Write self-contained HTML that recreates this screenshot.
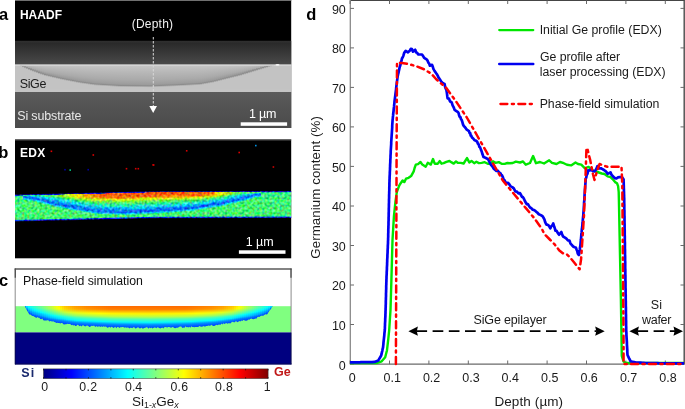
<!DOCTYPE html>
<html><head><meta charset="utf-8"><style>
html,body{margin:0;padding:0;background:#fff;width:685px;height:409px;overflow:hidden}
svg{display:block;will-change:transform;font-family:"Liberation Sans",sans-serif}
</style></head><body>
<svg width="685" height="409" viewBox="0 0 685 409" font-family="Liberation Sans, sans-serif">
<defs>
<linearGradient id="topdark" x1="0" y1="0" x2="0" y2="1"><stop offset="0" stop-color="#303030"/><stop offset="0.12" stop-color="#2a2a2a"/><stop offset="1" stop-color="#4a4a4a"/></linearGradient>
<linearGradient id="subst" x1="0" y1="0" x2="0" y2="1"><stop offset="0" stop-color="#5b5b5b"/><stop offset="0.5" stop-color="#525252"/><stop offset="1" stop-color="#4b4b4b"/></linearGradient>
<linearGradient id="g0" gradientUnits="userSpaceOnUse" x1="0" y1="64.50" x2="0" y2="91.50"><stop offset="0.000" stop-color="#c8c8c8"/><stop offset="0.010" stop-color="#b8b8b8"/><stop offset="0.020" stop-color="#aaaaaa"/><stop offset="0.020" stop-color="#9c9c9c"/><stop offset="0.020" stop-color="#8c8c8c"/><stop offset="0.051" stop-color="#b0b0b0"/><stop offset="0.080" stop-color="#c3c3c3"/><stop offset="1.000" stop-color="#c3c3c3"/></linearGradient>
<linearGradient id="g1" gradientUnits="userSpaceOnUse" x1="0" y1="64.50" x2="0" y2="91.50"><stop offset="0.000" stop-color="#c8c8c8"/><stop offset="0.023" stop-color="#b8b8b8"/><stop offset="0.046" stop-color="#aaaaaa"/><stop offset="0.046" stop-color="#9c9c9c"/><stop offset="0.055" stop-color="#8c8c8c"/><stop offset="0.088" stop-color="#b0b0b0"/><stop offset="0.118" stop-color="#c3c3c3"/><stop offset="1.000" stop-color="#c3c3c3"/></linearGradient>
<linearGradient id="g2" gradientUnits="userSpaceOnUse" x1="0" y1="64.50" x2="0" y2="91.50"><stop offset="0.000" stop-color="#c8c8c8"/><stop offset="0.035" stop-color="#b8b8b8"/><stop offset="0.071" stop-color="#aaaaaa"/><stop offset="0.071" stop-color="#9c9c9c"/><stop offset="0.090" stop-color="#8c8c8c"/><stop offset="0.123" stop-color="#b0b0b0"/><stop offset="0.153" stop-color="#c3c3c3"/><stop offset="1.000" stop-color="#c3c3c3"/></linearGradient>
<linearGradient id="g3" gradientUnits="userSpaceOnUse" x1="0" y1="64.50" x2="0" y2="91.50"><stop offset="0.000" stop-color="#c8c8c8"/><stop offset="0.046" stop-color="#b8b8b8"/><stop offset="0.093" stop-color="#aaaaaa"/><stop offset="0.093" stop-color="#9c9c9c"/><stop offset="0.122" stop-color="#8c8c8c"/><stop offset="0.155" stop-color="#b0b0b0"/><stop offset="0.185" stop-color="#c3c3c3"/><stop offset="1.000" stop-color="#c3c3c3"/></linearGradient>
<linearGradient id="g4" gradientUnits="userSpaceOnUse" x1="0" y1="64.50" x2="0" y2="91.50"><stop offset="0.000" stop-color="#c8c8c8"/><stop offset="0.058" stop-color="#b8b8b8"/><stop offset="0.115" stop-color="#aaaaaa"/><stop offset="0.115" stop-color="#9c9c9c"/><stop offset="0.153" stop-color="#8c8c8c"/><stop offset="0.187" stop-color="#b0b0b0"/><stop offset="0.216" stop-color="#c3c3c3"/><stop offset="1.000" stop-color="#c3c3c3"/></linearGradient>
<linearGradient id="g5" gradientUnits="userSpaceOnUse" x1="0" y1="64.50" x2="0" y2="91.50"><stop offset="0.000" stop-color="#c8c8c8"/><stop offset="0.068" stop-color="#b8b8b8"/><stop offset="0.137" stop-color="#aaaaaa"/><stop offset="0.137" stop-color="#9c9c9c"/><stop offset="0.184" stop-color="#8c8c8c"/><stop offset="0.217" stop-color="#b0b0b0"/><stop offset="0.247" stop-color="#c3c3c3"/><stop offset="1.000" stop-color="#c3c3c3"/></linearGradient>
<linearGradient id="g6" gradientUnits="userSpaceOnUse" x1="0" y1="64.50" x2="0" y2="91.50"><stop offset="0.000" stop-color="#c8c8c8"/><stop offset="0.078" stop-color="#b8b8b8"/><stop offset="0.156" stop-color="#aaaaaa"/><stop offset="0.164" stop-color="#9c9c9c"/><stop offset="0.212" stop-color="#8c8c8c"/><stop offset="0.246" stop-color="#b0b0b0"/><stop offset="0.275" stop-color="#c3c3c3"/><stop offset="1.000" stop-color="#c3c3c3"/></linearGradient>
<linearGradient id="g7" gradientUnits="userSpaceOnUse" x1="0" y1="64.50" x2="0" y2="91.50"><stop offset="0.000" stop-color="#c8c8c8"/><stop offset="0.088" stop-color="#b8b8b8"/><stop offset="0.176" stop-color="#aaaaaa"/><stop offset="0.193" stop-color="#9c9c9c"/><stop offset="0.241" stop-color="#8c8c8c"/><stop offset="0.274" stop-color="#b0b0b0"/><stop offset="0.304" stop-color="#c3c3c3"/><stop offset="1.000" stop-color="#c3c3c3"/></linearGradient>
<linearGradient id="g8" gradientUnits="userSpaceOnUse" x1="0" y1="64.50" x2="0" y2="91.50"><stop offset="0.000" stop-color="#c8c8c8"/><stop offset="0.098" stop-color="#b8b8b8"/><stop offset="0.196" stop-color="#aaaaaa"/><stop offset="0.221" stop-color="#9c9c9c"/><stop offset="0.269" stop-color="#8c8c8c"/><stop offset="0.302" stop-color="#b0b0b0"/><stop offset="0.332" stop-color="#c3c3c3"/><stop offset="1.000" stop-color="#c3c3c3"/></linearGradient>
<linearGradient id="g9" gradientUnits="userSpaceOnUse" x1="0" y1="64.50" x2="0" y2="91.50"><stop offset="0.000" stop-color="#c8c8c8"/><stop offset="0.108" stop-color="#b8b8b8"/><stop offset="0.215" stop-color="#aaaaaa"/><stop offset="0.248" stop-color="#9c9c9c"/><stop offset="0.296" stop-color="#8c8c8c"/><stop offset="0.330" stop-color="#b0b0b0"/><stop offset="0.359" stop-color="#c3c3c3"/><stop offset="1.000" stop-color="#c3c3c3"/></linearGradient>
<linearGradient id="g10" gradientUnits="userSpaceOnUse" x1="0" y1="64.50" x2="0" y2="91.50"><stop offset="0.000" stop-color="#c8c8c8"/><stop offset="0.116" stop-color="#b8b8b8"/><stop offset="0.232" stop-color="#aaaaaa"/><stop offset="0.273" stop-color="#9c9c9c"/><stop offset="0.321" stop-color="#8c8c8c"/><stop offset="0.354" stop-color="#b0b0b0"/><stop offset="0.384" stop-color="#c3c3c3"/><stop offset="1.000" stop-color="#c3c3c3"/></linearGradient>
<linearGradient id="g11" gradientUnits="userSpaceOnUse" x1="0" y1="64.50" x2="0" y2="91.50"><stop offset="0.000" stop-color="#c8c8c8"/><stop offset="0.125" stop-color="#b8b8b8"/><stop offset="0.250" stop-color="#aaaaaa"/><stop offset="0.298" stop-color="#9c9c9c"/><stop offset="0.346" stop-color="#8c8c8c"/><stop offset="0.379" stop-color="#b0b0b0"/><stop offset="0.409" stop-color="#c3c3c3"/><stop offset="1.000" stop-color="#c3c3c3"/></linearGradient>
<linearGradient id="g12" gradientUnits="userSpaceOnUse" x1="0" y1="64.50" x2="0" y2="91.50"><stop offset="0.000" stop-color="#c8c8c8"/><stop offset="0.134" stop-color="#b8b8b8"/><stop offset="0.267" stop-color="#aaaaaa"/><stop offset="0.322" stop-color="#9c9c9c"/><stop offset="0.370" stop-color="#8c8c8c"/><stop offset="0.404" stop-color="#b0b0b0"/><stop offset="0.433" stop-color="#c3c3c3"/><stop offset="1.000" stop-color="#c3c3c3"/></linearGradient>
<linearGradient id="g13" gradientUnits="userSpaceOnUse" x1="0" y1="64.50" x2="0" y2="91.50"><stop offset="0.000" stop-color="#c8c8c8"/><stop offset="0.140" stop-color="#b8b8b8"/><stop offset="0.279" stop-color="#aaaaaa"/><stop offset="0.340" stop-color="#9c9c9c"/><stop offset="0.388" stop-color="#8c8c8c"/><stop offset="0.421" stop-color="#b0b0b0"/><stop offset="0.451" stop-color="#c3c3c3"/><stop offset="1.000" stop-color="#c3c3c3"/></linearGradient>
<linearGradient id="g14" gradientUnits="userSpaceOnUse" x1="0" y1="64.50" x2="0" y2="91.50"><stop offset="0.000" stop-color="#c8c8c8"/><stop offset="0.146" stop-color="#b8b8b8"/><stop offset="0.291" stop-color="#aaaaaa"/><stop offset="0.357" stop-color="#9c9c9c"/><stop offset="0.405" stop-color="#8c8c8c"/><stop offset="0.438" stop-color="#b0b0b0"/><stop offset="0.468" stop-color="#c3c3c3"/><stop offset="1.000" stop-color="#c3c3c3"/></linearGradient>
<linearGradient id="g15" gradientUnits="userSpaceOnUse" x1="0" y1="64.50" x2="0" y2="91.50"><stop offset="0.000" stop-color="#c8c8c8"/><stop offset="0.152" stop-color="#b8b8b8"/><stop offset="0.303" stop-color="#aaaaaa"/><stop offset="0.374" stop-color="#9c9c9c"/><stop offset="0.422" stop-color="#8c8c8c"/><stop offset="0.456" stop-color="#b0b0b0"/><stop offset="0.485" stop-color="#c3c3c3"/><stop offset="1.000" stop-color="#c3c3c3"/></linearGradient>
<linearGradient id="g16" gradientUnits="userSpaceOnUse" x1="0" y1="64.50" x2="0" y2="91.50"><stop offset="0.000" stop-color="#c8c8c8"/><stop offset="0.158" stop-color="#b8b8b8"/><stop offset="0.315" stop-color="#aaaaaa"/><stop offset="0.391" stop-color="#9c9c9c"/><stop offset="0.440" stop-color="#8c8c8c"/><stop offset="0.473" stop-color="#b0b0b0"/><stop offset="0.503" stop-color="#c3c3c3"/><stop offset="1.000" stop-color="#c3c3c3"/></linearGradient>
<linearGradient id="g17" gradientUnits="userSpaceOnUse" x1="0" y1="64.50" x2="0" y2="91.50"><stop offset="0.000" stop-color="#c8c8c8"/><stop offset="0.164" stop-color="#b8b8b8"/><stop offset="0.328" stop-color="#aaaaaa"/><stop offset="0.409" stop-color="#9c9c9c"/><stop offset="0.457" stop-color="#8c8c8c"/><stop offset="0.490" stop-color="#b0b0b0"/><stop offset="0.520" stop-color="#c3c3c3"/><stop offset="1.000" stop-color="#c3c3c3"/></linearGradient>
<linearGradient id="g18" gradientUnits="userSpaceOnUse" x1="0" y1="64.50" x2="0" y2="91.50"><stop offset="0.000" stop-color="#c8c8c8"/><stop offset="0.170" stop-color="#b8b8b8"/><stop offset="0.340" stop-color="#aaaaaa"/><stop offset="0.426" stop-color="#9c9c9c"/><stop offset="0.474" stop-color="#8c8c8c"/><stop offset="0.507" stop-color="#b0b0b0"/><stop offset="0.537" stop-color="#c3c3c3"/><stop offset="1.000" stop-color="#c3c3c3"/></linearGradient>
<linearGradient id="g19" gradientUnits="userSpaceOnUse" x1="0" y1="64.50" x2="0" y2="91.50"><stop offset="0.000" stop-color="#c8c8c8"/><stop offset="0.176" stop-color="#b8b8b8"/><stop offset="0.352" stop-color="#aaaaaa"/><stop offset="0.443" stop-color="#9c9c9c"/><stop offset="0.491" stop-color="#8c8c8c"/><stop offset="0.525" stop-color="#b0b0b0"/><stop offset="0.554" stop-color="#c3c3c3"/><stop offset="1.000" stop-color="#c3c3c3"/></linearGradient>
<linearGradient id="g20" gradientUnits="userSpaceOnUse" x1="0" y1="64.50" x2="0" y2="91.50"><stop offset="0.000" stop-color="#c8c8c8"/><stop offset="0.182" stop-color="#b8b8b8"/><stop offset="0.364" stop-color="#aaaaaa"/><stop offset="0.461" stop-color="#9c9c9c"/><stop offset="0.509" stop-color="#8c8c8c"/><stop offset="0.542" stop-color="#b0b0b0"/><stop offset="0.572" stop-color="#c3c3c3"/><stop offset="1.000" stop-color="#c3c3c3"/></linearGradient>
<linearGradient id="g21" gradientUnits="userSpaceOnUse" x1="0" y1="64.50" x2="0" y2="91.50"><stop offset="0.000" stop-color="#c8c8c8"/><stop offset="0.187" stop-color="#b8b8b8"/><stop offset="0.375" stop-color="#aaaaaa"/><stop offset="0.476" stop-color="#9c9c9c"/><stop offset="0.524" stop-color="#8c8c8c"/><stop offset="0.557" stop-color="#b0b0b0"/><stop offset="0.587" stop-color="#c3c3c3"/><stop offset="1.000" stop-color="#c3c3c3"/></linearGradient>
<linearGradient id="g22" gradientUnits="userSpaceOnUse" x1="0" y1="64.50" x2="0" y2="91.50"><stop offset="0.000" stop-color="#c8c8c8"/><stop offset="0.192" stop-color="#b8b8b8"/><stop offset="0.385" stop-color="#aaaaaa"/><stop offset="0.490" stop-color="#9c9c9c"/><stop offset="0.538" stop-color="#8c8c8c"/><stop offset="0.572" stop-color="#b0b0b0"/><stop offset="0.601" stop-color="#c3c3c3"/><stop offset="1.000" stop-color="#c3c3c3"/></linearGradient>
<linearGradient id="g23" gradientUnits="userSpaceOnUse" x1="0" y1="64.50" x2="0" y2="91.50"><stop offset="0.000" stop-color="#c8c8c8"/><stop offset="0.197" stop-color="#b8b8b8"/><stop offset="0.394" stop-color="#aaaaaa"/><stop offset="0.504" stop-color="#9c9c9c"/><stop offset="0.552" stop-color="#8c8c8c"/><stop offset="0.586" stop-color="#b0b0b0"/><stop offset="0.615" stop-color="#c3c3c3"/><stop offset="1.000" stop-color="#c3c3c3"/></linearGradient>
<linearGradient id="g24" gradientUnits="userSpaceOnUse" x1="0" y1="64.50" x2="0" y2="91.50"><stop offset="0.000" stop-color="#c8c8c8"/><stop offset="0.202" stop-color="#b8b8b8"/><stop offset="0.404" stop-color="#aaaaaa"/><stop offset="0.518" stop-color="#9c9c9c"/><stop offset="0.567" stop-color="#8c8c8c"/><stop offset="0.600" stop-color="#b0b0b0"/><stop offset="0.629" stop-color="#c3c3c3"/><stop offset="1.000" stop-color="#c3c3c3"/></linearGradient>
<linearGradient id="g25" gradientUnits="userSpaceOnUse" x1="0" y1="64.50" x2="0" y2="91.50"><stop offset="0.000" stop-color="#c8c8c8"/><stop offset="0.207" stop-color="#b8b8b8"/><stop offset="0.414" stop-color="#aaaaaa"/><stop offset="0.533" stop-color="#9c9c9c"/><stop offset="0.581" stop-color="#8c8c8c"/><stop offset="0.614" stop-color="#b0b0b0"/><stop offset="0.644" stop-color="#c3c3c3"/><stop offset="1.000" stop-color="#c3c3c3"/></linearGradient>
<linearGradient id="g26" gradientUnits="userSpaceOnUse" x1="0" y1="64.50" x2="0" y2="91.50"><stop offset="0.000" stop-color="#c8c8c8"/><stop offset="0.212" stop-color="#b8b8b8"/><stop offset="0.424" stop-color="#aaaaaa"/><stop offset="0.547" stop-color="#9c9c9c"/><stop offset="0.595" stop-color="#8c8c8c"/><stop offset="0.628" stop-color="#b0b0b0"/><stop offset="0.658" stop-color="#c3c3c3"/><stop offset="1.000" stop-color="#c3c3c3"/></linearGradient>
<linearGradient id="g27" gradientUnits="userSpaceOnUse" x1="0" y1="64.50" x2="0" y2="91.50"><stop offset="0.000" stop-color="#c8c8c8"/><stop offset="0.217" stop-color="#b8b8b8"/><stop offset="0.434" stop-color="#aaaaaa"/><stop offset="0.561" stop-color="#9c9c9c"/><stop offset="0.609" stop-color="#8c8c8c"/><stop offset="0.642" stop-color="#b0b0b0"/><stop offset="0.672" stop-color="#c3c3c3"/><stop offset="1.000" stop-color="#c3c3c3"/></linearGradient>
<linearGradient id="g28" gradientUnits="userSpaceOnUse" x1="0" y1="64.50" x2="0" y2="91.50"><stop offset="0.000" stop-color="#c8c8c8"/><stop offset="0.222" stop-color="#b8b8b8"/><stop offset="0.444" stop-color="#aaaaaa"/><stop offset="0.575" stop-color="#9c9c9c"/><stop offset="0.623" stop-color="#8c8c8c"/><stop offset="0.657" stop-color="#b0b0b0"/><stop offset="0.686" stop-color="#c3c3c3"/><stop offset="1.000" stop-color="#c3c3c3"/></linearGradient>
<linearGradient id="g29" gradientUnits="userSpaceOnUse" x1="0" y1="64.50" x2="0" y2="91.50"><stop offset="0.000" stop-color="#c8c8c8"/><stop offset="0.227" stop-color="#b8b8b8"/><stop offset="0.454" stop-color="#aaaaaa"/><stop offset="0.589" stop-color="#9c9c9c"/><stop offset="0.637" stop-color="#8c8c8c"/><stop offset="0.671" stop-color="#b0b0b0"/><stop offset="0.700" stop-color="#c3c3c3"/><stop offset="1.000" stop-color="#c3c3c3"/></linearGradient>
<linearGradient id="g30" gradientUnits="userSpaceOnUse" x1="0" y1="64.50" x2="0" y2="91.50"><stop offset="0.000" stop-color="#c8c8c8"/><stop offset="0.231" stop-color="#b8b8b8"/><stop offset="0.463" stop-color="#aaaaaa"/><stop offset="0.601" stop-color="#9c9c9c"/><stop offset="0.650" stop-color="#8c8c8c"/><stop offset="0.683" stop-color="#b0b0b0"/><stop offset="0.713" stop-color="#c3c3c3"/><stop offset="1.000" stop-color="#c3c3c3"/></linearGradient>
<linearGradient id="g31" gradientUnits="userSpaceOnUse" x1="0" y1="64.50" x2="0" y2="91.50"><stop offset="0.000" stop-color="#c8c8c8"/><stop offset="0.235" stop-color="#b8b8b8"/><stop offset="0.470" stop-color="#aaaaaa"/><stop offset="0.612" stop-color="#9c9c9c"/><stop offset="0.660" stop-color="#8c8c8c"/><stop offset="0.693" stop-color="#b0b0b0"/><stop offset="0.723" stop-color="#c3c3c3"/><stop offset="1.000" stop-color="#c3c3c3"/></linearGradient>
<linearGradient id="g32" gradientUnits="userSpaceOnUse" x1="0" y1="64.50" x2="0" y2="91.50"><stop offset="0.000" stop-color="#c8c8c8"/><stop offset="0.239" stop-color="#b8b8b8"/><stop offset="0.477" stop-color="#aaaaaa"/><stop offset="0.622" stop-color="#9c9c9c"/><stop offset="0.670" stop-color="#8c8c8c"/><stop offset="0.704" stop-color="#b0b0b0"/><stop offset="0.733" stop-color="#c3c3c3"/><stop offset="1.000" stop-color="#c3c3c3"/></linearGradient>
<linearGradient id="g33" gradientUnits="userSpaceOnUse" x1="0" y1="64.50" x2="0" y2="91.50"><stop offset="0.000" stop-color="#c8c8c8"/><stop offset="0.242" stop-color="#b8b8b8"/><stop offset="0.484" stop-color="#aaaaaa"/><stop offset="0.633" stop-color="#9c9c9c"/><stop offset="0.681" stop-color="#8c8c8c"/><stop offset="0.714" stop-color="#b0b0b0"/><stop offset="0.744" stop-color="#c3c3c3"/><stop offset="1.000" stop-color="#c3c3c3"/></linearGradient>
<linearGradient id="g34" gradientUnits="userSpaceOnUse" x1="0" y1="64.50" x2="0" y2="91.50"><stop offset="0.000" stop-color="#c8c8c8"/><stop offset="0.246" stop-color="#b8b8b8"/><stop offset="0.492" stop-color="#aaaaaa"/><stop offset="0.643" stop-color="#9c9c9c"/><stop offset="0.691" stop-color="#8c8c8c"/><stop offset="0.724" stop-color="#b0b0b0"/><stop offset="0.754" stop-color="#c3c3c3"/><stop offset="1.000" stop-color="#c3c3c3"/></linearGradient>
<linearGradient id="g35" gradientUnits="userSpaceOnUse" x1="0" y1="64.50" x2="0" y2="91.50"><stop offset="0.000" stop-color="#c8c8c8"/><stop offset="0.249" stop-color="#b8b8b8"/><stop offset="0.499" stop-color="#aaaaaa"/><stop offset="0.653" stop-color="#9c9c9c"/><stop offset="0.701" stop-color="#8c8c8c"/><stop offset="0.735" stop-color="#b0b0b0"/><stop offset="0.764" stop-color="#c3c3c3"/><stop offset="1.000" stop-color="#c3c3c3"/></linearGradient>
<linearGradient id="g36" gradientUnits="userSpaceOnUse" x1="0" y1="64.50" x2="0" y2="91.50"><stop offset="0.000" stop-color="#c8c8c8"/><stop offset="0.253" stop-color="#b8b8b8"/><stop offset="0.506" stop-color="#aaaaaa"/><stop offset="0.664" stop-color="#9c9c9c"/><stop offset="0.712" stop-color="#8c8c8c"/><stop offset="0.745" stop-color="#b0b0b0"/><stop offset="0.775" stop-color="#c3c3c3"/><stop offset="1.000" stop-color="#c3c3c3"/></linearGradient>
<linearGradient id="g37" gradientUnits="userSpaceOnUse" x1="0" y1="64.50" x2="0" y2="91.50"><stop offset="0.000" stop-color="#c8c8c8"/><stop offset="0.257" stop-color="#b8b8b8"/><stop offset="0.513" stop-color="#aaaaaa"/><stop offset="0.674" stop-color="#9c9c9c"/><stop offset="0.722" stop-color="#8c8c8c"/><stop offset="0.756" stop-color="#b0b0b0"/><stop offset="0.785" stop-color="#c3c3c3"/><stop offset="1.000" stop-color="#c3c3c3"/></linearGradient>
<linearGradient id="g38" gradientUnits="userSpaceOnUse" x1="0" y1="64.50" x2="0" y2="91.50"><stop offset="0.000" stop-color="#c8c8c8"/><stop offset="0.258" stop-color="#b8b8b8"/><stop offset="0.516" stop-color="#aaaaaa"/><stop offset="0.679" stop-color="#9c9c9c"/><stop offset="0.727" stop-color="#8c8c8c"/><stop offset="0.760" stop-color="#b0b0b0"/><stop offset="0.790" stop-color="#c3c3c3"/><stop offset="1.000" stop-color="#c3c3c3"/></linearGradient>
<linearGradient id="g39" gradientUnits="userSpaceOnUse" x1="0" y1="64.50" x2="0" y2="91.50"><stop offset="0.000" stop-color="#c8c8c8"/><stop offset="0.260" stop-color="#b8b8b8"/><stop offset="0.520" stop-color="#aaaaaa"/><stop offset="0.683" stop-color="#9c9c9c"/><stop offset="0.731" stop-color="#8c8c8c"/><stop offset="0.764" stop-color="#b0b0b0"/><stop offset="0.794" stop-color="#c3c3c3"/><stop offset="1.000" stop-color="#c3c3c3"/></linearGradient>
<linearGradient id="g40" gradientUnits="userSpaceOnUse" x1="0" y1="64.50" x2="0" y2="91.50"><stop offset="0.000" stop-color="#c8c8c8"/><stop offset="0.261" stop-color="#b8b8b8"/><stop offset="0.523" stop-color="#aaaaaa"/><stop offset="0.687" stop-color="#9c9c9c"/><stop offset="0.736" stop-color="#8c8c8c"/><stop offset="0.769" stop-color="#b0b0b0"/><stop offset="0.799" stop-color="#c3c3c3"/><stop offset="1.000" stop-color="#c3c3c3"/></linearGradient>
<linearGradient id="g41" gradientUnits="userSpaceOnUse" x1="0" y1="64.50" x2="0" y2="91.50"><stop offset="0.000" stop-color="#c8c8c8"/><stop offset="0.263" stop-color="#b8b8b8"/><stop offset="0.526" stop-color="#aaaaaa"/><stop offset="0.692" stop-color="#9c9c9c"/><stop offset="0.740" stop-color="#8c8c8c"/><stop offset="0.773" stop-color="#b0b0b0"/><stop offset="0.803" stop-color="#c3c3c3"/><stop offset="1.000" stop-color="#c3c3c3"/></linearGradient>
<linearGradient id="g42" gradientUnits="userSpaceOnUse" x1="0" y1="64.50" x2="0" y2="91.50"><stop offset="0.000" stop-color="#c8c8c8"/><stop offset="0.264" stop-color="#b8b8b8"/><stop offset="0.529" stop-color="#aaaaaa"/><stop offset="0.696" stop-color="#9c9c9c"/><stop offset="0.744" stop-color="#8c8c8c"/><stop offset="0.778" stop-color="#b0b0b0"/><stop offset="0.807" stop-color="#c3c3c3"/><stop offset="1.000" stop-color="#c3c3c3"/></linearGradient>
<linearGradient id="g43" gradientUnits="userSpaceOnUse" x1="0" y1="64.50" x2="0" y2="91.50"><stop offset="0.000" stop-color="#c8c8c8"/><stop offset="0.266" stop-color="#b8b8b8"/><stop offset="0.532" stop-color="#aaaaaa"/><stop offset="0.701" stop-color="#9c9c9c"/><stop offset="0.749" stop-color="#8c8c8c"/><stop offset="0.782" stop-color="#b0b0b0"/><stop offset="0.812" stop-color="#c3c3c3"/><stop offset="1.000" stop-color="#c3c3c3"/></linearGradient>
<linearGradient id="g44" gradientUnits="userSpaceOnUse" x1="0" y1="64.50" x2="0" y2="91.50"><stop offset="0.000" stop-color="#c8c8c8"/><stop offset="0.268" stop-color="#b8b8b8"/><stop offset="0.535" stop-color="#aaaaaa"/><stop offset="0.705" stop-color="#9c9c9c"/><stop offset="0.753" stop-color="#8c8c8c"/><stop offset="0.787" stop-color="#b0b0b0"/><stop offset="0.816" stop-color="#c3c3c3"/><stop offset="1.000" stop-color="#c3c3c3"/></linearGradient>
<linearGradient id="g45" gradientUnits="userSpaceOnUse" x1="0" y1="64.50" x2="0" y2="91.50"><stop offset="0.000" stop-color="#c8c8c8"/><stop offset="0.269" stop-color="#b8b8b8"/><stop offset="0.538" stop-color="#aaaaaa"/><stop offset="0.710" stop-color="#9c9c9c"/><stop offset="0.758" stop-color="#8c8c8c"/><stop offset="0.791" stop-color="#b0b0b0"/><stop offset="0.821" stop-color="#c3c3c3"/><stop offset="1.000" stop-color="#c3c3c3"/></linearGradient>
<linearGradient id="g46" gradientUnits="userSpaceOnUse" x1="0" y1="64.50" x2="0" y2="91.50"><stop offset="0.000" stop-color="#c8c8c8"/><stop offset="0.271" stop-color="#b8b8b8"/><stop offset="0.541" stop-color="#aaaaaa"/><stop offset="0.714" stop-color="#9c9c9c"/><stop offset="0.762" stop-color="#8c8c8c"/><stop offset="0.796" stop-color="#b0b0b0"/><stop offset="0.825" stop-color="#c3c3c3"/><stop offset="1.000" stop-color="#c3c3c3"/></linearGradient>
<linearGradient id="g47" gradientUnits="userSpaceOnUse" x1="0" y1="64.50" x2="0" y2="91.50"><stop offset="0.000" stop-color="#c8c8c8"/><stop offset="0.272" stop-color="#b8b8b8"/><stop offset="0.544" stop-color="#aaaaaa"/><stop offset="0.719" stop-color="#9c9c9c"/><stop offset="0.767" stop-color="#8c8c8c"/><stop offset="0.800" stop-color="#b0b0b0"/><stop offset="0.830" stop-color="#c3c3c3"/><stop offset="1.000" stop-color="#c3c3c3"/></linearGradient>
<linearGradient id="g48" gradientUnits="userSpaceOnUse" x1="0" y1="64.50" x2="0" y2="91.50"><stop offset="0.000" stop-color="#c8c8c8"/><stop offset="0.274" stop-color="#b8b8b8"/><stop offset="0.548" stop-color="#aaaaaa"/><stop offset="0.723" stop-color="#9c9c9c"/><stop offset="0.771" stop-color="#8c8c8c"/><stop offset="0.804" stop-color="#b0b0b0"/><stop offset="0.834" stop-color="#c3c3c3"/><stop offset="1.000" stop-color="#c3c3c3"/></linearGradient>
<linearGradient id="g49" gradientUnits="userSpaceOnUse" x1="0" y1="64.50" x2="0" y2="91.50"><stop offset="0.000" stop-color="#c8c8c8"/><stop offset="0.275" stop-color="#b8b8b8"/><stop offset="0.551" stop-color="#aaaaaa"/><stop offset="0.727" stop-color="#9c9c9c"/><stop offset="0.776" stop-color="#8c8c8c"/><stop offset="0.809" stop-color="#b0b0b0"/><stop offset="0.839" stop-color="#c3c3c3"/><stop offset="1.000" stop-color="#c3c3c3"/></linearGradient>
<linearGradient id="g50" gradientUnits="userSpaceOnUse" x1="0" y1="64.50" x2="0" y2="91.50"><stop offset="0.000" stop-color="#c8c8c8"/><stop offset="0.276" stop-color="#b8b8b8"/><stop offset="0.553" stop-color="#aaaaaa"/><stop offset="0.730" stop-color="#9c9c9c"/><stop offset="0.778" stop-color="#8c8c8c"/><stop offset="0.812" stop-color="#b0b0b0"/><stop offset="0.841" stop-color="#c3c3c3"/><stop offset="1.000" stop-color="#c3c3c3"/></linearGradient>
<linearGradient id="g51" gradientUnits="userSpaceOnUse" x1="0" y1="64.50" x2="0" y2="91.50"><stop offset="0.000" stop-color="#c8c8c8"/><stop offset="0.277" stop-color="#b8b8b8"/><stop offset="0.553" stop-color="#aaaaaa"/><stop offset="0.731" stop-color="#9c9c9c"/><stop offset="0.779" stop-color="#8c8c8c"/><stop offset="0.813" stop-color="#b0b0b0"/><stop offset="0.842" stop-color="#c3c3c3"/><stop offset="1.000" stop-color="#c3c3c3"/></linearGradient>
<linearGradient id="g52" gradientUnits="userSpaceOnUse" x1="0" y1="64.50" x2="0" y2="91.50"><stop offset="0.000" stop-color="#c8c8c8"/><stop offset="0.277" stop-color="#b8b8b8"/><stop offset="0.554" stop-color="#aaaaaa"/><stop offset="0.732" stop-color="#9c9c9c"/><stop offset="0.780" stop-color="#8c8c8c"/><stop offset="0.814" stop-color="#b0b0b0"/><stop offset="0.843" stop-color="#c3c3c3"/><stop offset="1.000" stop-color="#c3c3c3"/></linearGradient>
<linearGradient id="g53" gradientUnits="userSpaceOnUse" x1="0" y1="64.50" x2="0" y2="91.50"><stop offset="0.000" stop-color="#c8c8c8"/><stop offset="0.277" stop-color="#b8b8b8"/><stop offset="0.555" stop-color="#aaaaaa"/><stop offset="0.733" stop-color="#9c9c9c"/><stop offset="0.781" stop-color="#8c8c8c"/><stop offset="0.815" stop-color="#b0b0b0"/><stop offset="0.844" stop-color="#c3c3c3"/><stop offset="1.000" stop-color="#c3c3c3"/></linearGradient>
<linearGradient id="g54" gradientUnits="userSpaceOnUse" x1="0" y1="64.50" x2="0" y2="91.50"><stop offset="0.000" stop-color="#c8c8c8"/><stop offset="0.278" stop-color="#b8b8b8"/><stop offset="0.555" stop-color="#aaaaaa"/><stop offset="0.734" stop-color="#9c9c9c"/><stop offset="0.782" stop-color="#8c8c8c"/><stop offset="0.816" stop-color="#b0b0b0"/><stop offset="0.845" stop-color="#c3c3c3"/><stop offset="1.000" stop-color="#c3c3c3"/></linearGradient>
<linearGradient id="g55" gradientUnits="userSpaceOnUse" x1="0" y1="64.50" x2="0" y2="91.50"><stop offset="0.000" stop-color="#c8c8c8"/><stop offset="0.278" stop-color="#b8b8b8"/><stop offset="0.556" stop-color="#aaaaaa"/><stop offset="0.735" stop-color="#9c9c9c"/><stop offset="0.783" stop-color="#8c8c8c"/><stop offset="0.817" stop-color="#b0b0b0"/><stop offset="0.846" stop-color="#c3c3c3"/><stop offset="1.000" stop-color="#c3c3c3"/></linearGradient>
<linearGradient id="g56" gradientUnits="userSpaceOnUse" x1="0" y1="64.50" x2="0" y2="91.50"><stop offset="0.000" stop-color="#c8c8c8"/><stop offset="0.278" stop-color="#b8b8b8"/><stop offset="0.557" stop-color="#aaaaaa"/><stop offset="0.736" stop-color="#9c9c9c"/><stop offset="0.784" stop-color="#8c8c8c"/><stop offset="0.818" stop-color="#b0b0b0"/><stop offset="0.847" stop-color="#c3c3c3"/><stop offset="1.000" stop-color="#c3c3c3"/></linearGradient>
<linearGradient id="g57" gradientUnits="userSpaceOnUse" x1="0" y1="64.50" x2="0" y2="91.50"><stop offset="0.000" stop-color="#c8c8c8"/><stop offset="0.279" stop-color="#b8b8b8"/><stop offset="0.557" stop-color="#aaaaaa"/><stop offset="0.737" stop-color="#9c9c9c"/><stop offset="0.785" stop-color="#8c8c8c"/><stop offset="0.819" stop-color="#b0b0b0"/><stop offset="0.848" stop-color="#c3c3c3"/><stop offset="1.000" stop-color="#c3c3c3"/></linearGradient>
<linearGradient id="g58" gradientUnits="userSpaceOnUse" x1="0" y1="64.50" x2="0" y2="91.50"><stop offset="0.000" stop-color="#c8c8c8"/><stop offset="0.279" stop-color="#b8b8b8"/><stop offset="0.558" stop-color="#aaaaaa"/><stop offset="0.738" stop-color="#9c9c9c"/><stop offset="0.786" stop-color="#8c8c8c"/><stop offset="0.820" stop-color="#b0b0b0"/><stop offset="0.849" stop-color="#c3c3c3"/><stop offset="1.000" stop-color="#c3c3c3"/></linearGradient>
<linearGradient id="g59" gradientUnits="userSpaceOnUse" x1="0" y1="64.50" x2="0" y2="91.50"><stop offset="0.000" stop-color="#c8c8c8"/><stop offset="0.279" stop-color="#b8b8b8"/><stop offset="0.559" stop-color="#aaaaaa"/><stop offset="0.739" stop-color="#9c9c9c"/><stop offset="0.787" stop-color="#8c8c8c"/><stop offset="0.820" stop-color="#b0b0b0"/><stop offset="0.850" stop-color="#c3c3c3"/><stop offset="1.000" stop-color="#c3c3c3"/></linearGradient>
<linearGradient id="g60" gradientUnits="userSpaceOnUse" x1="0" y1="64.50" x2="0" y2="91.50"><stop offset="0.000" stop-color="#c8c8c8"/><stop offset="0.280" stop-color="#b8b8b8"/><stop offset="0.559" stop-color="#aaaaaa"/><stop offset="0.740" stop-color="#9c9c9c"/><stop offset="0.788" stop-color="#8c8c8c"/><stop offset="0.821" stop-color="#b0b0b0"/><stop offset="0.851" stop-color="#c3c3c3"/><stop offset="1.000" stop-color="#c3c3c3"/></linearGradient>
<linearGradient id="g61" gradientUnits="userSpaceOnUse" x1="0" y1="64.50" x2="0" y2="91.50"><stop offset="0.000" stop-color="#c8c8c8"/><stop offset="0.280" stop-color="#b8b8b8"/><stop offset="0.560" stop-color="#aaaaaa"/><stop offset="0.741" stop-color="#9c9c9c"/><stop offset="0.789" stop-color="#8c8c8c"/><stop offset="0.822" stop-color="#b0b0b0"/><stop offset="0.852" stop-color="#c3c3c3"/><stop offset="1.000" stop-color="#c3c3c3"/></linearGradient>
<linearGradient id="g62" gradientUnits="userSpaceOnUse" x1="0" y1="64.50" x2="0" y2="91.50"><stop offset="0.000" stop-color="#c8c8c8"/><stop offset="0.280" stop-color="#b8b8b8"/><stop offset="0.561" stop-color="#aaaaaa"/><stop offset="0.742" stop-color="#9c9c9c"/><stop offset="0.790" stop-color="#8c8c8c"/><stop offset="0.823" stop-color="#b0b0b0"/><stop offset="0.853" stop-color="#c3c3c3"/><stop offset="1.000" stop-color="#c3c3c3"/></linearGradient>
<linearGradient id="g63" gradientUnits="userSpaceOnUse" x1="0" y1="64.50" x2="0" y2="91.50"><stop offset="0.000" stop-color="#c8c8c8"/><stop offset="0.281" stop-color="#b8b8b8"/><stop offset="0.562" stop-color="#aaaaaa"/><stop offset="0.743" stop-color="#9c9c9c"/><stop offset="0.791" stop-color="#8c8c8c"/><stop offset="0.824" stop-color="#b0b0b0"/><stop offset="0.854" stop-color="#c3c3c3"/><stop offset="1.000" stop-color="#c3c3c3"/></linearGradient>
<linearGradient id="g64" gradientUnits="userSpaceOnUse" x1="0" y1="64.50" x2="0" y2="91.50"><stop offset="0.000" stop-color="#c8c8c8"/><stop offset="0.281" stop-color="#b8b8b8"/><stop offset="0.562" stop-color="#aaaaaa"/><stop offset="0.744" stop-color="#9c9c9c"/><stop offset="0.792" stop-color="#8c8c8c"/><stop offset="0.825" stop-color="#b0b0b0"/><stop offset="0.855" stop-color="#c3c3c3"/><stop offset="1.000" stop-color="#c3c3c3"/></linearGradient>
<linearGradient id="g65" gradientUnits="userSpaceOnUse" x1="0" y1="64.50" x2="0" y2="91.50"><stop offset="0.000" stop-color="#c8c8c8"/><stop offset="0.281" stop-color="#b8b8b8"/><stop offset="0.562" stop-color="#aaaaaa"/><stop offset="0.743" stop-color="#9c9c9c"/><stop offset="0.791" stop-color="#8c8c8c"/><stop offset="0.824" stop-color="#b0b0b0"/><stop offset="0.854" stop-color="#c3c3c3"/><stop offset="1.000" stop-color="#c3c3c3"/></linearGradient>
<linearGradient id="g66" gradientUnits="userSpaceOnUse" x1="0" y1="64.50" x2="0" y2="91.50"><stop offset="0.000" stop-color="#c8c8c8"/><stop offset="0.280" stop-color="#b8b8b8"/><stop offset="0.559" stop-color="#aaaaaa"/><stop offset="0.740" stop-color="#9c9c9c"/><stop offset="0.788" stop-color="#8c8c8c"/><stop offset="0.821" stop-color="#b0b0b0"/><stop offset="0.851" stop-color="#c3c3c3"/><stop offset="1.000" stop-color="#c3c3c3"/></linearGradient>
<linearGradient id="g67" gradientUnits="userSpaceOnUse" x1="0" y1="64.50" x2="0" y2="91.50"><stop offset="0.000" stop-color="#c8c8c8"/><stop offset="0.279" stop-color="#b8b8b8"/><stop offset="0.557" stop-color="#aaaaaa"/><stop offset="0.737" stop-color="#9c9c9c"/><stop offset="0.785" stop-color="#8c8c8c"/><stop offset="0.819" stop-color="#b0b0b0"/><stop offset="0.848" stop-color="#c3c3c3"/><stop offset="1.000" stop-color="#c3c3c3"/></linearGradient>
<linearGradient id="g68" gradientUnits="userSpaceOnUse" x1="0" y1="64.50" x2="0" y2="91.50"><stop offset="0.000" stop-color="#c8c8c8"/><stop offset="0.278" stop-color="#b8b8b8"/><stop offset="0.555" stop-color="#aaaaaa"/><stop offset="0.734" stop-color="#9c9c9c"/><stop offset="0.782" stop-color="#8c8c8c"/><stop offset="0.816" stop-color="#b0b0b0"/><stop offset="0.845" stop-color="#c3c3c3"/><stop offset="1.000" stop-color="#c3c3c3"/></linearGradient>
<linearGradient id="g69" gradientUnits="userSpaceOnUse" x1="0" y1="64.50" x2="0" y2="91.50"><stop offset="0.000" stop-color="#c8c8c8"/><stop offset="0.277" stop-color="#b8b8b8"/><stop offset="0.553" stop-color="#aaaaaa"/><stop offset="0.731" stop-color="#9c9c9c"/><stop offset="0.779" stop-color="#8c8c8c"/><stop offset="0.813" stop-color="#b0b0b0"/><stop offset="0.842" stop-color="#c3c3c3"/><stop offset="1.000" stop-color="#c3c3c3"/></linearGradient>
<linearGradient id="g70" gradientUnits="userSpaceOnUse" x1="0" y1="64.50" x2="0" y2="91.50"><stop offset="0.000" stop-color="#c8c8c8"/><stop offset="0.276" stop-color="#b8b8b8"/><stop offset="0.551" stop-color="#aaaaaa"/><stop offset="0.728" stop-color="#9c9c9c"/><stop offset="0.776" stop-color="#8c8c8c"/><stop offset="0.810" stop-color="#b0b0b0"/><stop offset="0.839" stop-color="#c3c3c3"/><stop offset="1.000" stop-color="#c3c3c3"/></linearGradient>
<linearGradient id="g71" gradientUnits="userSpaceOnUse" x1="0" y1="64.50" x2="0" y2="91.50"><stop offset="0.000" stop-color="#c8c8c8"/><stop offset="0.275" stop-color="#b8b8b8"/><stop offset="0.549" stop-color="#aaaaaa"/><stop offset="0.725" stop-color="#9c9c9c"/><stop offset="0.773" stop-color="#8c8c8c"/><stop offset="0.807" stop-color="#b0b0b0"/><stop offset="0.836" stop-color="#c3c3c3"/><stop offset="1.000" stop-color="#c3c3c3"/></linearGradient>
<linearGradient id="g72" gradientUnits="userSpaceOnUse" x1="0" y1="64.50" x2="0" y2="91.50"><stop offset="0.000" stop-color="#c8c8c8"/><stop offset="0.274" stop-color="#b8b8b8"/><stop offset="0.547" stop-color="#aaaaaa"/><stop offset="0.722" stop-color="#9c9c9c"/><stop offset="0.770" stop-color="#8c8c8c"/><stop offset="0.804" stop-color="#b0b0b0"/><stop offset="0.833" stop-color="#c3c3c3"/><stop offset="1.000" stop-color="#c3c3c3"/></linearGradient>
<linearGradient id="g73" gradientUnits="userSpaceOnUse" x1="0" y1="64.50" x2="0" y2="91.50"><stop offset="0.000" stop-color="#c8c8c8"/><stop offset="0.272" stop-color="#b8b8b8"/><stop offset="0.545" stop-color="#aaaaaa"/><stop offset="0.719" stop-color="#9c9c9c"/><stop offset="0.767" stop-color="#8c8c8c"/><stop offset="0.801" stop-color="#b0b0b0"/><stop offset="0.830" stop-color="#c3c3c3"/><stop offset="1.000" stop-color="#c3c3c3"/></linearGradient>
<linearGradient id="g74" gradientUnits="userSpaceOnUse" x1="0" y1="64.50" x2="0" y2="91.50"><stop offset="0.000" stop-color="#c8c8c8"/><stop offset="0.271" stop-color="#b8b8b8"/><stop offset="0.543" stop-color="#aaaaaa"/><stop offset="0.716" stop-color="#9c9c9c"/><stop offset="0.764" stop-color="#8c8c8c"/><stop offset="0.798" stop-color="#b0b0b0"/><stop offset="0.827" stop-color="#c3c3c3"/><stop offset="1.000" stop-color="#c3c3c3"/></linearGradient>
<linearGradient id="g75" gradientUnits="userSpaceOnUse" x1="0" y1="64.50" x2="0" y2="91.50"><stop offset="0.000" stop-color="#c8c8c8"/><stop offset="0.270" stop-color="#b8b8b8"/><stop offset="0.541" stop-color="#aaaaaa"/><stop offset="0.713" stop-color="#9c9c9c"/><stop offset="0.761" stop-color="#8c8c8c"/><stop offset="0.795" stop-color="#b0b0b0"/><stop offset="0.824" stop-color="#c3c3c3"/><stop offset="1.000" stop-color="#c3c3c3"/></linearGradient>
<linearGradient id="g76" gradientUnits="userSpaceOnUse" x1="0" y1="64.50" x2="0" y2="91.50"><stop offset="0.000" stop-color="#c8c8c8"/><stop offset="0.269" stop-color="#b8b8b8"/><stop offset="0.539" stop-color="#aaaaaa"/><stop offset="0.710" stop-color="#9c9c9c"/><stop offset="0.759" stop-color="#8c8c8c"/><stop offset="0.792" stop-color="#b0b0b0"/><stop offset="0.821" stop-color="#c3c3c3"/><stop offset="1.000" stop-color="#c3c3c3"/></linearGradient>
<linearGradient id="g77" gradientUnits="userSpaceOnUse" x1="0" y1="64.50" x2="0" y2="91.50"><stop offset="0.000" stop-color="#c8c8c8"/><stop offset="0.268" stop-color="#b8b8b8"/><stop offset="0.537" stop-color="#aaaaaa"/><stop offset="0.707" stop-color="#9c9c9c"/><stop offset="0.756" stop-color="#8c8c8c"/><stop offset="0.789" stop-color="#b0b0b0"/><stop offset="0.819" stop-color="#c3c3c3"/><stop offset="1.000" stop-color="#c3c3c3"/></linearGradient>
<linearGradient id="g78" gradientUnits="userSpaceOnUse" x1="0" y1="64.50" x2="0" y2="91.50"><stop offset="0.000" stop-color="#c8c8c8"/><stop offset="0.267" stop-color="#b8b8b8"/><stop offset="0.534" stop-color="#aaaaaa"/><stop offset="0.704" stop-color="#9c9c9c"/><stop offset="0.752" stop-color="#8c8c8c"/><stop offset="0.785" stop-color="#b0b0b0"/><stop offset="0.815" stop-color="#c3c3c3"/><stop offset="1.000" stop-color="#c3c3c3"/></linearGradient>
<linearGradient id="g79" gradientUnits="userSpaceOnUse" x1="0" y1="64.50" x2="0" y2="91.50"><stop offset="0.000" stop-color="#c8c8c8"/><stop offset="0.266" stop-color="#b8b8b8"/><stop offset="0.531" stop-color="#aaaaaa"/><stop offset="0.700" stop-color="#9c9c9c"/><stop offset="0.748" stop-color="#8c8c8c"/><stop offset="0.781" stop-color="#b0b0b0"/><stop offset="0.811" stop-color="#c3c3c3"/><stop offset="1.000" stop-color="#c3c3c3"/></linearGradient>
<linearGradient id="g80" gradientUnits="userSpaceOnUse" x1="0" y1="64.50" x2="0" y2="91.50"><stop offset="0.000" stop-color="#c8c8c8"/><stop offset="0.264" stop-color="#b8b8b8"/><stop offset="0.529" stop-color="#aaaaaa"/><stop offset="0.696" stop-color="#9c9c9c"/><stop offset="0.744" stop-color="#8c8c8c"/><stop offset="0.777" stop-color="#b0b0b0"/><stop offset="0.807" stop-color="#c3c3c3"/><stop offset="1.000" stop-color="#c3c3c3"/></linearGradient>
<linearGradient id="g81" gradientUnits="userSpaceOnUse" x1="0" y1="64.50" x2="0" y2="91.50"><stop offset="0.000" stop-color="#c8c8c8"/><stop offset="0.263" stop-color="#b8b8b8"/><stop offset="0.526" stop-color="#aaaaaa"/><stop offset="0.692" stop-color="#9c9c9c"/><stop offset="0.740" stop-color="#8c8c8c"/><stop offset="0.773" stop-color="#b0b0b0"/><stop offset="0.803" stop-color="#c3c3c3"/><stop offset="1.000" stop-color="#c3c3c3"/></linearGradient>
<linearGradient id="g82" gradientUnits="userSpaceOnUse" x1="0" y1="64.50" x2="0" y2="91.50"><stop offset="0.000" stop-color="#c8c8c8"/><stop offset="0.262" stop-color="#b8b8b8"/><stop offset="0.523" stop-color="#aaaaaa"/><stop offset="0.688" stop-color="#9c9c9c"/><stop offset="0.736" stop-color="#8c8c8c"/><stop offset="0.770" stop-color="#b0b0b0"/><stop offset="0.799" stop-color="#c3c3c3"/><stop offset="1.000" stop-color="#c3c3c3"/></linearGradient>
<linearGradient id="g83" gradientUnits="userSpaceOnUse" x1="0" y1="64.50" x2="0" y2="91.50"><stop offset="0.000" stop-color="#c8c8c8"/><stop offset="0.260" stop-color="#b8b8b8"/><stop offset="0.520" stop-color="#aaaaaa"/><stop offset="0.684" stop-color="#9c9c9c"/><stop offset="0.732" stop-color="#8c8c8c"/><stop offset="0.766" stop-color="#b0b0b0"/><stop offset="0.795" stop-color="#c3c3c3"/><stop offset="1.000" stop-color="#c3c3c3"/></linearGradient>
<linearGradient id="g84" gradientUnits="userSpaceOnUse" x1="0" y1="64.50" x2="0" y2="91.50"><stop offset="0.000" stop-color="#c8c8c8"/><stop offset="0.259" stop-color="#b8b8b8"/><stop offset="0.518" stop-color="#aaaaaa"/><stop offset="0.680" stop-color="#9c9c9c"/><stop offset="0.729" stop-color="#8c8c8c"/><stop offset="0.762" stop-color="#b0b0b0"/><stop offset="0.792" stop-color="#c3c3c3"/><stop offset="1.000" stop-color="#c3c3c3"/></linearGradient>
<linearGradient id="g85" gradientUnits="userSpaceOnUse" x1="0" y1="64.50" x2="0" y2="91.50"><stop offset="0.000" stop-color="#c8c8c8"/><stop offset="0.258" stop-color="#b8b8b8"/><stop offset="0.515" stop-color="#aaaaaa"/><stop offset="0.677" stop-color="#9c9c9c"/><stop offset="0.725" stop-color="#8c8c8c"/><stop offset="0.758" stop-color="#b0b0b0"/><stop offset="0.788" stop-color="#c3c3c3"/><stop offset="1.000" stop-color="#c3c3c3"/></linearGradient>
<linearGradient id="g86" gradientUnits="userSpaceOnUse" x1="0" y1="64.50" x2="0" y2="91.50"><stop offset="0.000" stop-color="#c8c8c8"/><stop offset="0.256" stop-color="#b8b8b8"/><stop offset="0.512" stop-color="#aaaaaa"/><stop offset="0.673" stop-color="#9c9c9c"/><stop offset="0.721" stop-color="#8c8c8c"/><stop offset="0.754" stop-color="#b0b0b0"/><stop offset="0.784" stop-color="#c3c3c3"/><stop offset="1.000" stop-color="#c3c3c3"/></linearGradient>
<linearGradient id="g87" gradientUnits="userSpaceOnUse" x1="0" y1="64.50" x2="0" y2="91.50"><stop offset="0.000" stop-color="#c8c8c8"/><stop offset="0.255" stop-color="#b8b8b8"/><stop offset="0.510" stop-color="#aaaaaa"/><stop offset="0.669" stop-color="#9c9c9c"/><stop offset="0.717" stop-color="#8c8c8c"/><stop offset="0.750" stop-color="#b0b0b0"/><stop offset="0.780" stop-color="#c3c3c3"/><stop offset="1.000" stop-color="#c3c3c3"/></linearGradient>
<linearGradient id="g88" gradientUnits="userSpaceOnUse" x1="0" y1="64.50" x2="0" y2="91.50"><stop offset="0.000" stop-color="#c8c8c8"/><stop offset="0.254" stop-color="#b8b8b8"/><stop offset="0.507" stop-color="#aaaaaa"/><stop offset="0.665" stop-color="#9c9c9c"/><stop offset="0.713" stop-color="#8c8c8c"/><stop offset="0.747" stop-color="#b0b0b0"/><stop offset="0.776" stop-color="#c3c3c3"/><stop offset="1.000" stop-color="#c3c3c3"/></linearGradient>
<linearGradient id="g89" gradientUnits="userSpaceOnUse" x1="0" y1="64.50" x2="0" y2="91.50"><stop offset="0.000" stop-color="#c8c8c8"/><stop offset="0.252" stop-color="#b8b8b8"/><stop offset="0.504" stop-color="#aaaaaa"/><stop offset="0.661" stop-color="#9c9c9c"/><stop offset="0.709" stop-color="#8c8c8c"/><stop offset="0.743" stop-color="#b0b0b0"/><stop offset="0.772" stop-color="#c3c3c3"/><stop offset="1.000" stop-color="#c3c3c3"/></linearGradient>
<linearGradient id="g90" gradientUnits="userSpaceOnUse" x1="0" y1="64.50" x2="0" y2="91.50"><stop offset="0.000" stop-color="#c8c8c8"/><stop offset="0.249" stop-color="#b8b8b8"/><stop offset="0.498" stop-color="#aaaaaa"/><stop offset="0.653" stop-color="#9c9c9c"/><stop offset="0.701" stop-color="#8c8c8c"/><stop offset="0.734" stop-color="#b0b0b0"/><stop offset="0.764" stop-color="#c3c3c3"/><stop offset="1.000" stop-color="#c3c3c3"/></linearGradient>
<linearGradient id="g91" gradientUnits="userSpaceOnUse" x1="0" y1="64.50" x2="0" y2="91.50"><stop offset="0.000" stop-color="#c8c8c8"/><stop offset="0.245" stop-color="#b8b8b8"/><stop offset="0.489" stop-color="#aaaaaa"/><stop offset="0.639" stop-color="#9c9c9c"/><stop offset="0.688" stop-color="#8c8c8c"/><stop offset="0.721" stop-color="#b0b0b0"/><stop offset="0.750" stop-color="#c3c3c3"/><stop offset="1.000" stop-color="#c3c3c3"/></linearGradient>
<linearGradient id="g92" gradientUnits="userSpaceOnUse" x1="0" y1="64.50" x2="0" y2="91.50"><stop offset="0.000" stop-color="#c8c8c8"/><stop offset="0.240" stop-color="#b8b8b8"/><stop offset="0.480" stop-color="#aaaaaa"/><stop offset="0.626" stop-color="#9c9c9c"/><stop offset="0.674" stop-color="#8c8c8c"/><stop offset="0.708" stop-color="#b0b0b0"/><stop offset="0.737" stop-color="#c3c3c3"/><stop offset="1.000" stop-color="#c3c3c3"/></linearGradient>
<linearGradient id="g93" gradientUnits="userSpaceOnUse" x1="0" y1="64.50" x2="0" y2="91.50"><stop offset="0.000" stop-color="#c8c8c8"/><stop offset="0.235" stop-color="#b8b8b8"/><stop offset="0.470" stop-color="#aaaaaa"/><stop offset="0.613" stop-color="#9c9c9c"/><stop offset="0.661" stop-color="#8c8c8c"/><stop offset="0.694" stop-color="#b0b0b0"/><stop offset="0.724" stop-color="#c3c3c3"/><stop offset="1.000" stop-color="#c3c3c3"/></linearGradient>
<linearGradient id="g94" gradientUnits="userSpaceOnUse" x1="0" y1="64.50" x2="0" y2="91.50"><stop offset="0.000" stop-color="#c8c8c8"/><stop offset="0.231" stop-color="#b8b8b8"/><stop offset="0.461" stop-color="#aaaaaa"/><stop offset="0.600" stop-color="#9c9c9c"/><stop offset="0.648" stop-color="#8c8c8c"/><stop offset="0.681" stop-color="#b0b0b0"/><stop offset="0.711" stop-color="#c3c3c3"/><stop offset="1.000" stop-color="#c3c3c3"/></linearGradient>
<linearGradient id="g95" gradientUnits="userSpaceOnUse" x1="0" y1="64.50" x2="0" y2="91.50"><stop offset="0.000" stop-color="#c8c8c8"/><stop offset="0.226" stop-color="#b8b8b8"/><stop offset="0.452" stop-color="#aaaaaa"/><stop offset="0.586" stop-color="#9c9c9c"/><stop offset="0.634" stop-color="#8c8c8c"/><stop offset="0.668" stop-color="#b0b0b0"/><stop offset="0.697" stop-color="#c3c3c3"/><stop offset="1.000" stop-color="#c3c3c3"/></linearGradient>
<linearGradient id="g96" gradientUnits="userSpaceOnUse" x1="0" y1="64.50" x2="0" y2="91.50"><stop offset="0.000" stop-color="#c8c8c8"/><stop offset="0.221" stop-color="#b8b8b8"/><stop offset="0.443" stop-color="#aaaaaa"/><stop offset="0.573" stop-color="#9c9c9c"/><stop offset="0.621" stop-color="#8c8c8c"/><stop offset="0.655" stop-color="#b0b0b0"/><stop offset="0.684" stop-color="#c3c3c3"/><stop offset="1.000" stop-color="#c3c3c3"/></linearGradient>
<linearGradient id="g97" gradientUnits="userSpaceOnUse" x1="0" y1="64.50" x2="0" y2="91.50"><stop offset="0.000" stop-color="#c8c8c8"/><stop offset="0.215" stop-color="#b8b8b8"/><stop offset="0.430" stop-color="#aaaaaa"/><stop offset="0.555" stop-color="#9c9c9c"/><stop offset="0.603" stop-color="#8c8c8c"/><stop offset="0.637" stop-color="#b0b0b0"/><stop offset="0.666" stop-color="#c3c3c3"/><stop offset="1.000" stop-color="#c3c3c3"/></linearGradient>
<linearGradient id="g98" gradientUnits="userSpaceOnUse" x1="0" y1="64.50" x2="0" y2="91.50"><stop offset="0.000" stop-color="#c8c8c8"/><stop offset="0.209" stop-color="#b8b8b8"/><stop offset="0.417" stop-color="#aaaaaa"/><stop offset="0.537" stop-color="#9c9c9c"/><stop offset="0.585" stop-color="#8c8c8c"/><stop offset="0.618" stop-color="#b0b0b0"/><stop offset="0.648" stop-color="#c3c3c3"/><stop offset="1.000" stop-color="#c3c3c3"/></linearGradient>
<linearGradient id="g99" gradientUnits="userSpaceOnUse" x1="0" y1="64.50" x2="0" y2="91.50"><stop offset="0.000" stop-color="#c8c8c8"/><stop offset="0.202" stop-color="#b8b8b8"/><stop offset="0.404" stop-color="#aaaaaa"/><stop offset="0.518" stop-color="#9c9c9c"/><stop offset="0.566" stop-color="#8c8c8c"/><stop offset="0.599" stop-color="#b0b0b0"/><stop offset="0.629" stop-color="#c3c3c3"/><stop offset="1.000" stop-color="#c3c3c3"/></linearGradient>
<linearGradient id="g100" gradientUnits="userSpaceOnUse" x1="0" y1="64.50" x2="0" y2="91.50"><stop offset="0.000" stop-color="#c8c8c8"/><stop offset="0.195" stop-color="#b8b8b8"/><stop offset="0.391" stop-color="#aaaaaa"/><stop offset="0.499" stop-color="#9c9c9c"/><stop offset="0.547" stop-color="#8c8c8c"/><stop offset="0.580" stop-color="#b0b0b0"/><stop offset="0.610" stop-color="#c3c3c3"/><stop offset="1.000" stop-color="#c3c3c3"/></linearGradient>
<linearGradient id="g101" gradientUnits="userSpaceOnUse" x1="0" y1="64.50" x2="0" y2="91.50"><stop offset="0.000" stop-color="#c8c8c8"/><stop offset="0.189" stop-color="#b8b8b8"/><stop offset="0.378" stop-color="#aaaaaa"/><stop offset="0.480" stop-color="#9c9c9c"/><stop offset="0.528" stop-color="#8c8c8c"/><stop offset="0.562" stop-color="#b0b0b0"/><stop offset="0.591" stop-color="#c3c3c3"/><stop offset="1.000" stop-color="#c3c3c3"/></linearGradient>
<linearGradient id="g102" gradientUnits="userSpaceOnUse" x1="0" y1="64.50" x2="0" y2="91.50"><stop offset="0.000" stop-color="#c8c8c8"/><stop offset="0.182" stop-color="#b8b8b8"/><stop offset="0.364" stop-color="#aaaaaa"/><stop offset="0.461" stop-color="#9c9c9c"/><stop offset="0.510" stop-color="#8c8c8c"/><stop offset="0.543" stop-color="#b0b0b0"/><stop offset="0.572" stop-color="#c3c3c3"/><stop offset="1.000" stop-color="#c3c3c3"/></linearGradient>
<linearGradient id="g103" gradientUnits="userSpaceOnUse" x1="0" y1="64.50" x2="0" y2="91.50"><stop offset="0.000" stop-color="#c8c8c8"/><stop offset="0.176" stop-color="#b8b8b8"/><stop offset="0.351" stop-color="#aaaaaa"/><stop offset="0.443" stop-color="#9c9c9c"/><stop offset="0.491" stop-color="#8c8c8c"/><stop offset="0.524" stop-color="#b0b0b0"/><stop offset="0.554" stop-color="#c3c3c3"/><stop offset="1.000" stop-color="#c3c3c3"/></linearGradient>
<linearGradient id="g104" gradientUnits="userSpaceOnUse" x1="0" y1="64.50" x2="0" y2="91.50"><stop offset="0.000" stop-color="#c8c8c8"/><stop offset="0.169" stop-color="#b8b8b8"/><stop offset="0.339" stop-color="#aaaaaa"/><stop offset="0.425" stop-color="#9c9c9c"/><stop offset="0.473" stop-color="#8c8c8c"/><stop offset="0.506" stop-color="#b0b0b0"/><stop offset="0.536" stop-color="#c3c3c3"/><stop offset="1.000" stop-color="#c3c3c3"/></linearGradient>
<linearGradient id="g105" gradientUnits="userSpaceOnUse" x1="0" y1="64.50" x2="0" y2="91.50"><stop offset="0.000" stop-color="#c8c8c8"/><stop offset="0.163" stop-color="#b8b8b8"/><stop offset="0.326" stop-color="#aaaaaa"/><stop offset="0.406" stop-color="#9c9c9c"/><stop offset="0.455" stop-color="#8c8c8c"/><stop offset="0.488" stop-color="#b0b0b0"/><stop offset="0.518" stop-color="#c3c3c3"/><stop offset="1.000" stop-color="#c3c3c3"/></linearGradient>
<linearGradient id="g106" gradientUnits="userSpaceOnUse" x1="0" y1="64.50" x2="0" y2="91.50"><stop offset="0.000" stop-color="#c8c8c8"/><stop offset="0.157" stop-color="#b8b8b8"/><stop offset="0.313" stop-color="#aaaaaa"/><stop offset="0.388" stop-color="#9c9c9c"/><stop offset="0.436" stop-color="#8c8c8c"/><stop offset="0.470" stop-color="#b0b0b0"/><stop offset="0.499" stop-color="#c3c3c3"/><stop offset="1.000" stop-color="#c3c3c3"/></linearGradient>
<linearGradient id="g107" gradientUnits="userSpaceOnUse" x1="0" y1="64.50" x2="0" y2="91.50"><stop offset="0.000" stop-color="#c8c8c8"/><stop offset="0.150" stop-color="#b8b8b8"/><stop offset="0.301" stop-color="#aaaaaa"/><stop offset="0.370" stop-color="#9c9c9c"/><stop offset="0.418" stop-color="#8c8c8c"/><stop offset="0.452" stop-color="#b0b0b0"/><stop offset="0.481" stop-color="#c3c3c3"/><stop offset="1.000" stop-color="#c3c3c3"/></linearGradient>
<linearGradient id="g108" gradientUnits="userSpaceOnUse" x1="0" y1="64.50" x2="0" y2="91.50"><stop offset="0.000" stop-color="#c8c8c8"/><stop offset="0.144" stop-color="#b8b8b8"/><stop offset="0.288" stop-color="#aaaaaa"/><stop offset="0.352" stop-color="#9c9c9c"/><stop offset="0.400" stop-color="#8c8c8c"/><stop offset="0.434" stop-color="#b0b0b0"/><stop offset="0.463" stop-color="#c3c3c3"/><stop offset="1.000" stop-color="#c3c3c3"/></linearGradient>
<linearGradient id="g109" gradientUnits="userSpaceOnUse" x1="0" y1="64.50" x2="0" y2="91.50"><stop offset="0.000" stop-color="#c8c8c8"/><stop offset="0.138" stop-color="#b8b8b8"/><stop offset="0.275" stop-color="#aaaaaa"/><stop offset="0.334" stop-color="#9c9c9c"/><stop offset="0.382" stop-color="#8c8c8c"/><stop offset="0.415" stop-color="#b0b0b0"/><stop offset="0.445" stop-color="#c3c3c3"/><stop offset="1.000" stop-color="#c3c3c3"/></linearGradient>
<linearGradient id="g110" gradientUnits="userSpaceOnUse" x1="0" y1="64.50" x2="0" y2="91.50"><stop offset="0.000" stop-color="#c8c8c8"/><stop offset="0.131" stop-color="#b8b8b8"/><stop offset="0.261" stop-color="#aaaaaa"/><stop offset="0.314" stop-color="#9c9c9c"/><stop offset="0.362" stop-color="#8c8c8c"/><stop offset="0.396" stop-color="#b0b0b0"/><stop offset="0.425" stop-color="#c3c3c3"/><stop offset="1.000" stop-color="#c3c3c3"/></linearGradient>
<linearGradient id="g111" gradientUnits="userSpaceOnUse" x1="0" y1="64.50" x2="0" y2="91.50"><stop offset="0.000" stop-color="#c8c8c8"/><stop offset="0.123" stop-color="#b8b8b8"/><stop offset="0.246" stop-color="#aaaaaa"/><stop offset="0.292" stop-color="#9c9c9c"/><stop offset="0.340" stop-color="#8c8c8c"/><stop offset="0.373" stop-color="#b0b0b0"/><stop offset="0.403" stop-color="#c3c3c3"/><stop offset="1.000" stop-color="#c3c3c3"/></linearGradient>
<linearGradient id="g112" gradientUnits="userSpaceOnUse" x1="0" y1="64.50" x2="0" y2="91.50"><stop offset="0.000" stop-color="#c8c8c8"/><stop offset="0.115" stop-color="#b8b8b8"/><stop offset="0.230" stop-color="#aaaaaa"/><stop offset="0.269" stop-color="#9c9c9c"/><stop offset="0.317" stop-color="#8c8c8c"/><stop offset="0.350" stop-color="#b0b0b0"/><stop offset="0.380" stop-color="#c3c3c3"/><stop offset="1.000" stop-color="#c3c3c3"/></linearGradient>
<linearGradient id="g113" gradientUnits="userSpaceOnUse" x1="0" y1="64.50" x2="0" y2="91.50"><stop offset="0.000" stop-color="#c8c8c8"/><stop offset="0.107" stop-color="#b8b8b8"/><stop offset="0.214" stop-color="#aaaaaa"/><stop offset="0.246" stop-color="#9c9c9c"/><stop offset="0.294" stop-color="#8c8c8c"/><stop offset="0.328" stop-color="#b0b0b0"/><stop offset="0.357" stop-color="#c3c3c3"/><stop offset="1.000" stop-color="#c3c3c3"/></linearGradient>
<linearGradient id="g114" gradientUnits="userSpaceOnUse" x1="0" y1="64.50" x2="0" y2="91.50"><stop offset="0.000" stop-color="#c8c8c8"/><stop offset="0.099" stop-color="#b8b8b8"/><stop offset="0.198" stop-color="#aaaaaa"/><stop offset="0.224" stop-color="#9c9c9c"/><stop offset="0.272" stop-color="#8c8c8c"/><stop offset="0.305" stop-color="#b0b0b0"/><stop offset="0.335" stop-color="#c3c3c3"/><stop offset="1.000" stop-color="#c3c3c3"/></linearGradient>
<linearGradient id="g115" gradientUnits="userSpaceOnUse" x1="0" y1="64.50" x2="0" y2="91.50"><stop offset="0.000" stop-color="#c8c8c8"/><stop offset="0.091" stop-color="#b8b8b8"/><stop offset="0.182" stop-color="#aaaaaa"/><stop offset="0.201" stop-color="#9c9c9c"/><stop offset="0.249" stop-color="#8c8c8c"/><stop offset="0.282" stop-color="#b0b0b0"/><stop offset="0.312" stop-color="#c3c3c3"/><stop offset="1.000" stop-color="#c3c3c3"/></linearGradient>
<linearGradient id="g116" gradientUnits="userSpaceOnUse" x1="0" y1="64.50" x2="0" y2="91.50"><stop offset="0.000" stop-color="#c8c8c8"/><stop offset="0.083" stop-color="#b8b8b8"/><stop offset="0.166" stop-color="#aaaaaa"/><stop offset="0.178" stop-color="#9c9c9c"/><stop offset="0.226" stop-color="#8c8c8c"/><stop offset="0.260" stop-color="#b0b0b0"/><stop offset="0.289" stop-color="#c3c3c3"/><stop offset="1.000" stop-color="#c3c3c3"/></linearGradient>
<linearGradient id="g117" gradientUnits="userSpaceOnUse" x1="0" y1="64.50" x2="0" y2="91.50"><stop offset="0.000" stop-color="#c8c8c8"/><stop offset="0.075" stop-color="#b8b8b8"/><stop offset="0.150" stop-color="#aaaaaa"/><stop offset="0.156" stop-color="#9c9c9c"/><stop offset="0.204" stop-color="#8c8c8c"/><stop offset="0.237" stop-color="#b0b0b0"/><stop offset="0.267" stop-color="#c3c3c3"/><stop offset="1.000" stop-color="#c3c3c3"/></linearGradient>
<linearGradient id="g118" gradientUnits="userSpaceOnUse" x1="0" y1="64.50" x2="0" y2="91.50"><stop offset="0.000" stop-color="#c8c8c8"/><stop offset="0.067" stop-color="#b8b8b8"/><stop offset="0.134" stop-color="#aaaaaa"/><stop offset="0.134" stop-color="#9c9c9c"/><stop offset="0.181" stop-color="#8c8c8c"/><stop offset="0.214" stop-color="#b0b0b0"/><stop offset="0.244" stop-color="#c3c3c3"/><stop offset="1.000" stop-color="#c3c3c3"/></linearGradient>
<linearGradient id="g119" gradientUnits="userSpaceOnUse" x1="0" y1="64.50" x2="0" y2="91.50"><stop offset="0.000" stop-color="#c8c8c8"/><stop offset="0.059" stop-color="#b8b8b8"/><stop offset="0.118" stop-color="#aaaaaa"/><stop offset="0.118" stop-color="#9c9c9c"/><stop offset="0.158" stop-color="#8c8c8c"/><stop offset="0.191" stop-color="#b0b0b0"/><stop offset="0.221" stop-color="#c3c3c3"/><stop offset="1.000" stop-color="#c3c3c3"/></linearGradient>
<linearGradient id="g120" gradientUnits="userSpaceOnUse" x1="0" y1="64.50" x2="0" y2="91.50"><stop offset="0.000" stop-color="#c8c8c8"/><stop offset="0.051" stop-color="#b8b8b8"/><stop offset="0.102" stop-color="#aaaaaa"/><stop offset="0.102" stop-color="#9c9c9c"/><stop offset="0.135" stop-color="#8c8c8c"/><stop offset="0.168" stop-color="#b0b0b0"/><stop offset="0.198" stop-color="#c3c3c3"/><stop offset="1.000" stop-color="#c3c3c3"/></linearGradient>
<linearGradient id="g121" gradientUnits="userSpaceOnUse" x1="0" y1="64.50" x2="0" y2="91.50"><stop offset="0.000" stop-color="#c8c8c8"/><stop offset="0.043" stop-color="#b8b8b8"/><stop offset="0.086" stop-color="#aaaaaa"/><stop offset="0.086" stop-color="#9c9c9c"/><stop offset="0.112" stop-color="#8c8c8c"/><stop offset="0.146" stop-color="#b0b0b0"/><stop offset="0.175" stop-color="#c3c3c3"/><stop offset="1.000" stop-color="#c3c3c3"/></linearGradient>
<linearGradient id="g122" gradientUnits="userSpaceOnUse" x1="0" y1="64.50" x2="0" y2="91.50"><stop offset="0.000" stop-color="#c8c8c8"/><stop offset="0.035" stop-color="#b8b8b8"/><stop offset="0.071" stop-color="#aaaaaa"/><stop offset="0.071" stop-color="#9c9c9c"/><stop offset="0.090" stop-color="#8c8c8c"/><stop offset="0.123" stop-color="#b0b0b0"/><stop offset="0.153" stop-color="#c3c3c3"/><stop offset="1.000" stop-color="#c3c3c3"/></linearGradient>
<linearGradient id="g123" gradientUnits="userSpaceOnUse" x1="0" y1="64.50" x2="0" y2="91.50"><stop offset="0.000" stop-color="#c8c8c8"/><stop offset="0.028" stop-color="#b8b8b8"/><stop offset="0.055" stop-color="#aaaaaa"/><stop offset="0.055" stop-color="#9c9c9c"/><stop offset="0.068" stop-color="#8c8c8c"/><stop offset="0.101" stop-color="#b0b0b0"/><stop offset="0.131" stop-color="#c3c3c3"/><stop offset="1.000" stop-color="#c3c3c3"/></linearGradient>
<linearGradient id="g124" gradientUnits="userSpaceOnUse" x1="0" y1="64.50" x2="0" y2="91.50"><stop offset="0.000" stop-color="#c8c8c8"/><stop offset="0.020" stop-color="#b8b8b8"/><stop offset="0.040" stop-color="#aaaaaa"/><stop offset="0.040" stop-color="#9c9c9c"/><stop offset="0.045" stop-color="#8c8c8c"/><stop offset="0.079" stop-color="#b0b0b0"/><stop offset="0.108" stop-color="#c3c3c3"/><stop offset="1.000" stop-color="#c3c3c3"/></linearGradient>
<linearGradient id="g125" gradientUnits="userSpaceOnUse" x1="0" y1="64.50" x2="0" y2="91.50"><stop offset="0.000" stop-color="#c8c8c8"/><stop offset="0.012" stop-color="#b8b8b8"/><stop offset="0.024" stop-color="#aaaaaa"/><stop offset="0.024" stop-color="#9c9c9c"/><stop offset="0.024" stop-color="#8c8c8c"/><stop offset="0.057" stop-color="#b0b0b0"/><stop offset="0.086" stop-color="#c3c3c3"/><stop offset="1.000" stop-color="#c3c3c3"/></linearGradient>
<linearGradient id="g126" gradientUnits="userSpaceOnUse" x1="0" y1="64.50" x2="0" y2="91.50"><stop offset="0.000" stop-color="#c8c8c8"/><stop offset="0.007" stop-color="#b8b8b8"/><stop offset="0.013" stop-color="#aaaaaa"/><stop offset="0.013" stop-color="#9c9c9c"/><stop offset="0.013" stop-color="#8c8c8c"/><stop offset="0.041" stop-color="#b0b0b0"/><stop offset="0.071" stop-color="#c3c3c3"/><stop offset="1.000" stop-color="#c3c3c3"/></linearGradient>
<clipPath id="cb"><polygon points="15.0,194.40 50.0,193.70 80.0,193.00 150.0,191.30 291.2,191.00 291.2,218.00 150.0,218.30 80.0,220.00 50.0,220.70 15.0,221.40"/></clipPath>
<filter id="nz" x="0" y="0" width="1" height="1" color-interpolation-filters="sRGB"><feTurbulence type="fractalNoise" baseFrequency="0.4" numOctaves="1" seed="4"/><feColorMatrix type="matrix" values="1 0 0 0 0  0 1 0 0 0  0 0 1 0 0  0 0 0 0 1"/><feComposite in="SourceGraphic" operator="arithmetic" k1="0" k2="1" k3="1.0" k4="-0.5"/></filter>
<linearGradient id="g127" gradientUnits="userSpaceOnUse" x1="0" y1="194.38" x2="0" y2="221.38"><stop offset="0.000" stop-color="#00006e"/><stop offset="0.037" stop-color="#0014e8"/><stop offset="0.059" stop-color="#3bf682"/><stop offset="0.926" stop-color="#46fa6e"/><stop offset="0.963" stop-color="#003cf8"/><stop offset="1.000" stop-color="#00006e"/></linearGradient>
<linearGradient id="g128" gradientUnits="userSpaceOnUse" x1="0" y1="194.34" x2="0" y2="221.34"><stop offset="0.000" stop-color="#00006e"/><stop offset="0.037" stop-color="#0014e8"/><stop offset="0.059" stop-color="#3bf682"/><stop offset="0.926" stop-color="#46fa6e"/><stop offset="0.963" stop-color="#003cf8"/><stop offset="1.000" stop-color="#00006e"/></linearGradient>
<linearGradient id="g129" gradientUnits="userSpaceOnUse" x1="0" y1="194.30" x2="0" y2="221.30"><stop offset="0.000" stop-color="#00006e"/><stop offset="0.037" stop-color="#0014e8"/><stop offset="0.059" stop-color="#3bf682"/><stop offset="0.926" stop-color="#46fa6e"/><stop offset="0.963" stop-color="#003cf8"/><stop offset="1.000" stop-color="#00006e"/></linearGradient>
<linearGradient id="g130" gradientUnits="userSpaceOnUse" x1="0" y1="194.26" x2="0" y2="221.26"><stop offset="0.000" stop-color="#00006e"/><stop offset="0.037" stop-color="#0014e8"/><stop offset="0.059" stop-color="#3bf682"/><stop offset="0.926" stop-color="#46fa6e"/><stop offset="0.963" stop-color="#003cf8"/><stop offset="1.000" stop-color="#00006e"/></linearGradient>
<linearGradient id="g131" gradientUnits="userSpaceOnUse" x1="0" y1="194.22" x2="0" y2="221.22"><stop offset="0.000" stop-color="#00006e"/><stop offset="0.037" stop-color="#0014e8"/><stop offset="0.044" stop-color="#1be8bc"/><stop offset="0.055" stop-color="#18e4c3"/><stop offset="0.061" stop-color="#08d2ea"/><stop offset="0.067" stop-color="#00bcff"/><stop offset="0.072" stop-color="#00a4ff"/><stop offset="0.080" stop-color="#008cff"/><stop offset="0.085" stop-color="#0077ff"/><stop offset="0.091" stop-color="#0068ff"/><stop offset="0.128" stop-color="#0068ff"/><stop offset="0.172" stop-color="#00c8ff"/><stop offset="0.232" stop-color="#46fa6e"/><stop offset="0.926" stop-color="#46fa6e"/><stop offset="0.963" stop-color="#003cf8"/><stop offset="1.000" stop-color="#00006e"/></linearGradient>
<linearGradient id="g132" gradientUnits="userSpaceOnUse" x1="0" y1="194.18" x2="0" y2="221.18"><stop offset="0.000" stop-color="#00006e"/><stop offset="0.037" stop-color="#0014e8"/><stop offset="0.044" stop-color="#1ce9b9"/><stop offset="0.057" stop-color="#19e5c0"/><stop offset="0.064" stop-color="#09d2e9"/><stop offset="0.071" stop-color="#00bdff"/><stop offset="0.078" stop-color="#00a5ff"/><stop offset="0.088" stop-color="#008dff"/><stop offset="0.093" stop-color="#0077ff"/><stop offset="0.100" stop-color="#0068ff"/><stop offset="0.137" stop-color="#0068ff"/><stop offset="0.182" stop-color="#00c8ff"/><stop offset="0.241" stop-color="#46fa6e"/><stop offset="0.926" stop-color="#46fa6e"/><stop offset="0.963" stop-color="#003cf8"/><stop offset="1.000" stop-color="#00006e"/></linearGradient>
<linearGradient id="g133" gradientUnits="userSpaceOnUse" x1="0" y1="194.14" x2="0" y2="221.14"><stop offset="0.000" stop-color="#00006e"/><stop offset="0.037" stop-color="#0014e8"/><stop offset="0.044" stop-color="#1deab6"/><stop offset="0.059" stop-color="#1ae6be"/><stop offset="0.067" stop-color="#0ad3e7"/><stop offset="0.076" stop-color="#00bfff"/><stop offset="0.084" stop-color="#00a6ff"/><stop offset="0.095" stop-color="#008dff"/><stop offset="0.101" stop-color="#0077ff"/><stop offset="0.110" stop-color="#0068ff"/><stop offset="0.147" stop-color="#0068ff"/><stop offset="0.191" stop-color="#00c8ff"/><stop offset="0.251" stop-color="#46fa6e"/><stop offset="0.926" stop-color="#46fa6e"/><stop offset="0.963" stop-color="#003cf8"/><stop offset="1.000" stop-color="#00006e"/></linearGradient>
<linearGradient id="g134" gradientUnits="userSpaceOnUse" x1="0" y1="194.10" x2="0" y2="221.10"><stop offset="0.000" stop-color="#00006e"/><stop offset="0.037" stop-color="#0014e8"/><stop offset="0.044" stop-color="#1eebb4"/><stop offset="0.061" stop-color="#1be8bb"/><stop offset="0.071" stop-color="#0ad4e5"/><stop offset="0.080" stop-color="#00c0ff"/><stop offset="0.089" stop-color="#00a7ff"/><stop offset="0.102" stop-color="#008eff"/><stop offset="0.110" stop-color="#0078ff"/><stop offset="0.119" stop-color="#0068ff"/><stop offset="0.156" stop-color="#0068ff"/><stop offset="0.201" stop-color="#00c8ff"/><stop offset="0.260" stop-color="#46fa6e"/><stop offset="0.926" stop-color="#46fa6e"/><stop offset="0.963" stop-color="#003cf8"/><stop offset="1.000" stop-color="#00006e"/></linearGradient>
<linearGradient id="g135" gradientUnits="userSpaceOnUse" x1="0" y1="194.06" x2="0" y2="221.06"><stop offset="0.000" stop-color="#00006e"/><stop offset="0.037" stop-color="#0014e8"/><stop offset="0.044" stop-color="#22ecad"/><stop offset="0.064" stop-color="#1deab5"/><stop offset="0.075" stop-color="#0cd6e1"/><stop offset="0.086" stop-color="#00c4ff"/><stop offset="0.096" stop-color="#00aaff"/><stop offset="0.111" stop-color="#008fff"/><stop offset="0.120" stop-color="#0078ff"/><stop offset="0.131" stop-color="#0068ff"/><stop offset="0.168" stop-color="#0068ff"/><stop offset="0.213" stop-color="#00c8ff"/><stop offset="0.272" stop-color="#46fa6e"/><stop offset="0.926" stop-color="#46fa6e"/><stop offset="0.963" stop-color="#003cf8"/><stop offset="1.000" stop-color="#00006e"/></linearGradient>
<linearGradient id="g136" gradientUnits="userSpaceOnUse" x1="0" y1="194.02" x2="0" y2="221.02"><stop offset="0.000" stop-color="#00006e"/><stop offset="0.037" stop-color="#0014e8"/><stop offset="0.044" stop-color="#26eea7"/><stop offset="0.067" stop-color="#21ecaf"/><stop offset="0.081" stop-color="#0ed8dd"/><stop offset="0.094" stop-color="#00c7ff"/><stop offset="0.107" stop-color="#00acff"/><stop offset="0.125" stop-color="#0091ff"/><stop offset="0.135" stop-color="#0079ff"/><stop offset="0.149" stop-color="#0068ff"/><stop offset="0.186" stop-color="#0068ff"/><stop offset="0.230" stop-color="#00c8ff"/><stop offset="0.289" stop-color="#46fa6e"/><stop offset="0.926" stop-color="#46fa6e"/><stop offset="0.963" stop-color="#003cf8"/><stop offset="1.000" stop-color="#00006e"/></linearGradient>
<linearGradient id="g137" gradientUnits="userSpaceOnUse" x1="0" y1="193.98" x2="0" y2="220.98"><stop offset="0.000" stop-color="#00006e"/><stop offset="0.037" stop-color="#0014e8"/><stop offset="0.044" stop-color="#29efa0"/><stop offset="0.071" stop-color="#24eda9"/><stop offset="0.087" stop-color="#0fdad9"/><stop offset="0.103" stop-color="#01c9fd"/><stop offset="0.117" stop-color="#00afff"/><stop offset="0.138" stop-color="#0092ff"/><stop offset="0.150" stop-color="#007aff"/><stop offset="0.166" stop-color="#0068ff"/><stop offset="0.203" stop-color="#0068ff"/><stop offset="0.247" stop-color="#00c8ff"/><stop offset="0.307" stop-color="#46fa6e"/><stop offset="0.926" stop-color="#46fa6e"/><stop offset="0.963" stop-color="#003cf8"/><stop offset="1.000" stop-color="#00006e"/></linearGradient>
<linearGradient id="g138" gradientUnits="userSpaceOnUse" x1="0" y1="193.94" x2="0" y2="220.94"><stop offset="0.000" stop-color="#00006e"/><stop offset="0.037" stop-color="#0014e8"/><stop offset="0.044" stop-color="#2df199"/><stop offset="0.075" stop-color="#28efa3"/><stop offset="0.093" stop-color="#11dcd4"/><stop offset="0.111" stop-color="#02cafa"/><stop offset="0.128" stop-color="#00b1ff"/><stop offset="0.151" stop-color="#0094ff"/><stop offset="0.165" stop-color="#007aff"/><stop offset="0.183" stop-color="#0068ff"/><stop offset="0.220" stop-color="#0068ff"/><stop offset="0.265" stop-color="#00c8ff"/><stop offset="0.324" stop-color="#46fa6e"/><stop offset="0.926" stop-color="#46fa6e"/><stop offset="0.963" stop-color="#003cf8"/><stop offset="1.000" stop-color="#00006e"/></linearGradient>
<linearGradient id="g139" gradientUnits="userSpaceOnUse" x1="0" y1="193.90" x2="0" y2="220.90"><stop offset="0.000" stop-color="#00006e"/><stop offset="0.037" stop-color="#0014e8"/><stop offset="0.044" stop-color="#31f293"/><stop offset="0.079" stop-color="#2cf09c"/><stop offset="0.099" stop-color="#13ded0"/><stop offset="0.120" stop-color="#03ccf7"/><stop offset="0.138" stop-color="#00b4ff"/><stop offset="0.165" stop-color="#0096ff"/><stop offset="0.181" stop-color="#007bff"/><stop offset="0.201" stop-color="#0068ff"/><stop offset="0.238" stop-color="#0068ff"/><stop offset="0.282" stop-color="#00c8ff"/><stop offset="0.342" stop-color="#46fa6e"/><stop offset="0.926" stop-color="#46fa6e"/><stop offset="0.963" stop-color="#003cf8"/><stop offset="1.000" stop-color="#00006e"/></linearGradient>
<linearGradient id="g140" gradientUnits="userSpaceOnUse" x1="0" y1="193.86" x2="0" y2="220.86"><stop offset="0.000" stop-color="#00006e"/><stop offset="0.037" stop-color="#0014e8"/><stop offset="0.044" stop-color="#35f48c"/><stop offset="0.083" stop-color="#2ff196"/><stop offset="0.105" stop-color="#14e0cc"/><stop offset="0.128" stop-color="#04cdf4"/><stop offset="0.149" stop-color="#00b7ff"/><stop offset="0.178" stop-color="#0097ff"/><stop offset="0.196" stop-color="#007cff"/><stop offset="0.218" stop-color="#0068ff"/><stop offset="0.255" stop-color="#0068ff"/><stop offset="0.300" stop-color="#00c8ff"/><stop offset="0.359" stop-color="#46fa6e"/><stop offset="0.926" stop-color="#46fa6e"/><stop offset="0.963" stop-color="#003cf8"/><stop offset="1.000" stop-color="#00006e"/></linearGradient>
<linearGradient id="g141" gradientUnits="userSpaceOnUse" x1="0" y1="193.82" x2="0" y2="220.82"><stop offset="0.000" stop-color="#00006e"/><stop offset="0.037" stop-color="#0014e8"/><stop offset="0.044" stop-color="#39f585"/><stop offset="0.087" stop-color="#33f38f"/><stop offset="0.111" stop-color="#16e2c8"/><stop offset="0.136" stop-color="#06cff1"/><stop offset="0.159" stop-color="#00b9ff"/><stop offset="0.192" stop-color="#0099ff"/><stop offset="0.211" stop-color="#007cff"/><stop offset="0.236" stop-color="#0068ff"/><stop offset="0.273" stop-color="#0068ff"/><stop offset="0.317" stop-color="#00c8ff"/><stop offset="0.376" stop-color="#46fa6e"/><stop offset="0.926" stop-color="#46fa6e"/><stop offset="0.963" stop-color="#003cf8"/><stop offset="1.000" stop-color="#00006e"/></linearGradient>
<linearGradient id="g142" gradientUnits="userSpaceOnUse" x1="0" y1="193.78" x2="0" y2="220.78"><stop offset="0.000" stop-color="#00006e"/><stop offset="0.037" stop-color="#0014e8"/><stop offset="0.044" stop-color="#3ef77c"/><stop offset="0.091" stop-color="#38f587"/><stop offset="0.118" stop-color="#18e5c2"/><stop offset="0.146" stop-color="#07d0ed"/><stop offset="0.171" stop-color="#00bdff"/><stop offset="0.207" stop-color="#009bff"/><stop offset="0.228" stop-color="#007dff"/><stop offset="0.256" stop-color="#0068ff"/><stop offset="0.293" stop-color="#0068ff"/><stop offset="0.337" stop-color="#00c8ff"/><stop offset="0.396" stop-color="#46fa6e"/><stop offset="0.926" stop-color="#46fa6e"/><stop offset="0.963" stop-color="#003cf8"/><stop offset="1.000" stop-color="#00006e"/></linearGradient>
<linearGradient id="g143" gradientUnits="userSpaceOnUse" x1="0" y1="193.74" x2="0" y2="220.74"><stop offset="0.000" stop-color="#00006e"/><stop offset="0.037" stop-color="#0014e8"/><stop offset="0.044" stop-color="#45fa70"/><stop offset="0.096" stop-color="#3ef77b"/><stop offset="0.126" stop-color="#1be8ba"/><stop offset="0.157" stop-color="#09d3e8"/><stop offset="0.185" stop-color="#00c2ff"/><stop offset="0.224" stop-color="#009eff"/><stop offset="0.248" stop-color="#007eff"/><stop offset="0.278" stop-color="#0068ff"/><stop offset="0.315" stop-color="#0068ff"/><stop offset="0.360" stop-color="#00c8ff"/><stop offset="0.419" stop-color="#46fa6e"/><stop offset="0.926" stop-color="#46fa6e"/><stop offset="0.963" stop-color="#003cf8"/><stop offset="1.000" stop-color="#00006e"/></linearGradient>
<linearGradient id="g144" gradientUnits="userSpaceOnUse" x1="0" y1="193.70" x2="0" y2="220.70"><stop offset="0.000" stop-color="#00006e"/><stop offset="0.037" stop-color="#0014e8"/><stop offset="0.044" stop-color="#4ef966"/><stop offset="0.101" stop-color="#45fa70"/><stop offset="0.134" stop-color="#1febb3"/><stop offset="0.167" stop-color="#0bd5e3"/><stop offset="0.198" stop-color="#00c6ff"/><stop offset="0.242" stop-color="#00a1ff"/><stop offset="0.267" stop-color="#0080ff"/><stop offset="0.301" stop-color="#0068ff"/><stop offset="0.338" stop-color="#0068ff"/><stop offset="0.382" stop-color="#00c8ff"/><stop offset="0.441" stop-color="#46fa6e"/><stop offset="0.926" stop-color="#46fa6e"/><stop offset="0.963" stop-color="#003cf8"/><stop offset="1.000" stop-color="#00006e"/></linearGradient>
<linearGradient id="g145" gradientUnits="userSpaceOnUse" x1="0" y1="193.65" x2="0" y2="220.65"><stop offset="0.000" stop-color="#00006e"/><stop offset="0.037" stop-color="#0014e8"/><stop offset="0.044" stop-color="#58f85c"/><stop offset="0.106" stop-color="#4ef966"/><stop offset="0.142" stop-color="#23edab"/><stop offset="0.178" stop-color="#0dd8de"/><stop offset="0.212" stop-color="#01c9fd"/><stop offset="0.259" stop-color="#00a3ff"/><stop offset="0.287" stop-color="#0081ff"/><stop offset="0.323" stop-color="#0068ff"/><stop offset="0.360" stop-color="#0068ff"/><stop offset="0.404" stop-color="#00c8ff"/><stop offset="0.464" stop-color="#46fa6e"/><stop offset="0.926" stop-color="#46fa6e"/><stop offset="0.963" stop-color="#003cf8"/><stop offset="1.000" stop-color="#00006e"/></linearGradient>
<linearGradient id="g146" gradientUnits="userSpaceOnUse" x1="0" y1="193.61" x2="0" y2="220.61"><stop offset="0.000" stop-color="#00006e"/><stop offset="0.037" stop-color="#0014e8"/><stop offset="0.044" stop-color="#61f753"/><stop offset="0.111" stop-color="#57f85d"/><stop offset="0.150" stop-color="#28efa3"/><stop offset="0.189" stop-color="#0fdad8"/><stop offset="0.225" stop-color="#02cbf9"/><stop offset="0.276" stop-color="#00a6ff"/><stop offset="0.306" stop-color="#0082ff"/><stop offset="0.345" stop-color="#0068ff"/><stop offset="0.382" stop-color="#0068ff"/><stop offset="0.427" stop-color="#00c8ff"/><stop offset="0.486" stop-color="#46fa6e"/><stop offset="0.926" stop-color="#46fa6e"/><stop offset="0.963" stop-color="#003cf8"/><stop offset="1.000" stop-color="#00006e"/></linearGradient>
<linearGradient id="g147" gradientUnits="userSpaceOnUse" x1="0" y1="193.56" x2="0" y2="220.56"><stop offset="0.000" stop-color="#00006e"/><stop offset="0.037" stop-color="#0014e8"/><stop offset="0.044" stop-color="#6bf549"/><stop offset="0.116" stop-color="#60f754"/><stop offset="0.158" stop-color="#2df09a"/><stop offset="0.200" stop-color="#12dcd3"/><stop offset="0.238" stop-color="#04cdf5"/><stop offset="0.293" stop-color="#00a9ff"/><stop offset="0.325" stop-color="#0083ff"/><stop offset="0.367" stop-color="#0068ff"/><stop offset="0.405" stop-color="#0068ff"/><stop offset="0.449" stop-color="#00c8ff"/><stop offset="0.508" stop-color="#46fa6e"/><stop offset="0.926" stop-color="#46fa6e"/><stop offset="0.963" stop-color="#003cf8"/><stop offset="1.000" stop-color="#00006e"/></linearGradient>
<linearGradient id="g148" gradientUnits="userSpaceOnUse" x1="0" y1="193.51" x2="0" y2="220.51"><stop offset="0.000" stop-color="#00006e"/><stop offset="0.037" stop-color="#0014e8"/><stop offset="0.044" stop-color="#74f440"/><stop offset="0.119" stop-color="#69f64b"/><stop offset="0.163" stop-color="#31f292"/><stop offset="0.207" stop-color="#14dfce"/><stop offset="0.248" stop-color="#05cef1"/><stop offset="0.306" stop-color="#00acff"/><stop offset="0.340" stop-color="#0084ff"/><stop offset="0.384" stop-color="#0068ff"/><stop offset="0.421" stop-color="#0068ff"/><stop offset="0.465" stop-color="#00c8ff"/><stop offset="0.525" stop-color="#46fa6e"/><stop offset="0.926" stop-color="#46fa6e"/><stop offset="0.963" stop-color="#003cf8"/><stop offset="1.000" stop-color="#00006e"/></linearGradient>
<linearGradient id="g149" gradientUnits="userSpaceOnUse" x1="0" y1="193.47" x2="0" y2="220.47"><stop offset="0.000" stop-color="#00006e"/><stop offset="0.037" stop-color="#0014e8"/><stop offset="0.044" stop-color="#7ef336"/><stop offset="0.123" stop-color="#72f442"/><stop offset="0.169" stop-color="#36f48a"/><stop offset="0.215" stop-color="#16e1c9"/><stop offset="0.258" stop-color="#07d0ee"/><stop offset="0.318" stop-color="#00afff"/><stop offset="0.354" stop-color="#0086ff"/><stop offset="0.400" stop-color="#0068ff"/><stop offset="0.437" stop-color="#0068ff"/><stop offset="0.482" stop-color="#00c8ff"/><stop offset="0.541" stop-color="#46fa6e"/><stop offset="0.926" stop-color="#46fa6e"/><stop offset="0.963" stop-color="#003cf8"/><stop offset="1.000" stop-color="#00006e"/></linearGradient>
<linearGradient id="g150" gradientUnits="userSpaceOnUse" x1="0" y1="193.42" x2="0" y2="220.42"><stop offset="0.000" stop-color="#00006e"/><stop offset="0.037" stop-color="#0014e8"/><stop offset="0.044" stop-color="#8bf129"/><stop offset="0.126" stop-color="#7ff335"/><stop offset="0.175" stop-color="#3cf67f"/><stop offset="0.223" stop-color="#19e5c2"/><stop offset="0.268" stop-color="#09d2e9"/><stop offset="0.331" stop-color="#00b3ff"/><stop offset="0.368" stop-color="#0087ff"/><stop offset="0.417" stop-color="#0068ff"/><stop offset="0.454" stop-color="#0068ff"/><stop offset="0.498" stop-color="#00c8ff"/><stop offset="0.557" stop-color="#46fa6e"/><stop offset="0.926" stop-color="#46fa6e"/><stop offset="0.963" stop-color="#003cf8"/><stop offset="1.000" stop-color="#00006e"/></linearGradient>
<linearGradient id="g151" gradientUnits="userSpaceOnUse" x1="0" y1="193.37" x2="0" y2="220.37"><stop offset="0.000" stop-color="#00006e"/><stop offset="0.037" stop-color="#0014e8"/><stop offset="0.044" stop-color="#99f01d"/><stop offset="0.130" stop-color="#8cf128"/><stop offset="0.180" stop-color="#43f974"/><stop offset="0.231" stop-color="#1be8bb"/><stop offset="0.277" stop-color="#0bd5e4"/><stop offset="0.344" stop-color="#00b7ff"/><stop offset="0.382" stop-color="#0089ff"/><stop offset="0.433" stop-color="#0068ff"/><stop offset="0.470" stop-color="#0068ff"/><stop offset="0.514" stop-color="#00c8ff"/><stop offset="0.574" stop-color="#46fa6e"/><stop offset="0.926" stop-color="#46fa6e"/><stop offset="0.963" stop-color="#003cf8"/><stop offset="1.000" stop-color="#00006e"/></linearGradient>
<linearGradient id="g152" gradientUnits="userSpaceOnUse" x1="0" y1="193.33" x2="0" y2="220.33"><stop offset="0.000" stop-color="#00006e"/><stop offset="0.037" stop-color="#0014e8"/><stop offset="0.044" stop-color="#a8f018"/><stop offset="0.133" stop-color="#99f01d"/><stop offset="0.186" stop-color="#4af96a"/><stop offset="0.239" stop-color="#1eebb3"/><stop offset="0.287" stop-color="#0dd7de"/><stop offset="0.356" stop-color="#00bbff"/><stop offset="0.397" stop-color="#008aff"/><stop offset="0.449" stop-color="#0068ff"/><stop offset="0.486" stop-color="#0068ff"/><stop offset="0.531" stop-color="#00c8ff"/><stop offset="0.590" stop-color="#46fa6e"/><stop offset="0.926" stop-color="#46fa6e"/><stop offset="0.963" stop-color="#003cf8"/><stop offset="1.000" stop-color="#00006e"/></linearGradient>
<linearGradient id="g153" gradientUnits="userSpaceOnUse" x1="0" y1="193.28" x2="0" y2="220.28"><stop offset="0.000" stop-color="#00006e"/><stop offset="0.037" stop-color="#0014e8"/><stop offset="0.044" stop-color="#b7f013"/><stop offset="0.137" stop-color="#a7f018"/><stop offset="0.192" stop-color="#53f861"/><stop offset="0.247" stop-color="#23edac"/><stop offset="0.297" stop-color="#0fdad9"/><stop offset="0.369" stop-color="#00bfff"/><stop offset="0.411" stop-color="#008cff"/><stop offset="0.466" stop-color="#0068ff"/><stop offset="0.503" stop-color="#0068ff"/><stop offset="0.547" stop-color="#00c8ff"/><stop offset="0.606" stop-color="#46fa6e"/><stop offset="0.926" stop-color="#46fa6e"/><stop offset="0.963" stop-color="#003cf8"/><stop offset="1.000" stop-color="#00006e"/></linearGradient>
<linearGradient id="g154" gradientUnits="userSpaceOnUse" x1="0" y1="193.23" x2="0" y2="220.23"><stop offset="0.000" stop-color="#00006e"/><stop offset="0.037" stop-color="#0014e8"/><stop offset="0.044" stop-color="#c6f00e"/><stop offset="0.141" stop-color="#b5f014"/><stop offset="0.198" stop-color="#5cf758"/><stop offset="0.254" stop-color="#27eea4"/><stop offset="0.307" stop-color="#11dcd4"/><stop offset="0.381" stop-color="#00c2ff"/><stop offset="0.425" stop-color="#008eff"/><stop offset="0.482" stop-color="#0068ff"/><stop offset="0.519" stop-color="#0068ff"/><stop offset="0.563" stop-color="#00c8ff"/><stop offset="0.623" stop-color="#46fa6e"/><stop offset="0.926" stop-color="#46fa6e"/><stop offset="0.963" stop-color="#003cf8"/><stop offset="1.000" stop-color="#00006e"/></linearGradient>
<linearGradient id="g155" gradientUnits="userSpaceOnUse" x1="0" y1="193.19" x2="0" y2="220.19"><stop offset="0.000" stop-color="#00006e"/><stop offset="0.037" stop-color="#0014e8"/><stop offset="0.044" stop-color="#d5f009"/><stop offset="0.144" stop-color="#c3f00f"/><stop offset="0.203" stop-color="#65f64f"/><stop offset="0.262" stop-color="#2bf09c"/><stop offset="0.317" stop-color="#13decf"/><stop offset="0.394" stop-color="#00c6ff"/><stop offset="0.439" stop-color="#008fff"/><stop offset="0.498" stop-color="#0068ff"/><stop offset="0.535" stop-color="#0068ff"/><stop offset="0.580" stop-color="#00c8ff"/><stop offset="0.639" stop-color="#46fa6e"/><stop offset="0.926" stop-color="#46fa6e"/><stop offset="0.963" stop-color="#003cf8"/><stop offset="1.000" stop-color="#00006e"/></linearGradient>
<linearGradient id="g156" gradientUnits="userSpaceOnUse" x1="0" y1="193.14" x2="0" y2="220.14"><stop offset="0.000" stop-color="#00006e"/><stop offset="0.037" stop-color="#0014e8"/><stop offset="0.044" stop-color="#e7f003"/><stop offset="0.148" stop-color="#d4f009"/><stop offset="0.209" stop-color="#70f544"/><stop offset="0.270" stop-color="#31f293"/><stop offset="0.327" stop-color="#16e1c9"/><stop offset="0.406" stop-color="#01c9fd"/><stop offset="0.453" stop-color="#0091ff"/><stop offset="0.515" stop-color="#0068ff"/><stop offset="0.552" stop-color="#0068ff"/><stop offset="0.596" stop-color="#00c8ff"/><stop offset="0.655" stop-color="#46fa6e"/><stop offset="0.926" stop-color="#46fa6e"/><stop offset="0.963" stop-color="#003cf8"/><stop offset="1.000" stop-color="#00006e"/></linearGradient>
<linearGradient id="g157" gradientUnits="userSpaceOnUse" x1="0" y1="193.09" x2="0" y2="220.09"><stop offset="0.000" stop-color="#00006e"/><stop offset="0.037" stop-color="#0014e8"/><stop offset="0.044" stop-color="#f2e800"/><stop offset="0.151" stop-color="#e6f003"/><stop offset="0.215" stop-color="#7bf339"/><stop offset="0.278" stop-color="#36f48a"/><stop offset="0.336" stop-color="#18e4c3"/><stop offset="0.419" stop-color="#02cbf9"/><stop offset="0.468" stop-color="#0093ff"/><stop offset="0.531" stop-color="#0068ff"/><stop offset="0.568" stop-color="#0068ff"/><stop offset="0.612" stop-color="#00c8ff"/><stop offset="0.672" stop-color="#46fa6e"/><stop offset="0.926" stop-color="#46fa6e"/><stop offset="0.963" stop-color="#003cf8"/><stop offset="1.000" stop-color="#00006e"/></linearGradient>
<linearGradient id="g158" gradientUnits="userSpaceOnUse" x1="0" y1="193.05" x2="0" y2="220.05"><stop offset="0.000" stop-color="#00006e"/><stop offset="0.037" stop-color="#0014e8"/><stop offset="0.044" stop-color="#f4d800"/><stop offset="0.154" stop-color="#f1ea00"/><stop offset="0.219" stop-color="#85f22f"/><stop offset="0.284" stop-color="#3bf681"/><stop offset="0.344" stop-color="#1be7bd"/><stop offset="0.429" stop-color="#04cdf5"/><stop offset="0.479" stop-color="#0095ff"/><stop offset="0.544" stop-color="#0068ff"/><stop offset="0.581" stop-color="#0068ff"/><stop offset="0.626" stop-color="#00c8ff"/><stop offset="0.685" stop-color="#46fa6e"/><stop offset="0.926" stop-color="#46fa6e"/><stop offset="0.963" stop-color="#003cf8"/><stop offset="1.000" stop-color="#00006e"/></linearGradient>
<linearGradient id="g159" gradientUnits="userSpaceOnUse" x1="0" y1="193.00" x2="0" y2="220.00"><stop offset="0.000" stop-color="#00006e"/><stop offset="0.037" stop-color="#0014e8"/><stop offset="0.044" stop-color="#f8c800"/><stop offset="0.157" stop-color="#f4db00"/><stop offset="0.224" stop-color="#90f124"/><stop offset="0.291" stop-color="#40f878"/><stop offset="0.352" stop-color="#1deab6"/><stop offset="0.439" stop-color="#05cef1"/><stop offset="0.491" stop-color="#0097ff"/><stop offset="0.557" stop-color="#0068ff"/><stop offset="0.594" stop-color="#0068ff"/><stop offset="0.639" stop-color="#00c8ff"/><stop offset="0.698" stop-color="#46fa6e"/><stop offset="0.926" stop-color="#46fa6e"/><stop offset="0.963" stop-color="#003cf8"/><stop offset="1.000" stop-color="#00006e"/></linearGradient>
<linearGradient id="g160" gradientUnits="userSpaceOnUse" x1="0" y1="192.95" x2="0" y2="219.95"><stop offset="0.000" stop-color="#00006e"/><stop offset="0.037" stop-color="#0014e8"/><stop offset="0.044" stop-color="#fab800"/><stop offset="0.160" stop-color="#f7cc00"/><stop offset="0.229" stop-color="#9bf01c"/><stop offset="0.297" stop-color="#46fa6e"/><stop offset="0.360" stop-color="#20ecb0"/><stop offset="0.449" stop-color="#07d0ee"/><stop offset="0.502" stop-color="#0099ff"/><stop offset="0.570" stop-color="#0068ff"/><stop offset="0.607" stop-color="#0068ff"/><stop offset="0.652" stop-color="#00c8ff"/><stop offset="0.711" stop-color="#46fa6e"/><stop offset="0.926" stop-color="#46fa6e"/><stop offset="0.963" stop-color="#003cf8"/><stop offset="1.000" stop-color="#00006e"/></linearGradient>
<linearGradient id="g161" gradientUnits="userSpaceOnUse" x1="0" y1="192.90" x2="0" y2="219.90"><stop offset="0.000" stop-color="#00006e"/><stop offset="0.037" stop-color="#0014e8"/><stop offset="0.044" stop-color="#fcae00"/><stop offset="0.163" stop-color="#f9c200"/><stop offset="0.233" stop-color="#a3f01a"/><stop offset="0.303" stop-color="#4af96a"/><stop offset="0.368" stop-color="#23edac"/><stop offset="0.459" stop-color="#08d1ec"/><stop offset="0.513" stop-color="#009aff"/><stop offset="0.583" stop-color="#0068ff"/><stop offset="0.620" stop-color="#0068ff"/><stop offset="0.665" stop-color="#00c8ff"/><stop offset="0.724" stop-color="#46fa6e"/><stop offset="0.926" stop-color="#46fa6e"/><stop offset="0.963" stop-color="#003cf8"/><stop offset="1.000" stop-color="#00006e"/></linearGradient>
<linearGradient id="g162" gradientUnits="userSpaceOnUse" x1="0" y1="192.85" x2="0" y2="219.85"><stop offset="0.000" stop-color="#00006e"/><stop offset="0.037" stop-color="#0014e8"/><stop offset="0.044" stop-color="#fea400"/><stop offset="0.166" stop-color="#fab900"/><stop offset="0.238" stop-color="#aaf017"/><stop offset="0.309" stop-color="#4ff965"/><stop offset="0.376" stop-color="#25eea8"/><stop offset="0.469" stop-color="#09d2e9"/><stop offset="0.525" stop-color="#009cff"/><stop offset="0.596" stop-color="#0068ff"/><stop offset="0.633" stop-color="#0068ff"/><stop offset="0.678" stop-color="#00c8ff"/><stop offset="0.737" stop-color="#46fa6e"/><stop offset="0.926" stop-color="#46fa6e"/><stop offset="0.963" stop-color="#003cf8"/><stop offset="1.000" stop-color="#00006e"/></linearGradient>
<linearGradient id="g163" gradientUnits="userSpaceOnUse" x1="0" y1="192.81" x2="0" y2="219.81"><stop offset="0.000" stop-color="#00006e"/><stop offset="0.037" stop-color="#0014e8"/><stop offset="0.044" stop-color="#ff9900"/><stop offset="0.169" stop-color="#fcb000"/><stop offset="0.242" stop-color="#b2f015"/><stop offset="0.316" stop-color="#53f861"/><stop offset="0.383" stop-color="#27eea4"/><stop offset="0.479" stop-color="#0ad3e7"/><stop offset="0.536" stop-color="#009dff"/><stop offset="0.609" stop-color="#0068ff"/><stop offset="0.646" stop-color="#0068ff"/><stop offset="0.691" stop-color="#00c8ff"/><stop offset="0.750" stop-color="#46fa6e"/><stop offset="0.926" stop-color="#46fa6e"/><stop offset="0.963" stop-color="#003cf8"/><stop offset="1.000" stop-color="#00006e"/></linearGradient>
<linearGradient id="g164" gradientUnits="userSpaceOnUse" x1="0" y1="192.76" x2="0" y2="219.76"><stop offset="0.000" stop-color="#00006e"/><stop offset="0.037" stop-color="#0014e8"/><stop offset="0.044" stop-color="#ff8d00"/><stop offset="0.172" stop-color="#fea600"/><stop offset="0.247" stop-color="#b9f012"/><stop offset="0.322" stop-color="#58f85c"/><stop offset="0.391" stop-color="#29efa0"/><stop offset="0.490" stop-color="#0bd4e5"/><stop offset="0.547" stop-color="#009eff"/><stop offset="0.622" stop-color="#0068ff"/><stop offset="0.659" stop-color="#0068ff"/><stop offset="0.704" stop-color="#00c8ff"/><stop offset="0.763" stop-color="#46fa6e"/><stop offset="0.926" stop-color="#46fa6e"/><stop offset="0.963" stop-color="#003cf8"/><stop offset="1.000" stop-color="#00006e"/></linearGradient>
<linearGradient id="g165" gradientUnits="userSpaceOnUse" x1="0" y1="192.71" x2="0" y2="219.71"><stop offset="0.000" stop-color="#00006e"/><stop offset="0.037" stop-color="#0014e8"/><stop offset="0.044" stop-color="#ff8000"/><stop offset="0.174" stop-color="#ff9c00"/><stop offset="0.251" stop-color="#c1f010"/><stop offset="0.328" stop-color="#5cf758"/><stop offset="0.399" stop-color="#2cf09c"/><stop offset="0.500" stop-color="#0bd5e2"/><stop offset="0.559" stop-color="#009fff"/><stop offset="0.635" stop-color="#0068ff"/><stop offset="0.672" stop-color="#0068ff"/><stop offset="0.717" stop-color="#00c8ff"/><stop offset="0.776" stop-color="#46fa6e"/><stop offset="0.926" stop-color="#46fa6e"/><stop offset="0.963" stop-color="#003cf8"/><stop offset="1.000" stop-color="#00006e"/></linearGradient>
<linearGradient id="g166" gradientUnits="userSpaceOnUse" x1="0" y1="192.66" x2="0" y2="219.66"><stop offset="0.000" stop-color="#00006e"/><stop offset="0.037" stop-color="#0014e8"/><stop offset="0.044" stop-color="#ff7400"/><stop offset="0.177" stop-color="#ff9000"/><stop offset="0.256" stop-color="#c8f00d"/><stop offset="0.334" stop-color="#61f753"/><stop offset="0.407" stop-color="#2ef198"/><stop offset="0.510" stop-color="#0cd6e0"/><stop offset="0.570" stop-color="#00a0ff"/><stop offset="0.648" stop-color="#0068ff"/><stop offset="0.685" stop-color="#0068ff"/><stop offset="0.730" stop-color="#00c8ff"/><stop offset="0.789" stop-color="#46fa6e"/><stop offset="0.926" stop-color="#46fa6e"/><stop offset="0.963" stop-color="#003cf8"/><stop offset="1.000" stop-color="#00006e"/></linearGradient>
<linearGradient id="g167" gradientUnits="userSpaceOnUse" x1="0" y1="192.61" x2="0" y2="219.61"><stop offset="0.000" stop-color="#00006e"/><stop offset="0.037" stop-color="#0014e8"/><stop offset="0.044" stop-color="#ff6c00"/><stop offset="0.180" stop-color="#ff8900"/><stop offset="0.260" stop-color="#cdf00c"/><stop offset="0.341" stop-color="#64f650"/><stop offset="0.415" stop-color="#30f295"/><stop offset="0.520" stop-color="#0dd7df"/><stop offset="0.581" stop-color="#00a1ff"/><stop offset="0.661" stop-color="#0068ff"/><stop offset="0.699" stop-color="#0068ff"/><stop offset="0.743" stop-color="#00c8ff"/><stop offset="0.802" stop-color="#46fa6e"/><stop offset="0.926" stop-color="#46fa6e"/><stop offset="0.963" stop-color="#003cf8"/><stop offset="1.000" stop-color="#00006e"/></linearGradient>
<linearGradient id="g168" gradientUnits="userSpaceOnUse" x1="0" y1="192.56" x2="0" y2="219.56"><stop offset="0.000" stop-color="#00006e"/><stop offset="0.037" stop-color="#0014e8"/><stop offset="0.044" stop-color="#ff6800"/><stop offset="0.182" stop-color="#ff8500"/><stop offset="0.263" stop-color="#cff00b"/><stop offset="0.344" stop-color="#65f64f"/><stop offset="0.419" stop-color="#30f294"/><stop offset="0.525" stop-color="#0dd7de"/><stop offset="0.588" stop-color="#00a2ff"/><stop offset="0.669" stop-color="#0068ff"/><stop offset="0.706" stop-color="#0068ff"/><stop offset="0.751" stop-color="#00c8ff"/><stop offset="0.810" stop-color="#46fa6e"/><stop offset="0.926" stop-color="#46fa6e"/><stop offset="0.963" stop-color="#003cf8"/><stop offset="1.000" stop-color="#00006e"/></linearGradient>
<linearGradient id="g169" gradientUnits="userSpaceOnUse" x1="0" y1="192.51" x2="0" y2="219.51"><stop offset="0.000" stop-color="#00006e"/><stop offset="0.037" stop-color="#0014e8"/><stop offset="0.044" stop-color="#ff6400"/><stop offset="0.183" stop-color="#ff8100"/><stop offset="0.265" stop-color="#d2f00a"/><stop offset="0.346" stop-color="#67f64d"/><stop offset="0.422" stop-color="#31f293"/><stop offset="0.529" stop-color="#0ed8dd"/><stop offset="0.591" stop-color="#00a2ff"/><stop offset="0.673" stop-color="#0068ff"/><stop offset="0.710" stop-color="#0068ff"/><stop offset="0.755" stop-color="#00c8ff"/><stop offset="0.814" stop-color="#46fa6e"/><stop offset="0.926" stop-color="#46fa6e"/><stop offset="0.963" stop-color="#003cf8"/><stop offset="1.000" stop-color="#00006e"/></linearGradient>
<linearGradient id="g170" gradientUnits="userSpaceOnUse" x1="0" y1="192.47" x2="0" y2="219.47"><stop offset="0.000" stop-color="#00006e"/><stop offset="0.037" stop-color="#0014e8"/><stop offset="0.044" stop-color="#ff6000"/><stop offset="0.184" stop-color="#ff7d00"/><stop offset="0.266" stop-color="#d4f009"/><stop offset="0.348" stop-color="#68f64c"/><stop offset="0.424" stop-color="#32f291"/><stop offset="0.532" stop-color="#0ed8dc"/><stop offset="0.595" stop-color="#00a2ff"/><stop offset="0.677" stop-color="#0068ff"/><stop offset="0.714" stop-color="#0068ff"/><stop offset="0.759" stop-color="#00c8ff"/><stop offset="0.818" stop-color="#46fa6e"/><stop offset="0.926" stop-color="#46fa6e"/><stop offset="0.963" stop-color="#003cf8"/><stop offset="1.000" stop-color="#00006e"/></linearGradient>
<linearGradient id="g171" gradientUnits="userSpaceOnUse" x1="0" y1="192.42" x2="0" y2="219.42"><stop offset="0.000" stop-color="#00006e"/><stop offset="0.037" stop-color="#0014e8"/><stop offset="0.044" stop-color="#ff5c00"/><stop offset="0.185" stop-color="#ff7900"/><stop offset="0.267" stop-color="#d7f008"/><stop offset="0.350" stop-color="#6af64a"/><stop offset="0.427" stop-color="#33f390"/><stop offset="0.535" stop-color="#0ed8dc"/><stop offset="0.599" stop-color="#00a3ff"/><stop offset="0.681" stop-color="#0068ff"/><stop offset="0.718" stop-color="#0068ff"/><stop offset="0.763" stop-color="#00c8ff"/><stop offset="0.822" stop-color="#46fa6e"/><stop offset="0.926" stop-color="#46fa6e"/><stop offset="0.963" stop-color="#003cf8"/><stop offset="1.000" stop-color="#00006e"/></linearGradient>
<linearGradient id="g172" gradientUnits="userSpaceOnUse" x1="0" y1="192.37" x2="0" y2="219.37"><stop offset="0.000" stop-color="#00006e"/><stop offset="0.037" stop-color="#0014e8"/><stop offset="0.044" stop-color="#ff5800"/><stop offset="0.185" stop-color="#ff7600"/><stop offset="0.269" stop-color="#d9f008"/><stop offset="0.352" stop-color="#6bf549"/><stop offset="0.429" stop-color="#33f38f"/><stop offset="0.538" stop-color="#0ed9db"/><stop offset="0.602" stop-color="#00a3ff"/><stop offset="0.686" stop-color="#0068ff"/><stop offset="0.723" stop-color="#0068ff"/><stop offset="0.767" stop-color="#00c8ff"/><stop offset="0.826" stop-color="#46fa6e"/><stop offset="0.926" stop-color="#46fa6e"/><stop offset="0.963" stop-color="#003cf8"/><stop offset="1.000" stop-color="#00006e"/></linearGradient>
<linearGradient id="g173" gradientUnits="userSpaceOnUse" x1="0" y1="192.32" x2="0" y2="219.32"><stop offset="0.000" stop-color="#00006e"/><stop offset="0.037" stop-color="#0014e8"/><stop offset="0.044" stop-color="#ff5400"/><stop offset="0.186" stop-color="#ff7200"/><stop offset="0.270" stop-color="#dcf007"/><stop offset="0.354" stop-color="#6df547"/><stop offset="0.432" stop-color="#34f38d"/><stop offset="0.541" stop-color="#0fd9da"/><stop offset="0.606" stop-color="#00a4ff"/><stop offset="0.690" stop-color="#0068ff"/><stop offset="0.727" stop-color="#0068ff"/><stop offset="0.771" stop-color="#00c8ff"/><stop offset="0.830" stop-color="#46fa6e"/><stop offset="0.926" stop-color="#46fa6e"/><stop offset="0.963" stop-color="#003cf8"/><stop offset="1.000" stop-color="#00006e"/></linearGradient>
<linearGradient id="g174" gradientUnits="userSpaceOnUse" x1="0" y1="192.27" x2="0" y2="219.27"><stop offset="0.000" stop-color="#00006e"/><stop offset="0.037" stop-color="#0014e8"/><stop offset="0.044" stop-color="#ff5000"/><stop offset="0.187" stop-color="#ff6e00"/><stop offset="0.272" stop-color="#def006"/><stop offset="0.356" stop-color="#6ef546"/><stop offset="0.434" stop-color="#35f48c"/><stop offset="0.544" stop-color="#0fdad9"/><stop offset="0.609" stop-color="#00a4ff"/><stop offset="0.694" stop-color="#0068ff"/><stop offset="0.731" stop-color="#0068ff"/><stop offset="0.775" stop-color="#00c8ff"/><stop offset="0.834" stop-color="#46fa6e"/><stop offset="0.926" stop-color="#46fa6e"/><stop offset="0.963" stop-color="#003cf8"/><stop offset="1.000" stop-color="#00006e"/></linearGradient>
<linearGradient id="g175" gradientUnits="userSpaceOnUse" x1="0" y1="192.22" x2="0" y2="219.22"><stop offset="0.000" stop-color="#00006e"/><stop offset="0.037" stop-color="#0014e8"/><stop offset="0.044" stop-color="#ff5000"/><stop offset="0.188" stop-color="#ff6e00"/><stop offset="0.273" stop-color="#def006"/><stop offset="0.358" stop-color="#6ef546"/><stop offset="0.436" stop-color="#35f48c"/><stop offset="0.548" stop-color="#0fdad9"/><stop offset="0.613" stop-color="#00a4ff"/><stop offset="0.698" stop-color="#0068ff"/><stop offset="0.735" stop-color="#0068ff"/><stop offset="0.779" stop-color="#00c8ff"/><stop offset="0.839" stop-color="#46fa6e"/><stop offset="0.926" stop-color="#46fa6e"/><stop offset="0.963" stop-color="#003cf8"/><stop offset="1.000" stop-color="#00006e"/></linearGradient>
<linearGradient id="g176" gradientUnits="userSpaceOnUse" x1="0" y1="192.17" x2="0" y2="219.17"><stop offset="0.000" stop-color="#00006e"/><stop offset="0.037" stop-color="#0014e8"/><stop offset="0.044" stop-color="#ff5000"/><stop offset="0.189" stop-color="#ff6e00"/><stop offset="0.275" stop-color="#def006"/><stop offset="0.360" stop-color="#6ef546"/><stop offset="0.439" stop-color="#35f48c"/><stop offset="0.551" stop-color="#0fdad9"/><stop offset="0.616" stop-color="#00a4ff"/><stop offset="0.702" stop-color="#0068ff"/><stop offset="0.739" stop-color="#0068ff"/><stop offset="0.783" stop-color="#00c8ff"/><stop offset="0.843" stop-color="#46fa6e"/><stop offset="0.926" stop-color="#46fa6e"/><stop offset="0.963" stop-color="#003cf8"/><stop offset="1.000" stop-color="#00006e"/></linearGradient>
<linearGradient id="g177" gradientUnits="userSpaceOnUse" x1="0" y1="192.13" x2="0" y2="219.13"><stop offset="0.000" stop-color="#00006e"/><stop offset="0.037" stop-color="#0014e8"/><stop offset="0.044" stop-color="#ff5000"/><stop offset="0.190" stop-color="#ff6e00"/><stop offset="0.276" stop-color="#def006"/><stop offset="0.362" stop-color="#6ef546"/><stop offset="0.441" stop-color="#35f48c"/><stop offset="0.554" stop-color="#0fdad9"/><stop offset="0.620" stop-color="#00a4ff"/><stop offset="0.706" stop-color="#0068ff"/><stop offset="0.743" stop-color="#0068ff"/><stop offset="0.788" stop-color="#00c8ff"/><stop offset="0.847" stop-color="#46fa6e"/><stop offset="0.926" stop-color="#46fa6e"/><stop offset="0.963" stop-color="#003cf8"/><stop offset="1.000" stop-color="#00006e"/></linearGradient>
<linearGradient id="g178" gradientUnits="userSpaceOnUse" x1="0" y1="192.08" x2="0" y2="219.08"><stop offset="0.000" stop-color="#00006e"/><stop offset="0.037" stop-color="#0014e8"/><stop offset="0.044" stop-color="#ff5000"/><stop offset="0.191" stop-color="#ff6e00"/><stop offset="0.277" stop-color="#def006"/><stop offset="0.364" stop-color="#6ef546"/><stop offset="0.444" stop-color="#35f48c"/><stop offset="0.557" stop-color="#0fdad9"/><stop offset="0.624" stop-color="#00a4ff"/><stop offset="0.710" stop-color="#0068ff"/><stop offset="0.747" stop-color="#0068ff"/><stop offset="0.792" stop-color="#00c8ff"/><stop offset="0.851" stop-color="#46fa6e"/><stop offset="0.926" stop-color="#46fa6e"/><stop offset="0.963" stop-color="#003cf8"/><stop offset="1.000" stop-color="#00006e"/></linearGradient>
<linearGradient id="g179" gradientUnits="userSpaceOnUse" x1="0" y1="192.03" x2="0" y2="219.03"><stop offset="0.000" stop-color="#00006e"/><stop offset="0.037" stop-color="#0014e8"/><stop offset="0.044" stop-color="#ff5000"/><stop offset="0.192" stop-color="#ff6e00"/><stop offset="0.279" stop-color="#def006"/><stop offset="0.366" stop-color="#6ef546"/><stop offset="0.446" stop-color="#35f48c"/><stop offset="0.560" stop-color="#0fdad9"/><stop offset="0.627" stop-color="#00a4ff"/><stop offset="0.714" stop-color="#0068ff"/><stop offset="0.751" stop-color="#0068ff"/><stop offset="0.796" stop-color="#00c8ff"/><stop offset="0.855" stop-color="#46fa6e"/><stop offset="0.926" stop-color="#46fa6e"/><stop offset="0.963" stop-color="#003cf8"/><stop offset="1.000" stop-color="#00006e"/></linearGradient>
<linearGradient id="g180" gradientUnits="userSpaceOnUse" x1="0" y1="191.98" x2="0" y2="218.98"><stop offset="0.000" stop-color="#00006e"/><stop offset="0.037" stop-color="#0014e8"/><stop offset="0.044" stop-color="#ff5000"/><stop offset="0.193" stop-color="#ff6e00"/><stop offset="0.280" stop-color="#def006"/><stop offset="0.368" stop-color="#6ef546"/><stop offset="0.449" stop-color="#35f48c"/><stop offset="0.563" stop-color="#0fdad9"/><stop offset="0.631" stop-color="#00a4ff"/><stop offset="0.718" stop-color="#0068ff"/><stop offset="0.755" stop-color="#0068ff"/><stop offset="0.800" stop-color="#00c8ff"/><stop offset="0.859" stop-color="#46fa6e"/><stop offset="0.926" stop-color="#46fa6e"/><stop offset="0.963" stop-color="#003cf8"/><stop offset="1.000" stop-color="#00006e"/></linearGradient>
<linearGradient id="g181" gradientUnits="userSpaceOnUse" x1="0" y1="191.93" x2="0" y2="218.93"><stop offset="0.000" stop-color="#00006e"/><stop offset="0.037" stop-color="#0014e8"/><stop offset="0.044" stop-color="#ff5000"/><stop offset="0.194" stop-color="#ff6e00"/><stop offset="0.282" stop-color="#def006"/><stop offset="0.370" stop-color="#6ef546"/><stop offset="0.451" stop-color="#35f48c"/><stop offset="0.567" stop-color="#0fdad9"/><stop offset="0.634" stop-color="#00a4ff"/><stop offset="0.722" stop-color="#0068ff"/><stop offset="0.759" stop-color="#0068ff"/><stop offset="0.804" stop-color="#00c8ff"/><stop offset="0.863" stop-color="#46fa6e"/><stop offset="0.926" stop-color="#46fa6e"/><stop offset="0.963" stop-color="#003cf8"/><stop offset="1.000" stop-color="#00006e"/></linearGradient>
<linearGradient id="g182" gradientUnits="userSpaceOnUse" x1="0" y1="191.88" x2="0" y2="218.88"><stop offset="0.000" stop-color="#00006e"/><stop offset="0.037" stop-color="#0014e8"/><stop offset="0.044" stop-color="#ff5000"/><stop offset="0.195" stop-color="#ff6e00"/><stop offset="0.283" stop-color="#def006"/><stop offset="0.372" stop-color="#6ef546"/><stop offset="0.454" stop-color="#35f48c"/><stop offset="0.570" stop-color="#0fdad9"/><stop offset="0.638" stop-color="#00a4ff"/><stop offset="0.727" stop-color="#0068ff"/><stop offset="0.764" stop-color="#0068ff"/><stop offset="0.808" stop-color="#00c8ff"/><stop offset="0.867" stop-color="#46fa6e"/><stop offset="0.926" stop-color="#46fa6e"/><stop offset="0.963" stop-color="#003cf8"/><stop offset="1.000" stop-color="#00006e"/></linearGradient>
<linearGradient id="g183" gradientUnits="userSpaceOnUse" x1="0" y1="191.83" x2="0" y2="218.83"><stop offset="0.000" stop-color="#00006e"/><stop offset="0.037" stop-color="#0014e8"/><stop offset="0.044" stop-color="#ff5000"/><stop offset="0.195" stop-color="#ff6e00"/><stop offset="0.284" stop-color="#def006"/><stop offset="0.373" stop-color="#6ef546"/><stop offset="0.455" stop-color="#35f48c"/><stop offset="0.572" stop-color="#0fdad9"/><stop offset="0.640" stop-color="#00a4ff"/><stop offset="0.729" stop-color="#0068ff"/><stop offset="0.766" stop-color="#0068ff"/><stop offset="0.811" stop-color="#00c8ff"/><stop offset="0.870" stop-color="#46fa6e"/><stop offset="0.926" stop-color="#46fa6e"/><stop offset="0.963" stop-color="#003cf8"/><stop offset="1.000" stop-color="#00006e"/></linearGradient>
<linearGradient id="g184" gradientUnits="userSpaceOnUse" x1="0" y1="191.79" x2="0" y2="218.79"><stop offset="0.000" stop-color="#00006e"/><stop offset="0.037" stop-color="#0014e8"/><stop offset="0.044" stop-color="#ff5000"/><stop offset="0.195" stop-color="#ff6e00"/><stop offset="0.284" stop-color="#def006"/><stop offset="0.372" stop-color="#6ef546"/><stop offset="0.454" stop-color="#35f48c"/><stop offset="0.570" stop-color="#0fdad9"/><stop offset="0.639" stop-color="#00a4ff"/><stop offset="0.728" stop-color="#0068ff"/><stop offset="0.765" stop-color="#0068ff"/><stop offset="0.809" stop-color="#00c8ff"/><stop offset="0.868" stop-color="#46fa6e"/><stop offset="0.926" stop-color="#46fa6e"/><stop offset="0.963" stop-color="#003cf8"/><stop offset="1.000" stop-color="#00006e"/></linearGradient>
<linearGradient id="g185" gradientUnits="userSpaceOnUse" x1="0" y1="191.74" x2="0" y2="218.74"><stop offset="0.000" stop-color="#00006e"/><stop offset="0.037" stop-color="#0014e8"/><stop offset="0.044" stop-color="#ff5000"/><stop offset="0.194" stop-color="#ff6e00"/><stop offset="0.283" stop-color="#def006"/><stop offset="0.372" stop-color="#6ef546"/><stop offset="0.453" stop-color="#35f48c"/><stop offset="0.569" stop-color="#0fdad9"/><stop offset="0.637" stop-color="#00a4ff"/><stop offset="0.726" stop-color="#0068ff"/><stop offset="0.763" stop-color="#0068ff"/><stop offset="0.807" stop-color="#00c8ff"/><stop offset="0.867" stop-color="#46fa6e"/><stop offset="0.926" stop-color="#46fa6e"/><stop offset="0.963" stop-color="#003cf8"/><stop offset="1.000" stop-color="#00006e"/></linearGradient>
<linearGradient id="g186" gradientUnits="userSpaceOnUse" x1="0" y1="191.69" x2="0" y2="218.69"><stop offset="0.000" stop-color="#00006e"/><stop offset="0.037" stop-color="#0014e8"/><stop offset="0.044" stop-color="#ff5000"/><stop offset="0.194" stop-color="#ff6e00"/><stop offset="0.282" stop-color="#def006"/><stop offset="0.371" stop-color="#6ef546"/><stop offset="0.452" stop-color="#35f48c"/><stop offset="0.568" stop-color="#0fdad9"/><stop offset="0.636" stop-color="#00a4ff"/><stop offset="0.724" stop-color="#0068ff"/><stop offset="0.761" stop-color="#0068ff"/><stop offset="0.806" stop-color="#00c8ff"/><stop offset="0.865" stop-color="#46fa6e"/><stop offset="0.926" stop-color="#46fa6e"/><stop offset="0.963" stop-color="#003cf8"/><stop offset="1.000" stop-color="#00006e"/></linearGradient>
<linearGradient id="g187" gradientUnits="userSpaceOnUse" x1="0" y1="191.64" x2="0" y2="218.64"><stop offset="0.000" stop-color="#00006e"/><stop offset="0.037" stop-color="#0014e8"/><stop offset="0.044" stop-color="#ff5000"/><stop offset="0.194" stop-color="#ff6e00"/><stop offset="0.282" stop-color="#def006"/><stop offset="0.370" stop-color="#6ef546"/><stop offset="0.451" stop-color="#35f48c"/><stop offset="0.567" stop-color="#0fdad9"/><stop offset="0.634" stop-color="#00a4ff"/><stop offset="0.723" stop-color="#0068ff"/><stop offset="0.760" stop-color="#0068ff"/><stop offset="0.804" stop-color="#00c8ff"/><stop offset="0.863" stop-color="#46fa6e"/><stop offset="0.926" stop-color="#46fa6e"/><stop offset="0.963" stop-color="#003cf8"/><stop offset="1.000" stop-color="#00006e"/></linearGradient>
<linearGradient id="g188" gradientUnits="userSpaceOnUse" x1="0" y1="191.59" x2="0" y2="218.59"><stop offset="0.000" stop-color="#00006e"/><stop offset="0.037" stop-color="#0014e8"/><stop offset="0.044" stop-color="#ff5000"/><stop offset="0.193" stop-color="#ff6e00"/><stop offset="0.281" stop-color="#def006"/><stop offset="0.369" stop-color="#6ef546"/><stop offset="0.450" stop-color="#35f48c"/><stop offset="0.565" stop-color="#0fdad9"/><stop offset="0.633" stop-color="#00a4ff"/><stop offset="0.721" stop-color="#0068ff"/><stop offset="0.758" stop-color="#0068ff"/><stop offset="0.802" stop-color="#00c8ff"/><stop offset="0.862" stop-color="#46fa6e"/><stop offset="0.926" stop-color="#46fa6e"/><stop offset="0.963" stop-color="#003cf8"/><stop offset="1.000" stop-color="#00006e"/></linearGradient>
<linearGradient id="g189" gradientUnits="userSpaceOnUse" x1="0" y1="191.54" x2="0" y2="218.54"><stop offset="0.000" stop-color="#00006e"/><stop offset="0.037" stop-color="#0014e8"/><stop offset="0.044" stop-color="#ff5000"/><stop offset="0.193" stop-color="#ff6e00"/><stop offset="0.281" stop-color="#def006"/><stop offset="0.368" stop-color="#6ef546"/><stop offset="0.449" stop-color="#35f48c"/><stop offset="0.564" stop-color="#0fdad9"/><stop offset="0.632" stop-color="#00a4ff"/><stop offset="0.719" stop-color="#0068ff"/><stop offset="0.756" stop-color="#0068ff"/><stop offset="0.801" stop-color="#00c8ff"/><stop offset="0.860" stop-color="#46fa6e"/><stop offset="0.926" stop-color="#46fa6e"/><stop offset="0.963" stop-color="#003cf8"/><stop offset="1.000" stop-color="#00006e"/></linearGradient>
<linearGradient id="g190" gradientUnits="userSpaceOnUse" x1="0" y1="191.49" x2="0" y2="218.49"><stop offset="0.000" stop-color="#00006e"/><stop offset="0.037" stop-color="#0014e8"/><stop offset="0.044" stop-color="#ff5000"/><stop offset="0.193" stop-color="#ff6e00"/><stop offset="0.280" stop-color="#def006"/><stop offset="0.368" stop-color="#6ef546"/><stop offset="0.448" stop-color="#35f48c"/><stop offset="0.563" stop-color="#0fdad9"/><stop offset="0.630" stop-color="#00a4ff"/><stop offset="0.718" stop-color="#0068ff"/><stop offset="0.755" stop-color="#0068ff"/><stop offset="0.799" stop-color="#00c8ff"/><stop offset="0.858" stop-color="#46fa6e"/><stop offset="0.926" stop-color="#46fa6e"/><stop offset="0.963" stop-color="#003cf8"/><stop offset="1.000" stop-color="#00006e"/></linearGradient>
<linearGradient id="g191" gradientUnits="userSpaceOnUse" x1="0" y1="191.45" x2="0" y2="218.45"><stop offset="0.000" stop-color="#00006e"/><stop offset="0.037" stop-color="#0014e8"/><stop offset="0.044" stop-color="#ff5000"/><stop offset="0.192" stop-color="#ff6e00"/><stop offset="0.280" stop-color="#def006"/><stop offset="0.367" stop-color="#6ef546"/><stop offset="0.447" stop-color="#35f48c"/><stop offset="0.562" stop-color="#0fdad9"/><stop offset="0.629" stop-color="#00a4ff"/><stop offset="0.716" stop-color="#0068ff"/><stop offset="0.753" stop-color="#0068ff"/><stop offset="0.798" stop-color="#00c8ff"/><stop offset="0.857" stop-color="#46fa6e"/><stop offset="0.926" stop-color="#46fa6e"/><stop offset="0.963" stop-color="#003cf8"/><stop offset="1.000" stop-color="#00006e"/></linearGradient>
<linearGradient id="g192" gradientUnits="userSpaceOnUse" x1="0" y1="191.40" x2="0" y2="218.40"><stop offset="0.000" stop-color="#00006e"/><stop offset="0.037" stop-color="#0014e8"/><stop offset="0.044" stop-color="#ff5000"/><stop offset="0.192" stop-color="#ff6e00"/><stop offset="0.279" stop-color="#def006"/><stop offset="0.366" stop-color="#6ef546"/><stop offset="0.446" stop-color="#35f48c"/><stop offset="0.560" stop-color="#0fdad9"/><stop offset="0.627" stop-color="#00a4ff"/><stop offset="0.714" stop-color="#0068ff"/><stop offset="0.751" stop-color="#0068ff"/><stop offset="0.796" stop-color="#00c8ff"/><stop offset="0.855" stop-color="#46fa6e"/><stop offset="0.926" stop-color="#46fa6e"/><stop offset="0.963" stop-color="#003cf8"/><stop offset="1.000" stop-color="#00006e"/></linearGradient>
<linearGradient id="g193" gradientUnits="userSpaceOnUse" x1="0" y1="191.35" x2="0" y2="218.35"><stop offset="0.000" stop-color="#00006e"/><stop offset="0.037" stop-color="#0014e8"/><stop offset="0.044" stop-color="#ff5000"/><stop offset="0.191" stop-color="#ff6e00"/><stop offset="0.278" stop-color="#def006"/><stop offset="0.365" stop-color="#6ef546"/><stop offset="0.445" stop-color="#35f48c"/><stop offset="0.559" stop-color="#0fdad9"/><stop offset="0.626" stop-color="#00a4ff"/><stop offset="0.713" stop-color="#0068ff"/><stop offset="0.750" stop-color="#0068ff"/><stop offset="0.794" stop-color="#00c8ff"/><stop offset="0.853" stop-color="#46fa6e"/><stop offset="0.926" stop-color="#46fa6e"/><stop offset="0.963" stop-color="#003cf8"/><stop offset="1.000" stop-color="#00006e"/></linearGradient>
<linearGradient id="g194" gradientUnits="userSpaceOnUse" x1="0" y1="191.30" x2="0" y2="218.30"><stop offset="0.000" stop-color="#00006e"/><stop offset="0.037" stop-color="#0014e8"/><stop offset="0.044" stop-color="#ff5000"/><stop offset="0.191" stop-color="#ff6e00"/><stop offset="0.278" stop-color="#def006"/><stop offset="0.364" stop-color="#6ef546"/><stop offset="0.444" stop-color="#35f48c"/><stop offset="0.558" stop-color="#0fdad9"/><stop offset="0.624" stop-color="#00a4ff"/><stop offset="0.711" stop-color="#0068ff"/><stop offset="0.748" stop-color="#0068ff"/><stop offset="0.793" stop-color="#00c8ff"/><stop offset="0.852" stop-color="#46fa6e"/><stop offset="0.926" stop-color="#46fa6e"/><stop offset="0.963" stop-color="#003cf8"/><stop offset="1.000" stop-color="#00006e"/></linearGradient>
<linearGradient id="g195" gradientUnits="userSpaceOnUse" x1="0" y1="191.30" x2="0" y2="218.30"><stop offset="0.000" stop-color="#00006e"/><stop offset="0.037" stop-color="#0014e8"/><stop offset="0.044" stop-color="#ff5000"/><stop offset="0.190" stop-color="#ff6e00"/><stop offset="0.276" stop-color="#def006"/><stop offset="0.362" stop-color="#6ef546"/><stop offset="0.442" stop-color="#35f48c"/><stop offset="0.554" stop-color="#0fdad9"/><stop offset="0.621" stop-color="#00a4ff"/><stop offset="0.707" stop-color="#0068ff"/><stop offset="0.744" stop-color="#0068ff"/><stop offset="0.788" stop-color="#00c8ff"/><stop offset="0.847" stop-color="#46fa6e"/><stop offset="0.926" stop-color="#46fa6e"/><stop offset="0.963" stop-color="#003cf8"/><stop offset="1.000" stop-color="#00006e"/></linearGradient>
<linearGradient id="g196" gradientUnits="userSpaceOnUse" x1="0" y1="191.29" x2="0" y2="218.29"><stop offset="0.000" stop-color="#00006e"/><stop offset="0.037" stop-color="#0014e8"/><stop offset="0.044" stop-color="#ff5000"/><stop offset="0.189" stop-color="#ff6e00"/><stop offset="0.275" stop-color="#def006"/><stop offset="0.360" stop-color="#6ef546"/><stop offset="0.439" stop-color="#35f48c"/><stop offset="0.551" stop-color="#0fdad9"/><stop offset="0.617" stop-color="#00a4ff"/><stop offset="0.702" stop-color="#0068ff"/><stop offset="0.739" stop-color="#0068ff"/><stop offset="0.784" stop-color="#00c8ff"/><stop offset="0.843" stop-color="#46fa6e"/><stop offset="0.926" stop-color="#46fa6e"/><stop offset="0.963" stop-color="#003cf8"/><stop offset="1.000" stop-color="#00006e"/></linearGradient>
<linearGradient id="g197" gradientUnits="userSpaceOnUse" x1="0" y1="191.29" x2="0" y2="218.29"><stop offset="0.000" stop-color="#00006e"/><stop offset="0.037" stop-color="#0014e8"/><stop offset="0.044" stop-color="#ff5000"/><stop offset="0.188" stop-color="#ff6e00"/><stop offset="0.273" stop-color="#def006"/><stop offset="0.358" stop-color="#6ef546"/><stop offset="0.436" stop-color="#35f48c"/><stop offset="0.548" stop-color="#0fdad9"/><stop offset="0.613" stop-color="#00a4ff"/><stop offset="0.698" stop-color="#0068ff"/><stop offset="0.735" stop-color="#0068ff"/><stop offset="0.779" stop-color="#00c8ff"/><stop offset="0.839" stop-color="#46fa6e"/><stop offset="0.926" stop-color="#46fa6e"/><stop offset="0.963" stop-color="#003cf8"/><stop offset="1.000" stop-color="#00006e"/></linearGradient>
<linearGradient id="g198" gradientUnits="userSpaceOnUse" x1="0" y1="191.28" x2="0" y2="218.28"><stop offset="0.000" stop-color="#00006e"/><stop offset="0.037" stop-color="#0014e8"/><stop offset="0.044" stop-color="#ff5000"/><stop offset="0.187" stop-color="#ff6e00"/><stop offset="0.272" stop-color="#def006"/><stop offset="0.356" stop-color="#6ef546"/><stop offset="0.434" stop-color="#35f48c"/><stop offset="0.544" stop-color="#0fdad9"/><stop offset="0.609" stop-color="#00a4ff"/><stop offset="0.693" stop-color="#0068ff"/><stop offset="0.730" stop-color="#0068ff"/><stop offset="0.775" stop-color="#00c8ff"/><stop offset="0.834" stop-color="#46fa6e"/><stop offset="0.926" stop-color="#46fa6e"/><stop offset="0.963" stop-color="#003cf8"/><stop offset="1.000" stop-color="#00006e"/></linearGradient>
<linearGradient id="g199" gradientUnits="userSpaceOnUse" x1="0" y1="191.28" x2="0" y2="218.28"><stop offset="0.000" stop-color="#00006e"/><stop offset="0.037" stop-color="#0014e8"/><stop offset="0.044" stop-color="#ff5000"/><stop offset="0.186" stop-color="#ff6e00"/><stop offset="0.270" stop-color="#def006"/><stop offset="0.354" stop-color="#6ef546"/><stop offset="0.431" stop-color="#35f48c"/><stop offset="0.541" stop-color="#0fdad9"/><stop offset="0.605" stop-color="#00a4ff"/><stop offset="0.689" stop-color="#0068ff"/><stop offset="0.726" stop-color="#0068ff"/><stop offset="0.770" stop-color="#00c8ff"/><stop offset="0.830" stop-color="#46fa6e"/><stop offset="0.926" stop-color="#46fa6e"/><stop offset="0.963" stop-color="#003cf8"/><stop offset="1.000" stop-color="#00006e"/></linearGradient>
<linearGradient id="g200" gradientUnits="userSpaceOnUse" x1="0" y1="191.27" x2="0" y2="218.27"><stop offset="0.000" stop-color="#00006e"/><stop offset="0.037" stop-color="#0014e8"/><stop offset="0.044" stop-color="#ff5000"/><stop offset="0.185" stop-color="#ff6e00"/><stop offset="0.268" stop-color="#def006"/><stop offset="0.352" stop-color="#6ef546"/><stop offset="0.428" stop-color="#35f48c"/><stop offset="0.537" stop-color="#0fdad9"/><stop offset="0.601" stop-color="#00a4ff"/><stop offset="0.684" stop-color="#0068ff"/><stop offset="0.721" stop-color="#0068ff"/><stop offset="0.766" stop-color="#00c8ff"/><stop offset="0.825" stop-color="#46fa6e"/><stop offset="0.926" stop-color="#46fa6e"/><stop offset="0.963" stop-color="#003cf8"/><stop offset="1.000" stop-color="#00006e"/></linearGradient>
<linearGradient id="g201" gradientUnits="userSpaceOnUse" x1="0" y1="191.27" x2="0" y2="218.27"><stop offset="0.000" stop-color="#00006e"/><stop offset="0.037" stop-color="#0014e8"/><stop offset="0.044" stop-color="#ff5000"/><stop offset="0.184" stop-color="#ff6e00"/><stop offset="0.267" stop-color="#def006"/><stop offset="0.350" stop-color="#6ef546"/><stop offset="0.426" stop-color="#35f48c"/><stop offset="0.534" stop-color="#0fdad9"/><stop offset="0.597" stop-color="#00a4ff"/><stop offset="0.680" stop-color="#0068ff"/><stop offset="0.717" stop-color="#0068ff"/><stop offset="0.761" stop-color="#00c8ff"/><stop offset="0.821" stop-color="#46fa6e"/><stop offset="0.926" stop-color="#46fa6e"/><stop offset="0.963" stop-color="#003cf8"/><stop offset="1.000" stop-color="#00006e"/></linearGradient>
<linearGradient id="g202" gradientUnits="userSpaceOnUse" x1="0" y1="191.27" x2="0" y2="218.27"><stop offset="0.000" stop-color="#00006e"/><stop offset="0.037" stop-color="#0014e8"/><stop offset="0.044" stop-color="#ff5000"/><stop offset="0.183" stop-color="#ff6e00"/><stop offset="0.265" stop-color="#def006"/><stop offset="0.347" stop-color="#6ef546"/><stop offset="0.423" stop-color="#35f48c"/><stop offset="0.530" stop-color="#0fdad9"/><stop offset="0.594" stop-color="#00a4ff"/><stop offset="0.676" stop-color="#0068ff"/><stop offset="0.713" stop-color="#0068ff"/><stop offset="0.757" stop-color="#00c8ff"/><stop offset="0.816" stop-color="#46fa6e"/><stop offset="0.926" stop-color="#46fa6e"/><stop offset="0.963" stop-color="#003cf8"/><stop offset="1.000" stop-color="#00006e"/></linearGradient>
<linearGradient id="g203" gradientUnits="userSpaceOnUse" x1="0" y1="191.26" x2="0" y2="218.26"><stop offset="0.000" stop-color="#00006e"/><stop offset="0.037" stop-color="#0014e8"/><stop offset="0.044" stop-color="#ff5000"/><stop offset="0.182" stop-color="#ff6e00"/><stop offset="0.264" stop-color="#def006"/><stop offset="0.345" stop-color="#6ef546"/><stop offset="0.420" stop-color="#35f48c"/><stop offset="0.527" stop-color="#0fdad9"/><stop offset="0.590" stop-color="#00a4ff"/><stop offset="0.671" stop-color="#0068ff"/><stop offset="0.708" stop-color="#0068ff"/><stop offset="0.753" stop-color="#00c8ff"/><stop offset="0.812" stop-color="#46fa6e"/><stop offset="0.926" stop-color="#46fa6e"/><stop offset="0.963" stop-color="#003cf8"/><stop offset="1.000" stop-color="#00006e"/></linearGradient>
<linearGradient id="g204" gradientUnits="userSpaceOnUse" x1="0" y1="191.26" x2="0" y2="218.26"><stop offset="0.000" stop-color="#00006e"/><stop offset="0.037" stop-color="#0014e8"/><stop offset="0.044" stop-color="#ff5000"/><stop offset="0.181" stop-color="#ff6e00"/><stop offset="0.262" stop-color="#def006"/><stop offset="0.343" stop-color="#6ef546"/><stop offset="0.418" stop-color="#35f48c"/><stop offset="0.524" stop-color="#0fdad9"/><stop offset="0.586" stop-color="#00a4ff"/><stop offset="0.667" stop-color="#0068ff"/><stop offset="0.704" stop-color="#0068ff"/><stop offset="0.748" stop-color="#00c8ff"/><stop offset="0.807" stop-color="#46fa6e"/><stop offset="0.926" stop-color="#46fa6e"/><stop offset="0.963" stop-color="#003cf8"/><stop offset="1.000" stop-color="#00006e"/></linearGradient>
<linearGradient id="g205" gradientUnits="userSpaceOnUse" x1="0" y1="191.25" x2="0" y2="218.25"><stop offset="0.000" stop-color="#00006e"/><stop offset="0.037" stop-color="#0014e8"/><stop offset="0.044" stop-color="#ff5000"/><stop offset="0.180" stop-color="#ff6e00"/><stop offset="0.260" stop-color="#def006"/><stop offset="0.340" stop-color="#6ef546"/><stop offset="0.414" stop-color="#35f48c"/><stop offset="0.519" stop-color="#0fdad9"/><stop offset="0.581" stop-color="#00a4ff"/><stop offset="0.661" stop-color="#0068ff"/><stop offset="0.698" stop-color="#0068ff"/><stop offset="0.743" stop-color="#00c8ff"/><stop offset="0.802" stop-color="#46fa6e"/><stop offset="0.926" stop-color="#46fa6e"/><stop offset="0.963" stop-color="#003cf8"/><stop offset="1.000" stop-color="#00006e"/></linearGradient>
<linearGradient id="g206" gradientUnits="userSpaceOnUse" x1="0" y1="191.25" x2="0" y2="218.25"><stop offset="0.000" stop-color="#00006e"/><stop offset="0.037" stop-color="#0014e8"/><stop offset="0.044" stop-color="#ff5000"/><stop offset="0.179" stop-color="#ff6e00"/><stop offset="0.258" stop-color="#def006"/><stop offset="0.338" stop-color="#6ef546"/><stop offset="0.411" stop-color="#35f48c"/><stop offset="0.515" stop-color="#0fdad9"/><stop offset="0.576" stop-color="#00a4ff"/><stop offset="0.656" stop-color="#0068ff"/><stop offset="0.693" stop-color="#0068ff"/><stop offset="0.737" stop-color="#00c8ff"/><stop offset="0.796" stop-color="#46fa6e"/><stop offset="0.926" stop-color="#46fa6e"/><stop offset="0.963" stop-color="#003cf8"/><stop offset="1.000" stop-color="#00006e"/></linearGradient>
<linearGradient id="g207" gradientUnits="userSpaceOnUse" x1="0" y1="191.24" x2="0" y2="218.24"><stop offset="0.000" stop-color="#00006e"/><stop offset="0.037" stop-color="#0014e8"/><stop offset="0.044" stop-color="#ff5000"/><stop offset="0.178" stop-color="#ff6e00"/><stop offset="0.256" stop-color="#def006"/><stop offset="0.335" stop-color="#6ef546"/><stop offset="0.408" stop-color="#35f48c"/><stop offset="0.511" stop-color="#0fdad9"/><stop offset="0.571" stop-color="#00a4ff"/><stop offset="0.650" stop-color="#0068ff"/><stop offset="0.687" stop-color="#0068ff"/><stop offset="0.732" stop-color="#00c8ff"/><stop offset="0.791" stop-color="#46fa6e"/><stop offset="0.926" stop-color="#46fa6e"/><stop offset="0.963" stop-color="#003cf8"/><stop offset="1.000" stop-color="#00006e"/></linearGradient>
<linearGradient id="g208" gradientUnits="userSpaceOnUse" x1="0" y1="191.24" x2="0" y2="218.24"><stop offset="0.000" stop-color="#00006e"/><stop offset="0.037" stop-color="#0014e8"/><stop offset="0.044" stop-color="#ff5000"/><stop offset="0.176" stop-color="#ff6e00"/><stop offset="0.255" stop-color="#def006"/><stop offset="0.333" stop-color="#6ef546"/><stop offset="0.405" stop-color="#35f48c"/><stop offset="0.507" stop-color="#0fdad9"/><stop offset="0.567" stop-color="#00a4ff"/><stop offset="0.645" stop-color="#0068ff"/><stop offset="0.682" stop-color="#0068ff"/><stop offset="0.726" stop-color="#00c8ff"/><stop offset="0.785" stop-color="#46fa6e"/><stop offset="0.926" stop-color="#46fa6e"/><stop offset="0.963" stop-color="#003cf8"/><stop offset="1.000" stop-color="#00006e"/></linearGradient>
<linearGradient id="g209" gradientUnits="userSpaceOnUse" x1="0" y1="191.24" x2="0" y2="218.24"><stop offset="0.000" stop-color="#00006e"/><stop offset="0.037" stop-color="#0014e8"/><stop offset="0.044" stop-color="#ff5000"/><stop offset="0.175" stop-color="#ff6e00"/><stop offset="0.253" stop-color="#def006"/><stop offset="0.330" stop-color="#6ef546"/><stop offset="0.401" stop-color="#35f48c"/><stop offset="0.502" stop-color="#0fdad9"/><stop offset="0.562" stop-color="#00a4ff"/><stop offset="0.639" stop-color="#0068ff"/><stop offset="0.676" stop-color="#0068ff"/><stop offset="0.721" stop-color="#00c8ff"/><stop offset="0.780" stop-color="#46fa6e"/><stop offset="0.926" stop-color="#46fa6e"/><stop offset="0.963" stop-color="#003cf8"/><stop offset="1.000" stop-color="#00006e"/></linearGradient>
<linearGradient id="g210" gradientUnits="userSpaceOnUse" x1="0" y1="191.23" x2="0" y2="218.23"><stop offset="0.000" stop-color="#00006e"/><stop offset="0.037" stop-color="#0014e8"/><stop offset="0.044" stop-color="#ff5000"/><stop offset="0.174" stop-color="#ff6e00"/><stop offset="0.251" stop-color="#def006"/><stop offset="0.327" stop-color="#6ef546"/><stop offset="0.398" stop-color="#35f48c"/><stop offset="0.498" stop-color="#0fdad9"/><stop offset="0.557" stop-color="#00a4ff"/><stop offset="0.634" stop-color="#0068ff"/><stop offset="0.671" stop-color="#0068ff"/><stop offset="0.715" stop-color="#00c8ff"/><stop offset="0.774" stop-color="#46fa6e"/><stop offset="0.926" stop-color="#46fa6e"/><stop offset="0.963" stop-color="#003cf8"/><stop offset="1.000" stop-color="#00006e"/></linearGradient>
<linearGradient id="g211" gradientUnits="userSpaceOnUse" x1="0" y1="191.23" x2="0" y2="218.23"><stop offset="0.000" stop-color="#00006e"/><stop offset="0.037" stop-color="#0014e8"/><stop offset="0.044" stop-color="#ff5000"/><stop offset="0.173" stop-color="#ff6e00"/><stop offset="0.249" stop-color="#def006"/><stop offset="0.325" stop-color="#6ef546"/><stop offset="0.395" stop-color="#35f48c"/><stop offset="0.494" stop-color="#0fdad9"/><stop offset="0.552" stop-color="#00a4ff"/><stop offset="0.628" stop-color="#0068ff"/><stop offset="0.665" stop-color="#0068ff"/><stop offset="0.710" stop-color="#00c8ff"/><stop offset="0.769" stop-color="#46fa6e"/><stop offset="0.926" stop-color="#46fa6e"/><stop offset="0.963" stop-color="#003cf8"/><stop offset="1.000" stop-color="#00006e"/></linearGradient>
<linearGradient id="g212" gradientUnits="userSpaceOnUse" x1="0" y1="191.22" x2="0" y2="218.22"><stop offset="0.000" stop-color="#00006e"/><stop offset="0.037" stop-color="#0014e8"/><stop offset="0.044" stop-color="#ff5000"/><stop offset="0.172" stop-color="#ff6e00"/><stop offset="0.247" stop-color="#def006"/><stop offset="0.322" stop-color="#6ef546"/><stop offset="0.391" stop-color="#35f48c"/><stop offset="0.490" stop-color="#0fdad9"/><stop offset="0.547" stop-color="#00a4ff"/><stop offset="0.623" stop-color="#0068ff"/><stop offset="0.660" stop-color="#0068ff"/><stop offset="0.704" stop-color="#00c8ff"/><stop offset="0.763" stop-color="#46fa6e"/><stop offset="0.926" stop-color="#46fa6e"/><stop offset="0.963" stop-color="#003cf8"/><stop offset="1.000" stop-color="#00006e"/></linearGradient>
<linearGradient id="g213" gradientUnits="userSpaceOnUse" x1="0" y1="191.22" x2="0" y2="218.22"><stop offset="0.000" stop-color="#00006e"/><stop offset="0.037" stop-color="#0014e8"/><stop offset="0.044" stop-color="#ff5000"/><stop offset="0.170" stop-color="#ff6e00"/><stop offset="0.245" stop-color="#def006"/><stop offset="0.319" stop-color="#6ef546"/><stop offset="0.388" stop-color="#35f48c"/><stop offset="0.485" stop-color="#0fdad9"/><stop offset="0.543" stop-color="#00a4ff"/><stop offset="0.617" stop-color="#0068ff"/><stop offset="0.654" stop-color="#0068ff"/><stop offset="0.699" stop-color="#00c8ff"/><stop offset="0.758" stop-color="#46fa6e"/><stop offset="0.926" stop-color="#46fa6e"/><stop offset="0.963" stop-color="#003cf8"/><stop offset="1.000" stop-color="#00006e"/></linearGradient>
<linearGradient id="g214" gradientUnits="userSpaceOnUse" x1="0" y1="191.22" x2="0" y2="218.22"><stop offset="0.000" stop-color="#00006e"/><stop offset="0.037" stop-color="#0014e8"/><stop offset="0.044" stop-color="#ff5000"/><stop offset="0.169" stop-color="#ff6e00"/><stop offset="0.243" stop-color="#def006"/><stop offset="0.317" stop-color="#6ef546"/><stop offset="0.385" stop-color="#35f48c"/><stop offset="0.481" stop-color="#0fdad9"/><stop offset="0.538" stop-color="#00a4ff"/><stop offset="0.612" stop-color="#0068ff"/><stop offset="0.649" stop-color="#0068ff"/><stop offset="0.693" stop-color="#00c8ff"/><stop offset="0.752" stop-color="#46fa6e"/><stop offset="0.926" stop-color="#46fa6e"/><stop offset="0.963" stop-color="#003cf8"/><stop offset="1.000" stop-color="#00006e"/></linearGradient>
<linearGradient id="g215" gradientUnits="userSpaceOnUse" x1="0" y1="191.21" x2="0" y2="218.21"><stop offset="0.000" stop-color="#00006e"/><stop offset="0.037" stop-color="#0014e8"/><stop offset="0.044" stop-color="#ff5000"/><stop offset="0.168" stop-color="#ff6e00"/><stop offset="0.240" stop-color="#def006"/><stop offset="0.313" stop-color="#6ef546"/><stop offset="0.380" stop-color="#35f48c"/><stop offset="0.476" stop-color="#0fdad9"/><stop offset="0.532" stop-color="#00a4ff"/><stop offset="0.605" stop-color="#0068ff"/><stop offset="0.642" stop-color="#0068ff"/><stop offset="0.686" stop-color="#00c8ff"/><stop offset="0.745" stop-color="#46fa6e"/><stop offset="0.926" stop-color="#46fa6e"/><stop offset="0.963" stop-color="#003cf8"/><stop offset="1.000" stop-color="#00006e"/></linearGradient>
<linearGradient id="g216" gradientUnits="userSpaceOnUse" x1="0" y1="191.21" x2="0" y2="218.21"><stop offset="0.000" stop-color="#00006e"/><stop offset="0.037" stop-color="#0014e8"/><stop offset="0.044" stop-color="#ff5000"/><stop offset="0.165" stop-color="#ff6e00"/><stop offset="0.236" stop-color="#def006"/><stop offset="0.308" stop-color="#6ef546"/><stop offset="0.374" stop-color="#35f48c"/><stop offset="0.467" stop-color="#0fdad9"/><stop offset="0.522" stop-color="#00a4ff"/><stop offset="0.593" stop-color="#0068ff"/><stop offset="0.630" stop-color="#0068ff"/><stop offset="0.674" stop-color="#00c8ff"/><stop offset="0.734" stop-color="#46fa6e"/><stop offset="0.926" stop-color="#46fa6e"/><stop offset="0.963" stop-color="#003cf8"/><stop offset="1.000" stop-color="#00006e"/></linearGradient>
<linearGradient id="g217" gradientUnits="userSpaceOnUse" x1="0" y1="191.20" x2="0" y2="218.20"><stop offset="0.000" stop-color="#00006e"/><stop offset="0.037" stop-color="#0014e8"/><stop offset="0.044" stop-color="#ff5000"/><stop offset="0.163" stop-color="#ff6e00"/><stop offset="0.232" stop-color="#def006"/><stop offset="0.302" stop-color="#6ef546"/><stop offset="0.367" stop-color="#35f48c"/><stop offset="0.458" stop-color="#0fdad9"/><stop offset="0.512" stop-color="#00a4ff"/><stop offset="0.581" stop-color="#0068ff"/><stop offset="0.618" stop-color="#0068ff"/><stop offset="0.663" stop-color="#00c8ff"/><stop offset="0.722" stop-color="#46fa6e"/><stop offset="0.926" stop-color="#46fa6e"/><stop offset="0.963" stop-color="#003cf8"/><stop offset="1.000" stop-color="#00006e"/></linearGradient>
<linearGradient id="g218" gradientUnits="userSpaceOnUse" x1="0" y1="191.20" x2="0" y2="218.20"><stop offset="0.000" stop-color="#00006e"/><stop offset="0.037" stop-color="#0014e8"/><stop offset="0.044" stop-color="#ff5000"/><stop offset="0.160" stop-color="#ff6e00"/><stop offset="0.228" stop-color="#def006"/><stop offset="0.297" stop-color="#6ef546"/><stop offset="0.360" stop-color="#35f48c"/><stop offset="0.449" stop-color="#0fdad9"/><stop offset="0.502" stop-color="#00a4ff"/><stop offset="0.570" stop-color="#0068ff"/><stop offset="0.607" stop-color="#0068ff"/><stop offset="0.651" stop-color="#00c8ff"/><stop offset="0.711" stop-color="#46fa6e"/><stop offset="0.926" stop-color="#46fa6e"/><stop offset="0.963" stop-color="#003cf8"/><stop offset="1.000" stop-color="#00006e"/></linearGradient>
<linearGradient id="g219" gradientUnits="userSpaceOnUse" x1="0" y1="191.19" x2="0" y2="218.19"><stop offset="0.000" stop-color="#00006e"/><stop offset="0.037" stop-color="#0014e8"/><stop offset="0.044" stop-color="#ff5000"/><stop offset="0.157" stop-color="#ff6e00"/><stop offset="0.224" stop-color="#def006"/><stop offset="0.291" stop-color="#6ef546"/><stop offset="0.353" stop-color="#35f48c"/><stop offset="0.440" stop-color="#0fdad9"/><stop offset="0.491" stop-color="#00a4ff"/><stop offset="0.558" stop-color="#0068ff"/><stop offset="0.595" stop-color="#0068ff"/><stop offset="0.640" stop-color="#00c8ff"/><stop offset="0.699" stop-color="#46fa6e"/><stop offset="0.926" stop-color="#46fa6e"/><stop offset="0.963" stop-color="#003cf8"/><stop offset="1.000" stop-color="#00006e"/></linearGradient>
<linearGradient id="g220" gradientUnits="userSpaceOnUse" x1="0" y1="191.19" x2="0" y2="218.19"><stop offset="0.000" stop-color="#00006e"/><stop offset="0.037" stop-color="#0014e8"/><stop offset="0.044" stop-color="#ff5800"/><stop offset="0.155" stop-color="#ff7600"/><stop offset="0.220" stop-color="#d9f008"/><stop offset="0.286" stop-color="#6bf549"/><stop offset="0.346" stop-color="#33f38f"/><stop offset="0.431" stop-color="#0ed9db"/><stop offset="0.481" stop-color="#00a3ff"/><stop offset="0.547" stop-color="#0068ff"/><stop offset="0.584" stop-color="#0068ff"/><stop offset="0.628" stop-color="#00c8ff"/><stop offset="0.687" stop-color="#46fa6e"/><stop offset="0.926" stop-color="#46fa6e"/><stop offset="0.963" stop-color="#003cf8"/><stop offset="1.000" stop-color="#00006e"/></linearGradient>
<linearGradient id="g221" gradientUnits="userSpaceOnUse" x1="0" y1="191.19" x2="0" y2="218.19"><stop offset="0.000" stop-color="#00006e"/><stop offset="0.037" stop-color="#0014e8"/><stop offset="0.044" stop-color="#ff6100"/><stop offset="0.152" stop-color="#ff7e00"/><stop offset="0.216" stop-color="#d4f009"/><stop offset="0.280" stop-color="#68f64c"/><stop offset="0.339" stop-color="#32f291"/><stop offset="0.422" stop-color="#0ed8dd"/><stop offset="0.471" stop-color="#00a2ff"/><stop offset="0.535" stop-color="#0068ff"/><stop offset="0.572" stop-color="#0068ff"/><stop offset="0.617" stop-color="#00c8ff"/><stop offset="0.676" stop-color="#46fa6e"/><stop offset="0.926" stop-color="#46fa6e"/><stop offset="0.963" stop-color="#003cf8"/><stop offset="1.000" stop-color="#00006e"/></linearGradient>
<linearGradient id="g222" gradientUnits="userSpaceOnUse" x1="0" y1="191.18" x2="0" y2="218.18"><stop offset="0.000" stop-color="#00006e"/><stop offset="0.037" stop-color="#0014e8"/><stop offset="0.044" stop-color="#ff6900"/><stop offset="0.150" stop-color="#ff8600"/><stop offset="0.212" stop-color="#cff00b"/><stop offset="0.274" stop-color="#65f64f"/><stop offset="0.332" stop-color="#30f294"/><stop offset="0.413" stop-color="#0dd7de"/><stop offset="0.461" stop-color="#00a2ff"/><stop offset="0.524" stop-color="#0068ff"/><stop offset="0.561" stop-color="#0068ff"/><stop offset="0.605" stop-color="#00c8ff"/><stop offset="0.664" stop-color="#46fa6e"/><stop offset="0.926" stop-color="#46fa6e"/><stop offset="0.963" stop-color="#003cf8"/><stop offset="1.000" stop-color="#00006e"/></linearGradient>
<linearGradient id="g223" gradientUnits="userSpaceOnUse" x1="0" y1="191.18" x2="0" y2="218.18"><stop offset="0.000" stop-color="#00006e"/><stop offset="0.037" stop-color="#0014e8"/><stop offset="0.044" stop-color="#ff7100"/><stop offset="0.147" stop-color="#ff8e00"/><stop offset="0.208" stop-color="#caf00d"/><stop offset="0.269" stop-color="#62f752"/><stop offset="0.325" stop-color="#2ff197"/><stop offset="0.404" stop-color="#0dd7e0"/><stop offset="0.451" stop-color="#00a1ff"/><stop offset="0.512" stop-color="#0068ff"/><stop offset="0.549" stop-color="#0068ff"/><stop offset="0.593" stop-color="#00c8ff"/><stop offset="0.653" stop-color="#46fa6e"/><stop offset="0.926" stop-color="#46fa6e"/><stop offset="0.963" stop-color="#003cf8"/><stop offset="1.000" stop-color="#00006e"/></linearGradient>
<linearGradient id="g224" gradientUnits="userSpaceOnUse" x1="0" y1="191.17" x2="0" y2="218.17"><stop offset="0.000" stop-color="#00006e"/><stop offset="0.037" stop-color="#0014e8"/><stop offset="0.044" stop-color="#ff7a00"/><stop offset="0.145" stop-color="#ff9600"/><stop offset="0.204" stop-color="#c5f00e"/><stop offset="0.263" stop-color="#5ff755"/><stop offset="0.318" stop-color="#2df19a"/><stop offset="0.396" stop-color="#0cd6e1"/><stop offset="0.441" stop-color="#00a0ff"/><stop offset="0.500" stop-color="#0068ff"/><stop offset="0.537" stop-color="#0068ff"/><stop offset="0.582" stop-color="#00c8ff"/><stop offset="0.641" stop-color="#46fa6e"/><stop offset="0.926" stop-color="#46fa6e"/><stop offset="0.963" stop-color="#003cf8"/><stop offset="1.000" stop-color="#00006e"/></linearGradient>
<linearGradient id="g225" gradientUnits="userSpaceOnUse" x1="0" y1="191.17" x2="0" y2="218.17"><stop offset="0.000" stop-color="#00006e"/><stop offset="0.037" stop-color="#0014e8"/><stop offset="0.044" stop-color="#ff8200"/><stop offset="0.142" stop-color="#ff9e00"/><stop offset="0.200" stop-color="#c0f010"/><stop offset="0.258" stop-color="#5cf758"/><stop offset="0.311" stop-color="#2bf09c"/><stop offset="0.387" stop-color="#0bd5e3"/><stop offset="0.431" stop-color="#009fff"/><stop offset="0.489" stop-color="#0068ff"/><stop offset="0.526" stop-color="#0068ff"/><stop offset="0.570" stop-color="#00c8ff"/><stop offset="0.630" stop-color="#46fa6e"/><stop offset="0.926" stop-color="#46fa6e"/><stop offset="0.963" stop-color="#003cf8"/><stop offset="1.000" stop-color="#00006e"/></linearGradient>
<linearGradient id="g226" gradientUnits="userSpaceOnUse" x1="0" y1="191.16" x2="0" y2="218.16"><stop offset="0.000" stop-color="#00006e"/><stop offset="0.037" stop-color="#0014e8"/><stop offset="0.044" stop-color="#ff9b00"/><stop offset="0.140" stop-color="#fcb100"/><stop offset="0.196" stop-color="#b1f015"/><stop offset="0.253" stop-color="#52f862"/><stop offset="0.305" stop-color="#27eea5"/><stop offset="0.379" stop-color="#09d3e7"/><stop offset="0.422" stop-color="#009dff"/><stop offset="0.478" stop-color="#0068ff"/><stop offset="0.515" stop-color="#0068ff"/><stop offset="0.560" stop-color="#00c8ff"/><stop offset="0.619" stop-color="#46fa6e"/><stop offset="0.926" stop-color="#46fa6e"/><stop offset="0.963" stop-color="#003cf8"/><stop offset="1.000" stop-color="#00006e"/></linearGradient>
<linearGradient id="g227" gradientUnits="userSpaceOnUse" x1="0" y1="191.16" x2="0" y2="218.16"><stop offset="0.000" stop-color="#00006e"/><stop offset="0.037" stop-color="#0014e8"/><stop offset="0.044" stop-color="#fcb000"/><stop offset="0.138" stop-color="#f8c400"/><stop offset="0.193" stop-color="#a2f01a"/><stop offset="0.248" stop-color="#49fa6b"/><stop offset="0.298" stop-color="#22edad"/><stop offset="0.370" stop-color="#08d1ec"/><stop offset="0.413" stop-color="#009aff"/><stop offset="0.468" stop-color="#0068ff"/><stop offset="0.505" stop-color="#0068ff"/><stop offset="0.549" stop-color="#00c8ff"/><stop offset="0.608" stop-color="#46fa6e"/><stop offset="0.926" stop-color="#46fa6e"/><stop offset="0.963" stop-color="#003cf8"/><stop offset="1.000" stop-color="#00006e"/></linearGradient>
<linearGradient id="g228" gradientUnits="userSpaceOnUse" x1="0" y1="191.16" x2="0" y2="218.16"><stop offset="0.000" stop-color="#00006e"/><stop offset="0.037" stop-color="#0014e8"/><stop offset="0.044" stop-color="#f8c400"/><stop offset="0.135" stop-color="#f5d700"/><stop offset="0.189" stop-color="#93f021"/><stop offset="0.243" stop-color="#42f875"/><stop offset="0.292" stop-color="#1eebb5"/><stop offset="0.362" stop-color="#06cff1"/><stop offset="0.403" stop-color="#0098ff"/><stop offset="0.457" stop-color="#0068ff"/><stop offset="0.494" stop-color="#0068ff"/><stop offset="0.539" stop-color="#00c8ff"/><stop offset="0.598" stop-color="#46fa6e"/><stop offset="0.926" stop-color="#46fa6e"/><stop offset="0.963" stop-color="#003cf8"/><stop offset="1.000" stop-color="#00006e"/></linearGradient>
<linearGradient id="g229" gradientUnits="userSpaceOnUse" x1="0" y1="191.15" x2="0" y2="218.15"><stop offset="0.000" stop-color="#00006e"/><stop offset="0.037" stop-color="#0014e8"/><stop offset="0.044" stop-color="#f4d800"/><stop offset="0.133" stop-color="#f1ea00"/><stop offset="0.185" stop-color="#85f22f"/><stop offset="0.237" stop-color="#3bf681"/><stop offset="0.286" stop-color="#1be7bd"/><stop offset="0.354" stop-color="#04cdf5"/><stop offset="0.394" stop-color="#0095ff"/><stop offset="0.447" stop-color="#0068ff"/><stop offset="0.484" stop-color="#0068ff"/><stop offset="0.528" stop-color="#00c8ff"/><stop offset="0.587" stop-color="#46fa6e"/><stop offset="0.926" stop-color="#46fa6e"/><stop offset="0.963" stop-color="#003cf8"/><stop offset="1.000" stop-color="#00006e"/></linearGradient>
<linearGradient id="g230" gradientUnits="userSpaceOnUse" x1="0" y1="191.15" x2="0" y2="218.15"><stop offset="0.000" stop-color="#00006e"/><stop offset="0.037" stop-color="#0014e8"/><stop offset="0.044" stop-color="#f1eb00"/><stop offset="0.131" stop-color="#e2f005"/><stop offset="0.181" stop-color="#78f43c"/><stop offset="0.232" stop-color="#35f48c"/><stop offset="0.279" stop-color="#18e4c4"/><stop offset="0.346" stop-color="#02cbfa"/><stop offset="0.385" stop-color="#0093ff"/><stop offset="0.436" stop-color="#0068ff"/><stop offset="0.473" stop-color="#0068ff"/><stop offset="0.517" stop-color="#00c8ff"/><stop offset="0.577" stop-color="#46fa6e"/><stop offset="0.926" stop-color="#46fa6e"/><stop offset="0.963" stop-color="#003cf8"/><stop offset="1.000" stop-color="#00006e"/></linearGradient>
<linearGradient id="g231" gradientUnits="userSpaceOnUse" x1="0" y1="191.14" x2="0" y2="218.14"><stop offset="0.000" stop-color="#00006e"/><stop offset="0.037" stop-color="#0014e8"/><stop offset="0.044" stop-color="#e0f005"/><stop offset="0.127" stop-color="#cef00b"/><stop offset="0.176" stop-color="#6cf548"/><stop offset="0.224" stop-color="#2ff197"/><stop offset="0.269" stop-color="#15e0cb"/><stop offset="0.333" stop-color="#00c8fe"/><stop offset="0.370" stop-color="#0091ff"/><stop offset="0.419" stop-color="#0068ff"/><stop offset="0.456" stop-color="#0068ff"/><stop offset="0.501" stop-color="#00c8ff"/><stop offset="0.560" stop-color="#46fa6e"/><stop offset="0.926" stop-color="#46fa6e"/><stop offset="0.963" stop-color="#003cf8"/><stop offset="1.000" stop-color="#00006e"/></linearGradient>
<linearGradient id="g232" gradientUnits="userSpaceOnUse" x1="0" y1="191.14" x2="0" y2="218.14"><stop offset="0.000" stop-color="#00006e"/><stop offset="0.037" stop-color="#0014e8"/><stop offset="0.044" stop-color="#caf00d"/><stop offset="0.123" stop-color="#b9f012"/><stop offset="0.169" stop-color="#5ff755"/><stop offset="0.215" stop-color="#28efa2"/><stop offset="0.258" stop-color="#12ddd3"/><stop offset="0.318" stop-color="#00c4ff"/><stop offset="0.354" stop-color="#008eff"/><stop offset="0.400" stop-color="#0068ff"/><stop offset="0.437" stop-color="#0068ff"/><stop offset="0.481" stop-color="#00c8ff"/><stop offset="0.541" stop-color="#46fa6e"/><stop offset="0.926" stop-color="#46fa6e"/><stop offset="0.963" stop-color="#003cf8"/><stop offset="1.000" stop-color="#00006e"/></linearGradient>
<linearGradient id="g233" gradientUnits="userSpaceOnUse" x1="0" y1="191.13" x2="0" y2="218.13"><stop offset="0.000" stop-color="#00006e"/><stop offset="0.037" stop-color="#0014e8"/><stop offset="0.044" stop-color="#b5f014"/><stop offset="0.118" stop-color="#a4f019"/><stop offset="0.162" stop-color="#52f962"/><stop offset="0.206" stop-color="#22edad"/><stop offset="0.246" stop-color="#0fd9da"/><stop offset="0.304" stop-color="#00beff"/><stop offset="0.337" stop-color="#008cff"/><stop offset="0.381" stop-color="#0068ff"/><stop offset="0.418" stop-color="#0068ff"/><stop offset="0.462" stop-color="#00c8ff"/><stop offset="0.522" stop-color="#46fa6e"/><stop offset="0.926" stop-color="#46fa6e"/><stop offset="0.963" stop-color="#003cf8"/><stop offset="1.000" stop-color="#00006e"/></linearGradient>
<linearGradient id="g234" gradientUnits="userSpaceOnUse" x1="0" y1="191.13" x2="0" y2="218.13"><stop offset="0.000" stop-color="#00006e"/><stop offset="0.037" stop-color="#0014e8"/><stop offset="0.044" stop-color="#9ff01b"/><stop offset="0.114" stop-color="#91f123"/><stop offset="0.156" stop-color="#45fa6f"/><stop offset="0.197" stop-color="#1de9b8"/><stop offset="0.235" stop-color="#0cd6e1"/><stop offset="0.289" stop-color="#00b8ff"/><stop offset="0.321" stop-color="#0089ff"/><stop offset="0.362" stop-color="#0068ff"/><stop offset="0.399" stop-color="#0068ff"/><stop offset="0.443" stop-color="#00c8ff"/><stop offset="0.503" stop-color="#46fa6e"/><stop offset="0.926" stop-color="#46fa6e"/><stop offset="0.963" stop-color="#003cf8"/><stop offset="1.000" stop-color="#00006e"/></linearGradient>
<linearGradient id="g235" gradientUnits="userSpaceOnUse" x1="0" y1="191.13" x2="0" y2="218.13"><stop offset="0.000" stop-color="#00006e"/><stop offset="0.037" stop-color="#0014e8"/><stop offset="0.044" stop-color="#91f123"/><stop offset="0.110" stop-color="#84f230"/><stop offset="0.149" stop-color="#3ff77a"/><stop offset="0.188" stop-color="#1ae6bf"/><stop offset="0.223" stop-color="#0ad3e6"/><stop offset="0.274" stop-color="#00b4ff"/><stop offset="0.304" stop-color="#0088ff"/><stop offset="0.343" stop-color="#0068ff"/><stop offset="0.380" stop-color="#0068ff"/><stop offset="0.424" stop-color="#00c8ff"/><stop offset="0.484" stop-color="#46fa6e"/><stop offset="0.926" stop-color="#46fa6e"/><stop offset="0.963" stop-color="#003cf8"/><stop offset="1.000" stop-color="#00006e"/></linearGradient>
<linearGradient id="g236" gradientUnits="userSpaceOnUse" x1="0" y1="191.12" x2="0" y2="218.12"><stop offset="0.000" stop-color="#00006e"/><stop offset="0.037" stop-color="#0014e8"/><stop offset="0.044" stop-color="#84f230"/><stop offset="0.106" stop-color="#78f43c"/><stop offset="0.143" stop-color="#39f585"/><stop offset="0.179" stop-color="#17e3c5"/><stop offset="0.213" stop-color="#08d1eb"/><stop offset="0.260" stop-color="#00b1ff"/><stop offset="0.288" stop-color="#0086ff"/><stop offset="0.325" stop-color="#0068ff"/><stop offset="0.362" stop-color="#0068ff"/><stop offset="0.406" stop-color="#00c8ff"/><stop offset="0.466" stop-color="#46fa6e"/><stop offset="0.926" stop-color="#46fa6e"/><stop offset="0.963" stop-color="#003cf8"/><stop offset="1.000" stop-color="#00006e"/></linearGradient>
<linearGradient id="g237" gradientUnits="userSpaceOnUse" x1="0" y1="191.12" x2="0" y2="218.12"><stop offset="0.000" stop-color="#00006e"/><stop offset="0.037" stop-color="#0014e8"/><stop offset="0.044" stop-color="#78f43c"/><stop offset="0.102" stop-color="#6cf548"/><stop offset="0.137" stop-color="#33f390"/><stop offset="0.171" stop-color="#14e0cc"/><stop offset="0.202" stop-color="#06cff0"/><stop offset="0.247" stop-color="#00adff"/><stop offset="0.274" stop-color="#0085ff"/><stop offset="0.308" stop-color="#0068ff"/><stop offset="0.345" stop-color="#0068ff"/><stop offset="0.389" stop-color="#00c8ff"/><stop offset="0.449" stop-color="#46fa6e"/><stop offset="0.926" stop-color="#46fa6e"/><stop offset="0.963" stop-color="#003cf8"/><stop offset="1.000" stop-color="#00006e"/></linearGradient>
<linearGradient id="g238" gradientUnits="userSpaceOnUse" x1="0" y1="191.11" x2="0" y2="218.11"><stop offset="0.000" stop-color="#00006e"/><stop offset="0.037" stop-color="#0014e8"/><stop offset="0.044" stop-color="#6bf549"/><stop offset="0.099" stop-color="#60f754"/><stop offset="0.131" stop-color="#2df09a"/><stop offset="0.163" stop-color="#12dcd3"/><stop offset="0.192" stop-color="#04cdf5"/><stop offset="0.234" stop-color="#00a9ff"/><stop offset="0.259" stop-color="#0083ff"/><stop offset="0.291" stop-color="#0068ff"/><stop offset="0.328" stop-color="#0068ff"/><stop offset="0.372" stop-color="#00c8ff"/><stop offset="0.431" stop-color="#46fa6e"/><stop offset="0.926" stop-color="#46fa6e"/><stop offset="0.963" stop-color="#003cf8"/><stop offset="1.000" stop-color="#00006e"/></linearGradient>
<linearGradient id="g239" gradientUnits="userSpaceOnUse" x1="0" y1="191.11" x2="0" y2="218.11"><stop offset="0.000" stop-color="#00006e"/><stop offset="0.037" stop-color="#0014e8"/><stop offset="0.044" stop-color="#5ef756"/><stop offset="0.095" stop-color="#54f860"/><stop offset="0.125" stop-color="#26eea5"/><stop offset="0.154" stop-color="#0fd9da"/><stop offset="0.182" stop-color="#02cafa"/><stop offset="0.221" stop-color="#00a5ff"/><stop offset="0.244" stop-color="#0082ff"/><stop offset="0.274" stop-color="#0068ff"/><stop offset="0.311" stop-color="#0068ff"/><stop offset="0.355" stop-color="#00c8ff"/><stop offset="0.414" stop-color="#46fa6e"/><stop offset="0.926" stop-color="#46fa6e"/><stop offset="0.963" stop-color="#003cf8"/><stop offset="1.000" stop-color="#00006e"/></linearGradient>
<linearGradient id="g240" gradientUnits="userSpaceOnUse" x1="0" y1="191.10" x2="0" y2="218.10"><stop offset="0.000" stop-color="#00006e"/><stop offset="0.037" stop-color="#0014e8"/><stop offset="0.044" stop-color="#5bf759"/><stop offset="0.091" stop-color="#51f963"/><stop offset="0.119" stop-color="#25eea8"/><stop offset="0.146" stop-color="#0ed8dc"/><stop offset="0.172" stop-color="#01cafb"/><stop offset="0.208" stop-color="#00a4ff"/><stop offset="0.229" stop-color="#0081ff"/><stop offset="0.257" stop-color="#0068ff"/><stop offset="0.294" stop-color="#0068ff"/><stop offset="0.338" stop-color="#00c8ff"/><stop offset="0.397" stop-color="#46fa6e"/><stop offset="0.926" stop-color="#46fa6e"/><stop offset="0.963" stop-color="#003cf8"/><stop offset="1.000" stop-color="#00006e"/></linearGradient>
<linearGradient id="g241" gradientUnits="userSpaceOnUse" x1="0" y1="191.10" x2="0" y2="218.10"><stop offset="0.000" stop-color="#00006e"/><stop offset="0.037" stop-color="#0014e8"/><stop offset="0.044" stop-color="#58f85c"/><stop offset="0.087" stop-color="#4ef966"/><stop offset="0.112" stop-color="#23edab"/><stop offset="0.137" stop-color="#0dd8de"/><stop offset="0.161" stop-color="#01c9fd"/><stop offset="0.194" stop-color="#00a3ff"/><stop offset="0.213" stop-color="#0081ff"/><stop offset="0.238" stop-color="#0068ff"/><stop offset="0.275" stop-color="#0068ff"/><stop offset="0.320" stop-color="#00c8ff"/><stop offset="0.379" stop-color="#46fa6e"/><stop offset="0.926" stop-color="#46fa6e"/><stop offset="0.963" stop-color="#003cf8"/><stop offset="1.000" stop-color="#00006e"/></linearGradient>
<linearGradient id="g242" gradientUnits="userSpaceOnUse" x1="0" y1="191.10" x2="0" y2="218.10"><stop offset="0.000" stop-color="#00006e"/><stop offset="0.037" stop-color="#0014e8"/><stop offset="0.044" stop-color="#54f860"/><stop offset="0.083" stop-color="#4bf969"/><stop offset="0.105" stop-color="#22ecad"/><stop offset="0.128" stop-color="#0dd7df"/><stop offset="0.148" stop-color="#00c9fe"/><stop offset="0.178" stop-color="#00a3ff"/><stop offset="0.195" stop-color="#0080ff"/><stop offset="0.218" stop-color="#0068ff"/><stop offset="0.255" stop-color="#0068ff"/><stop offset="0.299" stop-color="#00c8ff"/><stop offset="0.359" stop-color="#46fa6e"/><stop offset="0.926" stop-color="#46fa6e"/><stop offset="0.963" stop-color="#003cf8"/><stop offset="1.000" stop-color="#00006e"/></linearGradient>
<linearGradient id="g243" gradientUnits="userSpaceOnUse" x1="0" y1="191.09" x2="0" y2="218.09"><stop offset="0.000" stop-color="#00006e"/><stop offset="0.037" stop-color="#0014e8"/><stop offset="0.044" stop-color="#51f963"/><stop offset="0.078" stop-color="#48fa6c"/><stop offset="0.098" stop-color="#20ecb0"/><stop offset="0.118" stop-color="#0cd6e1"/><stop offset="0.136" stop-color="#00c8ff"/><stop offset="0.162" stop-color="#00a2ff"/><stop offset="0.178" stop-color="#0080ff"/><stop offset="0.198" stop-color="#0068ff"/><stop offset="0.235" stop-color="#0068ff"/><stop offset="0.279" stop-color="#00c8ff"/><stop offset="0.338" stop-color="#46fa6e"/><stop offset="0.926" stop-color="#46fa6e"/><stop offset="0.963" stop-color="#003cf8"/><stop offset="1.000" stop-color="#00006e"/></linearGradient>
<linearGradient id="g244" gradientUnits="userSpaceOnUse" x1="0" y1="191.09" x2="0" y2="218.09"><stop offset="0.000" stop-color="#00006e"/><stop offset="0.037" stop-color="#0014e8"/><stop offset="0.044" stop-color="#4ef966"/><stop offset="0.074" stop-color="#45fa70"/><stop offset="0.091" stop-color="#1febb3"/><stop offset="0.108" stop-color="#0bd5e3"/><stop offset="0.124" stop-color="#00c6ff"/><stop offset="0.147" stop-color="#00a1ff"/><stop offset="0.160" stop-color="#0080ff"/><stop offset="0.177" stop-color="#0068ff"/><stop offset="0.214" stop-color="#0068ff"/><stop offset="0.259" stop-color="#00c8ff"/><stop offset="0.318" stop-color="#46fa6e"/><stop offset="0.926" stop-color="#46fa6e"/><stop offset="0.963" stop-color="#003cf8"/><stop offset="1.000" stop-color="#00006e"/></linearGradient>
<linearGradient id="g245" gradientUnits="userSpaceOnUse" x1="0" y1="191.08" x2="0" y2="218.08"><stop offset="0.000" stop-color="#00006e"/><stop offset="0.037" stop-color="#0014e8"/><stop offset="0.044" stop-color="#4bf969"/><stop offset="0.069" stop-color="#43f974"/><stop offset="0.084" stop-color="#1deab5"/><stop offset="0.099" stop-color="#0bd4e4"/><stop offset="0.112" stop-color="#00c5ff"/><stop offset="0.131" stop-color="#00a0ff"/><stop offset="0.143" stop-color="#007fff"/><stop offset="0.157" stop-color="#0068ff"/><stop offset="0.194" stop-color="#0068ff"/><stop offset="0.239" stop-color="#00c8ff"/><stop offset="0.298" stop-color="#46fa6e"/><stop offset="0.926" stop-color="#46fa6e"/><stop offset="0.963" stop-color="#003cf8"/><stop offset="1.000" stop-color="#00006e"/></linearGradient>
<linearGradient id="g246" gradientUnits="userSpaceOnUse" x1="0" y1="191.08" x2="0" y2="218.08"><stop offset="0.000" stop-color="#00006e"/><stop offset="0.037" stop-color="#0014e8"/><stop offset="0.044" stop-color="#48fa6c"/><stop offset="0.065" stop-color="#41f877"/><stop offset="0.077" stop-color="#1ce9b8"/><stop offset="0.089" stop-color="#0ad4e6"/><stop offset="0.100" stop-color="#00c3ff"/><stop offset="0.116" stop-color="#009fff"/><stop offset="0.125" stop-color="#007fff"/><stop offset="0.137" stop-color="#0068ff"/><stop offset="0.174" stop-color="#0068ff"/><stop offset="0.219" stop-color="#00c8ff"/><stop offset="0.278" stop-color="#46fa6e"/><stop offset="0.926" stop-color="#46fa6e"/><stop offset="0.963" stop-color="#003cf8"/><stop offset="1.000" stop-color="#00006e"/></linearGradient>
<linearGradient id="g247" gradientUnits="userSpaceOnUse" x1="0" y1="191.07" x2="0" y2="218.07"><stop offset="0.000" stop-color="#00006e"/><stop offset="0.037" stop-color="#0014e8"/><stop offset="0.044" stop-color="#45fa70"/><stop offset="0.062" stop-color="#3ff77b"/><stop offset="0.072" stop-color="#1ce8ba"/><stop offset="0.082" stop-color="#09d3e8"/><stop offset="0.091" stop-color="#00c2ff"/><stop offset="0.104" stop-color="#009eff"/><stop offset="0.112" stop-color="#007eff"/><stop offset="0.122" stop-color="#0068ff"/><stop offset="0.159" stop-color="#0068ff"/><stop offset="0.204" stop-color="#00c8ff"/><stop offset="0.263" stop-color="#46fa6e"/><stop offset="0.926" stop-color="#46fa6e"/><stop offset="0.963" stop-color="#003cf8"/><stop offset="1.000" stop-color="#00006e"/></linearGradient>
<linearGradient id="g248" gradientUnits="userSpaceOnUse" x1="0" y1="191.07" x2="0" y2="218.07"><stop offset="0.000" stop-color="#00006e"/><stop offset="0.037" stop-color="#0014e8"/><stop offset="0.044" stop-color="#43f973"/><stop offset="0.058" stop-color="#3df77e"/><stop offset="0.066" stop-color="#1be7bc"/><stop offset="0.075" stop-color="#09d2e9"/><stop offset="0.082" stop-color="#00c1ff"/><stop offset="0.093" stop-color="#009dff"/><stop offset="0.099" stop-color="#007eff"/><stop offset="0.107" stop-color="#0068ff"/><stop offset="0.144" stop-color="#0068ff"/><stop offset="0.189" stop-color="#00c8ff"/><stop offset="0.248" stop-color="#46fa6e"/><stop offset="0.926" stop-color="#46fa6e"/><stop offset="0.963" stop-color="#003cf8"/><stop offset="1.000" stop-color="#00006e"/></linearGradient>
<linearGradient id="g249" gradientUnits="userSpaceOnUse" x1="0" y1="191.07" x2="0" y2="218.07"><stop offset="0.000" stop-color="#00006e"/><stop offset="0.037" stop-color="#0014e8"/><stop offset="0.044" stop-color="#42f876"/><stop offset="0.055" stop-color="#3bf680"/><stop offset="0.061" stop-color="#1ae6be"/><stop offset="0.068" stop-color="#08d2ea"/><stop offset="0.073" stop-color="#00c0ff"/><stop offset="0.082" stop-color="#009dff"/><stop offset="0.086" stop-color="#007eff"/><stop offset="0.093" stop-color="#0068ff"/><stop offset="0.130" stop-color="#0068ff"/><stop offset="0.174" stop-color="#00c8ff"/><stop offset="0.233" stop-color="#46fa6e"/><stop offset="0.926" stop-color="#46fa6e"/><stop offset="0.963" stop-color="#003cf8"/><stop offset="1.000" stop-color="#00006e"/></linearGradient>
<linearGradient id="g250" gradientUnits="userSpaceOnUse" x1="0" y1="191.06" x2="0" y2="218.06"><stop offset="0.000" stop-color="#00006e"/><stop offset="0.037" stop-color="#0014e8"/><stop offset="0.059" stop-color="#3bf682"/><stop offset="0.926" stop-color="#46fa6e"/><stop offset="0.963" stop-color="#003cf8"/><stop offset="1.000" stop-color="#00006e"/></linearGradient>
<linearGradient id="g251" gradientUnits="userSpaceOnUse" x1="0" y1="191.06" x2="0" y2="218.06"><stop offset="0.000" stop-color="#00006e"/><stop offset="0.037" stop-color="#0014e8"/><stop offset="0.059" stop-color="#3bf682"/><stop offset="0.926" stop-color="#46fa6e"/><stop offset="0.963" stop-color="#003cf8"/><stop offset="1.000" stop-color="#00006e"/></linearGradient>
<linearGradient id="g252" gradientUnits="userSpaceOnUse" x1="0" y1="191.05" x2="0" y2="218.05"><stop offset="0.000" stop-color="#00006e"/><stop offset="0.037" stop-color="#0014e8"/><stop offset="0.059" stop-color="#3bf682"/><stop offset="0.926" stop-color="#46fa6e"/><stop offset="0.963" stop-color="#003cf8"/><stop offset="1.000" stop-color="#00006e"/></linearGradient>
<linearGradient id="g253" gradientUnits="userSpaceOnUse" x1="0" y1="191.05" x2="0" y2="218.05"><stop offset="0.000" stop-color="#00006e"/><stop offset="0.037" stop-color="#0014e8"/><stop offset="0.059" stop-color="#3bf682"/><stop offset="0.926" stop-color="#46fa6e"/><stop offset="0.963" stop-color="#003cf8"/><stop offset="1.000" stop-color="#00006e"/></linearGradient>
<linearGradient id="g254" gradientUnits="userSpaceOnUse" x1="0" y1="191.05" x2="0" y2="218.05"><stop offset="0.000" stop-color="#00006e"/><stop offset="0.037" stop-color="#0014e8"/><stop offset="0.059" stop-color="#3bf682"/><stop offset="0.926" stop-color="#46fa6e"/><stop offset="0.963" stop-color="#003cf8"/><stop offset="1.000" stop-color="#00006e"/></linearGradient>
<linearGradient id="g255" gradientUnits="userSpaceOnUse" x1="0" y1="191.04" x2="0" y2="218.04"><stop offset="0.000" stop-color="#00006e"/><stop offset="0.037" stop-color="#0014e8"/><stop offset="0.059" stop-color="#3bf682"/><stop offset="0.926" stop-color="#46fa6e"/><stop offset="0.963" stop-color="#003cf8"/><stop offset="1.000" stop-color="#00006e"/></linearGradient>
<linearGradient id="g256" gradientUnits="userSpaceOnUse" x1="0" y1="191.04" x2="0" y2="218.04"><stop offset="0.000" stop-color="#00006e"/><stop offset="0.037" stop-color="#0014e8"/><stop offset="0.059" stop-color="#3bf682"/><stop offset="0.926" stop-color="#46fa6e"/><stop offset="0.963" stop-color="#003cf8"/><stop offset="1.000" stop-color="#00006e"/></linearGradient>
<linearGradient id="g257" gradientUnits="userSpaceOnUse" x1="0" y1="191.03" x2="0" y2="218.03"><stop offset="0.000" stop-color="#00006e"/><stop offset="0.037" stop-color="#0014e8"/><stop offset="0.059" stop-color="#3bf682"/><stop offset="0.926" stop-color="#46fa6e"/><stop offset="0.963" stop-color="#003cf8"/><stop offset="1.000" stop-color="#00006e"/></linearGradient>
<linearGradient id="g258" gradientUnits="userSpaceOnUse" x1="0" y1="191.03" x2="0" y2="218.03"><stop offset="0.000" stop-color="#00006e"/><stop offset="0.037" stop-color="#0014e8"/><stop offset="0.059" stop-color="#3bf682"/><stop offset="0.926" stop-color="#46fa6e"/><stop offset="0.963" stop-color="#003cf8"/><stop offset="1.000" stop-color="#00006e"/></linearGradient>
<linearGradient id="g259" gradientUnits="userSpaceOnUse" x1="0" y1="191.02" x2="0" y2="218.02"><stop offset="0.000" stop-color="#00006e"/><stop offset="0.037" stop-color="#0014e8"/><stop offset="0.059" stop-color="#3bf682"/><stop offset="0.926" stop-color="#46fa6e"/><stop offset="0.963" stop-color="#003cf8"/><stop offset="1.000" stop-color="#00006e"/></linearGradient>
<linearGradient id="g260" gradientUnits="userSpaceOnUse" x1="0" y1="191.02" x2="0" y2="218.02"><stop offset="0.000" stop-color="#00006e"/><stop offset="0.037" stop-color="#0014e8"/><stop offset="0.059" stop-color="#3bf682"/><stop offset="0.926" stop-color="#46fa6e"/><stop offset="0.963" stop-color="#003cf8"/><stop offset="1.000" stop-color="#00006e"/></linearGradient>
<linearGradient id="g261" gradientUnits="userSpaceOnUse" x1="0" y1="191.02" x2="0" y2="218.02"><stop offset="0.000" stop-color="#00006e"/><stop offset="0.037" stop-color="#0014e8"/><stop offset="0.059" stop-color="#3bf682"/><stop offset="0.926" stop-color="#46fa6e"/><stop offset="0.963" stop-color="#003cf8"/><stop offset="1.000" stop-color="#00006e"/></linearGradient>
<linearGradient id="g262" gradientUnits="userSpaceOnUse" x1="0" y1="191.01" x2="0" y2="218.01"><stop offset="0.000" stop-color="#00006e"/><stop offset="0.037" stop-color="#0014e8"/><stop offset="0.059" stop-color="#3bf682"/><stop offset="0.926" stop-color="#46fa6e"/><stop offset="0.963" stop-color="#003cf8"/><stop offset="1.000" stop-color="#00006e"/></linearGradient>
<linearGradient id="g263" gradientUnits="userSpaceOnUse" x1="0" y1="191.01" x2="0" y2="218.01"><stop offset="0.000" stop-color="#00006e"/><stop offset="0.037" stop-color="#0014e8"/><stop offset="0.059" stop-color="#3bf682"/><stop offset="0.926" stop-color="#46fa6e"/><stop offset="0.963" stop-color="#003cf8"/><stop offset="1.000" stop-color="#00006e"/></linearGradient>
<linearGradient id="g264" gradientUnits="userSpaceOnUse" x1="0" y1="191.00" x2="0" y2="218.00"><stop offset="0.000" stop-color="#00006e"/><stop offset="0.037" stop-color="#0014e8"/><stop offset="0.059" stop-color="#3bf682"/><stop offset="0.926" stop-color="#46fa6e"/><stop offset="0.963" stop-color="#003cf8"/><stop offset="1.000" stop-color="#00006e"/></linearGradient>
<linearGradient id="g265" gradientUnits="userSpaceOnUse" x1="0" y1="191.00" x2="0" y2="218.00"><stop offset="0.000" stop-color="#00006e"/><stop offset="0.037" stop-color="#0014e8"/><stop offset="0.059" stop-color="#3bf682"/><stop offset="0.926" stop-color="#46fa6e"/><stop offset="0.963" stop-color="#003cf8"/><stop offset="1.000" stop-color="#00006e"/></linearGradient>
<clipPath id="cc"><polygon points="24.8,306.0 25.3,307.3 26.3,309.3 27.3,310.9 28.3,312.7 29.3,314.4 30.3,314.4 31.3,315.2 32.3,316.0 33.3,316.0 34.3,316.8 35.3,317.3 36.3,317.9 37.3,317.1 38.3,317.7 39.3,317.7 40.3,319.1 41.3,319.2 42.3,318.5 43.3,320.3 44.3,320.6 45.3,320.4 46.3,320.6 47.3,320.2 48.3,320.2 49.3,321.4 50.3,320.9 51.3,321.3 52.3,321.5 53.3,321.3 54.3,322.1 55.3,322.3 56.3,323.1 57.3,322.7 58.3,323.0 59.3,323.0 60.3,323.4 61.3,323.1 62.3,323.0 63.3,324.2 64.3,324.4 65.3,324.3 66.3,324.3 67.3,323.8 68.3,323.9 69.3,324.1 70.3,323.9 71.3,325.2 72.3,324.7 73.3,325.6 74.3,325.0 75.3,326.0 76.3,326.0 77.3,324.7 78.3,325.1 79.3,326.3 80.3,325.6 81.3,326.5 82.3,325.6 83.3,325.2 84.3,326.1 85.3,326.4 86.3,325.7 87.3,325.4 88.3,325.9 89.3,326.9 90.3,326.7 91.3,325.7 92.3,325.9 93.3,325.8 94.3,325.8 95.3,327.0 96.3,326.1 97.3,326.7 98.3,326.6 99.3,326.2 100.3,327.1 101.3,326.2 102.3,327.1 103.3,326.3 104.3,326.8 105.3,326.5 106.3,326.7 107.3,327.8 108.3,327.6 109.3,326.8 110.3,327.8 111.3,326.8 112.3,327.1 113.3,327.9 114.3,327.6 115.3,326.8 116.3,328.2 117.3,327.0 118.3,327.1 119.3,328.0 120.3,327.3 121.3,327.2 122.3,326.9 123.3,326.9 124.3,327.7 125.3,327.2 126.3,327.8 127.3,327.4 128.3,327.6 129.3,328.4 130.3,327.7 131.3,327.8 132.3,328.3 133.3,327.2 134.3,327.2 135.3,328.4 136.3,328.3 137.3,327.4 138.3,327.3 139.3,328.2 140.3,328.6 141.3,327.4 142.3,328.6 143.3,328.5 144.3,328.1 145.3,327.8 146.3,327.3 147.3,327.2 148.3,328.7 149.3,327.6 150.3,328.3 151.3,327.6 152.3,328.5 153.3,328.1 154.3,327.6 155.3,327.4 156.3,328.2 157.3,327.2 158.3,327.4 159.3,327.9 160.3,328.4 161.3,328.0 162.3,327.4 163.3,328.4 164.3,327.3 165.3,326.9 166.3,327.3 167.3,327.6 168.3,326.9 169.3,327.1 170.3,327.4 171.3,327.7 172.3,327.0 173.3,327.3 174.3,328.1 175.3,328.2 176.3,327.7 177.3,327.7 178.3,327.5 179.3,326.7 180.3,326.5 181.3,326.5 182.3,327.9 183.3,327.5 184.3,327.9 185.3,326.3 186.3,327.3 187.3,327.0 188.3,327.4 189.3,326.7 190.3,327.7 191.3,326.2 192.3,326.9 193.3,327.1 194.3,327.3 195.3,327.0 196.3,326.9 197.3,326.9 198.3,327.1 199.3,326.1 200.3,326.6 201.3,326.8 202.3,326.7 203.3,325.9 204.3,326.4 205.3,326.5 206.3,325.9 207.3,326.0 208.3,325.5 209.3,325.7 210.3,325.7 211.3,324.8 212.3,325.6 213.3,326.1 214.3,325.9 215.3,325.5 216.3,324.8 217.3,325.2 218.3,324.8 219.3,324.5 220.3,325.0 221.3,323.6 222.3,324.5 223.3,323.2 224.3,324.0 225.3,323.6 226.3,323.1 227.3,323.7 228.3,323.2 229.3,323.3 230.3,323.6 231.3,322.4 232.3,321.8 233.3,322.1 234.3,322.5 235.3,321.6 236.3,321.3 237.3,322.3 238.3,321.7 239.3,321.1 240.3,321.6 241.3,320.5 242.3,320.9 243.3,320.0 244.3,320.2 245.3,320.7 246.3,320.7 247.3,320.5 248.3,319.6 249.3,319.7 250.3,319.1 251.3,318.6 252.3,318.9 253.3,319.2 254.3,319.0 255.3,318.6 256.3,318.7 257.3,317.3 258.3,316.8 259.3,316.9 260.3,316.3 261.3,315.8 262.3,315.8 263.3,315.8 264.3,315.0 265.3,314.2 266.3,314.6 267.3,314.3 268.3,312.6 269.3,311.0 270.3,309.8 271.3,308.5 272.3,306.8 272.8,306.0"/></clipPath>
<linearGradient id="g266" gradientUnits="userSpaceOnUse" x1="0" y1="306.20" x2="0" y2="332.40"><stop offset="0.000" stop-color="#00d1ff"/><stop offset="0.003" stop-color="#00cdff"/><stop offset="0.007" stop-color="#00b1ff"/><stop offset="0.009" stop-color="#009fff"/><stop offset="0.011" stop-color="#0088ff"/><stop offset="0.014" stop-color="#0077ff"/><stop offset="0.016" stop-color="#005cff"/><stop offset="0.018" stop-color="#004fff"/><stop offset="0.019" stop-color="#004dff"/><stop offset="0.021" stop-color="#004dff"/></linearGradient>
<linearGradient id="g267" gradientUnits="userSpaceOnUse" x1="0" y1="306.20" x2="0" y2="332.40"><stop offset="0.000" stop-color="#00eaff"/><stop offset="0.024" stop-color="#00e5ff"/><stop offset="0.057" stop-color="#00c4ff"/><stop offset="0.080" stop-color="#00aeff"/><stop offset="0.098" stop-color="#0093ff"/><stop offset="0.121" stop-color="#007fff"/><stop offset="0.138" stop-color="#005fff"/><stop offset="0.156" stop-color="#0050ff"/><stop offset="0.163" stop-color="#004dff"/><stop offset="0.179" stop-color="#004dff"/></linearGradient>
<linearGradient id="g268" gradientUnits="userSpaceOnUse" x1="0" y1="306.20" x2="0" y2="332.40"><stop offset="0.000" stop-color="#04fffb"/><stop offset="0.042" stop-color="#00fdff"/><stop offset="0.098" stop-color="#00d7ff"/><stop offset="0.137" stop-color="#00bdff"/><stop offset="0.168" stop-color="#009eff"/><stop offset="0.207" stop-color="#0087ff"/><stop offset="0.238" stop-color="#0062ff"/><stop offset="0.269" stop-color="#0050ff"/><stop offset="0.280" stop-color="#004dff"/><stop offset="0.308" stop-color="#004dff"/></linearGradient>
<linearGradient id="g269" gradientUnits="userSpaceOnUse" x1="0" y1="306.20" x2="0" y2="332.40"><stop offset="0.000" stop-color="#18ffe7"/><stop offset="0.050" stop-color="#12ffed"/><stop offset="0.117" stop-color="#00e6ff"/><stop offset="0.163" stop-color="#00caff"/><stop offset="0.200" stop-color="#00a8ff"/><stop offset="0.247" stop-color="#008dff"/><stop offset="0.283" stop-color="#0065ff"/><stop offset="0.320" stop-color="#0051ff"/><stop offset="0.333" stop-color="#004dff"/><stop offset="0.367" stop-color="#004dff"/></linearGradient>
<linearGradient id="g270" gradientUnits="userSpaceOnUse" x1="0" y1="306.20" x2="0" y2="332.40"><stop offset="0.000" stop-color="#28ffd7"/><stop offset="0.058" stop-color="#22ffdd"/><stop offset="0.135" stop-color="#00f3ff"/><stop offset="0.189" stop-color="#00d4ff"/><stop offset="0.232" stop-color="#00afff"/><stop offset="0.286" stop-color="#0093ff"/><stop offset="0.329" stop-color="#0067ff"/><stop offset="0.371" stop-color="#0051ff"/><stop offset="0.387" stop-color="#004dff"/><stop offset="0.425" stop-color="#004dff"/></linearGradient>
<linearGradient id="g271" gradientUnits="userSpaceOnUse" x1="0" y1="306.20" x2="0" y2="332.40"><stop offset="0.000" stop-color="#39ffc6"/><stop offset="0.062" stop-color="#32ffcd"/><stop offset="0.144" stop-color="#00ffff"/><stop offset="0.202" stop-color="#00deff"/><stop offset="0.247" stop-color="#00b6ff"/><stop offset="0.305" stop-color="#0098ff"/><stop offset="0.351" stop-color="#0069ff"/><stop offset="0.396" stop-color="#0051ff"/><stop offset="0.412" stop-color="#004dff"/><stop offset="0.454" stop-color="#004dff"/></linearGradient>
<linearGradient id="g272" gradientUnits="userSpaceOnUse" x1="0" y1="306.20" x2="0" y2="332.40"><stop offset="0.000" stop-color="#49ffb6"/><stop offset="0.066" stop-color="#42ffbd"/><stop offset="0.153" stop-color="#0dfff2"/><stop offset="0.214" stop-color="#00e9ff"/><stop offset="0.262" stop-color="#00beff"/><stop offset="0.323" stop-color="#009dff"/><stop offset="0.371" stop-color="#006bff"/><stop offset="0.419" stop-color="#0052ff"/><stop offset="0.437" stop-color="#004dff"/><stop offset="0.480" stop-color="#004dff"/></linearGradient>
<linearGradient id="g273" gradientUnits="userSpaceOnUse" x1="0" y1="306.20" x2="0" y2="332.40"><stop offset="0.000" stop-color="#5affa5"/><stop offset="0.069" stop-color="#52ffad"/><stop offset="0.161" stop-color="#1affe5"/><stop offset="0.225" stop-color="#00f3ff"/><stop offset="0.276" stop-color="#00c5ff"/><stop offset="0.340" stop-color="#00a2ff"/><stop offset="0.391" stop-color="#006dff"/><stop offset="0.441" stop-color="#0052ff"/><stop offset="0.460" stop-color="#004dff"/><stop offset="0.506" stop-color="#004dff"/></linearGradient>
<linearGradient id="g274" gradientUnits="userSpaceOnUse" x1="0" y1="306.20" x2="0" y2="332.40"><stop offset="0.000" stop-color="#6aff95"/><stop offset="0.072" stop-color="#62ff9d"/><stop offset="0.169" stop-color="#26ffd9"/><stop offset="0.236" stop-color="#00fdff"/><stop offset="0.289" stop-color="#00cdff"/><stop offset="0.357" stop-color="#00a8ff"/><stop offset="0.410" stop-color="#006fff"/><stop offset="0.463" stop-color="#0052ff"/><stop offset="0.482" stop-color="#004dff"/><stop offset="0.530" stop-color="#004dff"/></linearGradient>
<linearGradient id="g275" gradientUnits="userSpaceOnUse" x1="0" y1="306.20" x2="0" y2="332.40"><stop offset="0.000" stop-color="#7bff84"/><stop offset="0.076" stop-color="#72ff8d"/><stop offset="0.177" stop-color="#33ffcc"/><stop offset="0.247" stop-color="#08fff7"/><stop offset="0.303" stop-color="#00d4ff"/><stop offset="0.374" stop-color="#00adff"/><stop offset="0.429" stop-color="#0071ff"/><stop offset="0.485" stop-color="#0053ff"/><stop offset="0.505" stop-color="#004dff"/><stop offset="0.555" stop-color="#004dff"/></linearGradient>
<linearGradient id="g276" gradientUnits="userSpaceOnUse" x1="0" y1="306.20" x2="0" y2="332.40"><stop offset="0.000" stop-color="#8bff74"/><stop offset="0.079" stop-color="#82ff7d"/><stop offset="0.185" stop-color="#3fffc0"/><stop offset="0.258" stop-color="#13ffec"/><stop offset="0.316" stop-color="#00dcff"/><stop offset="0.390" stop-color="#00b2ff"/><stop offset="0.448" stop-color="#0073ff"/><stop offset="0.506" stop-color="#0053ff"/><stop offset="0.527" stop-color="#004dff"/><stop offset="0.580" stop-color="#004dff"/></linearGradient>
<linearGradient id="g277" gradientUnits="userSpaceOnUse" x1="0" y1="306.20" x2="0" y2="332.40"><stop offset="0.000" stop-color="#9cff63"/><stop offset="0.083" stop-color="#92ff6d"/><stop offset="0.193" stop-color="#4cffb3"/><stop offset="0.270" stop-color="#1dffe2"/><stop offset="0.330" stop-color="#00e3ff"/><stop offset="0.407" stop-color="#00b8ff"/><stop offset="0.468" stop-color="#0075ff"/><stop offset="0.528" stop-color="#0053ff"/><stop offset="0.550" stop-color="#004dff"/><stop offset="0.605" stop-color="#004dff"/></linearGradient>
<linearGradient id="g278" gradientUnits="userSpaceOnUse" x1="0" y1="306.20" x2="0" y2="332.40"><stop offset="0.000" stop-color="#acff53"/><stop offset="0.086" stop-color="#a2ff5d"/><stop offset="0.201" stop-color="#58ffa7"/><stop offset="0.281" stop-color="#27ffd8"/><stop offset="0.344" stop-color="#00eaff"/><stop offset="0.424" stop-color="#00bdff"/><stop offset="0.487" stop-color="#0077ff"/><stop offset="0.550" stop-color="#0054ff"/><stop offset="0.573" stop-color="#004dff"/><stop offset="0.630" stop-color="#004dff"/></linearGradient>
<linearGradient id="g279" gradientUnits="userSpaceOnUse" x1="0" y1="306.20" x2="0" y2="332.40"><stop offset="0.000" stop-color="#bfff40"/><stop offset="0.089" stop-color="#b4ff4b"/><stop offset="0.208" stop-color="#66ff99"/><stop offset="0.291" stop-color="#32ffcd"/><stop offset="0.356" stop-color="#00f3ff"/><stop offset="0.439" stop-color="#00c3ff"/><stop offset="0.505" stop-color="#0079ff"/><stop offset="0.570" stop-color="#0054ff"/><stop offset="0.594" stop-color="#004dff"/><stop offset="0.653" stop-color="#004dff"/></linearGradient>
<linearGradient id="g280" gradientUnits="userSpaceOnUse" x1="0" y1="306.20" x2="0" y2="332.40"><stop offset="0.000" stop-color="#d2ff2d"/><stop offset="0.091" stop-color="#c6ff39"/><stop offset="0.211" stop-color="#75ff8a"/><stop offset="0.296" stop-color="#3effc1"/><stop offset="0.362" stop-color="#00fbff"/><stop offset="0.447" stop-color="#00c9ff"/><stop offset="0.513" stop-color="#007bff"/><stop offset="0.580" stop-color="#0054ff"/><stop offset="0.604" stop-color="#004dff"/><stop offset="0.665" stop-color="#004dff"/></linearGradient>
<linearGradient id="g281" gradientUnits="userSpaceOnUse" x1="0" y1="306.20" x2="0" y2="332.40"><stop offset="0.000" stop-color="#e5ff1a"/><stop offset="0.092" stop-color="#d9ff26"/><stop offset="0.215" stop-color="#83ff7c"/><stop offset="0.301" stop-color="#4affb5"/><stop offset="0.369" stop-color="#05fffa"/><stop offset="0.455" stop-color="#00cfff"/><stop offset="0.522" stop-color="#007dff"/><stop offset="0.590" stop-color="#0055ff"/><stop offset="0.615" stop-color="#004dff"/><stop offset="0.676" stop-color="#004dff"/></linearGradient>
<linearGradient id="g282" gradientUnits="userSpaceOnUse" x1="0" y1="306.20" x2="0" y2="332.40"><stop offset="0.000" stop-color="#f8ff07"/><stop offset="0.094" stop-color="#ecff13"/><stop offset="0.219" stop-color="#92ff6d"/><stop offset="0.307" stop-color="#56ffa9"/><stop offset="0.376" stop-color="#0efff1"/><stop offset="0.464" stop-color="#00d5ff"/><stop offset="0.533" stop-color="#0080ff"/><stop offset="0.602" stop-color="#0055ff"/><stop offset="0.627" stop-color="#004dff"/><stop offset="0.689" stop-color="#004dff"/></linearGradient>
<linearGradient id="g283" gradientUnits="userSpaceOnUse" x1="0" y1="306.20" x2="0" y2="332.40"><stop offset="0.000" stop-color="#fff500"/><stop offset="0.096" stop-color="#fcff03"/><stop offset="0.224" stop-color="#9fff60"/><stop offset="0.313" stop-color="#61ff9e"/><stop offset="0.383" stop-color="#15ffea"/><stop offset="0.473" stop-color="#00daff"/><stop offset="0.543" stop-color="#0082ff"/><stop offset="0.613" stop-color="#0055ff"/><stop offset="0.639" stop-color="#004dff"/><stop offset="0.703" stop-color="#004dff"/></linearGradient>
<linearGradient id="g284" gradientUnits="userSpaceOnUse" x1="0" y1="306.20" x2="0" y2="332.40"><stop offset="0.000" stop-color="#ffe400"/><stop offset="0.097" stop-color="#fff200"/><stop offset="0.227" stop-color="#abff54"/><stop offset="0.318" stop-color="#6bff94"/><stop offset="0.389" stop-color="#1dffe2"/><stop offset="0.480" stop-color="#00e0ff"/><stop offset="0.551" stop-color="#0084ff"/><stop offset="0.622" stop-color="#0056ff"/><stop offset="0.648" stop-color="#004dff"/><stop offset="0.713" stop-color="#004dff"/></linearGradient>
<linearGradient id="g285" gradientUnits="userSpaceOnUse" x1="0" y1="306.20" x2="0" y2="332.40"><stop offset="0.000" stop-color="#ffd400"/><stop offset="0.099" stop-color="#ffe200"/><stop offset="0.230" stop-color="#b8ff47"/><stop offset="0.322" stop-color="#75ff8a"/><stop offset="0.394" stop-color="#24ffdb"/><stop offset="0.486" stop-color="#00e5ff"/><stop offset="0.558" stop-color="#0086ff"/><stop offset="0.631" stop-color="#0056ff"/><stop offset="0.657" stop-color="#004dff"/><stop offset="0.723" stop-color="#004dff"/></linearGradient>
<linearGradient id="g286" gradientUnits="userSpaceOnUse" x1="0" y1="306.20" x2="0" y2="332.40"><stop offset="0.000" stop-color="#ffc500"/><stop offset="0.100" stop-color="#ffd400"/><stop offset="0.234" stop-color="#c3ff3c"/><stop offset="0.328" stop-color="#7eff81"/><stop offset="0.401" stop-color="#2bffd4"/><stop offset="0.495" stop-color="#00eaff"/><stop offset="0.568" stop-color="#0087ff"/><stop offset="0.642" stop-color="#0056ff"/><stop offset="0.669" stop-color="#004dff"/><stop offset="0.735" stop-color="#004dff"/></linearGradient>
<linearGradient id="g287" gradientUnits="userSpaceOnUse" x1="0" y1="306.20" x2="0" y2="332.40"><stop offset="0.000" stop-color="#ffbd00"/><stop offset="0.102" stop-color="#ffcc00"/><stop offset="0.239" stop-color="#c9ff36"/><stop offset="0.334" stop-color="#83ff7c"/><stop offset="0.410" stop-color="#2effd1"/><stop offset="0.505" stop-color="#00ecff"/><stop offset="0.580" stop-color="#0088ff"/><stop offset="0.655" stop-color="#0056ff"/><stop offset="0.683" stop-color="#004dff"/><stop offset="0.751" stop-color="#004dff"/></linearGradient>
<linearGradient id="g288" gradientUnits="userSpaceOnUse" x1="0" y1="306.20" x2="0" y2="332.40"><stop offset="0.000" stop-color="#ffb500"/><stop offset="0.104" stop-color="#ffc400"/><stop offset="0.243" stop-color="#cfff30"/><stop offset="0.341" stop-color="#88ff77"/><stop offset="0.417" stop-color="#32ffcd"/><stop offset="0.514" stop-color="#00efff"/><stop offset="0.591" stop-color="#0089ff"/><stop offset="0.667" stop-color="#0057ff"/><stop offset="0.695" stop-color="#004dff"/><stop offset="0.765" stop-color="#004dff"/></linearGradient>
<linearGradient id="g289" gradientUnits="userSpaceOnUse" x1="0" y1="306.20" x2="0" y2="332.40"><stop offset="0.000" stop-color="#ffac00"/><stop offset="0.106" stop-color="#ffbc00"/><stop offset="0.247" stop-color="#d6ff29"/><stop offset="0.346" stop-color="#8dff72"/><stop offset="0.423" stop-color="#36ffc9"/><stop offset="0.522" stop-color="#00f2ff"/><stop offset="0.600" stop-color="#008aff"/><stop offset="0.678" stop-color="#0057ff"/><stop offset="0.706" stop-color="#004dff"/><stop offset="0.776" stop-color="#004dff"/></linearGradient>
<linearGradient id="g290" gradientUnits="userSpaceOnUse" x1="0" y1="306.20" x2="0" y2="332.40"><stop offset="0.000" stop-color="#ffa400"/><stop offset="0.107" stop-color="#ffb400"/><stop offset="0.251" stop-color="#dcff23"/><stop offset="0.351" stop-color="#93ff6c"/><stop offset="0.430" stop-color="#39ffc6"/><stop offset="0.530" stop-color="#00f4ff"/><stop offset="0.609" stop-color="#008bff"/><stop offset="0.688" stop-color="#0057ff"/><stop offset="0.716" stop-color="#004dff"/><stop offset="0.788" stop-color="#004dff"/></linearGradient>
<linearGradient id="g291" gradientUnits="userSpaceOnUse" x1="0" y1="306.20" x2="0" y2="332.40"><stop offset="0.000" stop-color="#ff9d00"/><stop offset="0.109" stop-color="#ffad00"/><stop offset="0.254" stop-color="#e1ff1e"/><stop offset="0.356" stop-color="#97ff68"/><stop offset="0.436" stop-color="#3dffc2"/><stop offset="0.538" stop-color="#00f7ff"/><stop offset="0.618" stop-color="#008cff"/><stop offset="0.698" stop-color="#0057ff"/><stop offset="0.727" stop-color="#004dff"/><stop offset="0.799" stop-color="#004dff"/></linearGradient>
<linearGradient id="g292" gradientUnits="userSpaceOnUse" x1="0" y1="306.20" x2="0" y2="332.40"><stop offset="0.000" stop-color="#ff9900"/><stop offset="0.111" stop-color="#ffa900"/><stop offset="0.258" stop-color="#e5ff1a"/><stop offset="0.361" stop-color="#9aff65"/><stop offset="0.442" stop-color="#3fffc0"/><stop offset="0.545" stop-color="#00f8ff"/><stop offset="0.626" stop-color="#008dff"/><stop offset="0.707" stop-color="#0057ff"/><stop offset="0.737" stop-color="#004dff"/><stop offset="0.811" stop-color="#004dff"/></linearGradient>
<linearGradient id="g293" gradientUnits="userSpaceOnUse" x1="0" y1="306.20" x2="0" y2="332.40"><stop offset="0.000" stop-color="#ff9500"/><stop offset="0.111" stop-color="#ffa500"/><stop offset="0.259" stop-color="#e8ff17"/><stop offset="0.363" stop-color="#9cff63"/><stop offset="0.445" stop-color="#40ffbf"/><stop offset="0.548" stop-color="#00f9ff"/><stop offset="0.630" stop-color="#008dff"/><stop offset="0.711" stop-color="#0057ff"/><stop offset="0.741" stop-color="#004dff"/><stop offset="0.815" stop-color="#004dff"/></linearGradient>
<linearGradient id="g294" gradientUnits="userSpaceOnUse" x1="0" y1="306.20" x2="0" y2="332.40"><stop offset="0.000" stop-color="#ff9100"/><stop offset="0.112" stop-color="#ffa100"/><stop offset="0.261" stop-color="#ebff14"/><stop offset="0.365" stop-color="#9fff60"/><stop offset="0.447" stop-color="#42ffbd"/><stop offset="0.552" stop-color="#00fbff"/><stop offset="0.633" stop-color="#008eff"/><stop offset="0.715" stop-color="#0057ff"/><stop offset="0.745" stop-color="#004dff"/><stop offset="0.820" stop-color="#004dff"/></linearGradient>
<linearGradient id="g295" gradientUnits="userSpaceOnUse" x1="0" y1="306.20" x2="0" y2="332.40"><stop offset="0.000" stop-color="#ff8d00"/><stop offset="0.112" stop-color="#ff9d00"/><stop offset="0.262" stop-color="#eeff11"/><stop offset="0.367" stop-color="#a1ff5e"/><stop offset="0.450" stop-color="#44ffbb"/><stop offset="0.555" stop-color="#00fcff"/><stop offset="0.637" stop-color="#008eff"/><stop offset="0.720" stop-color="#0057ff"/><stop offset="0.750" stop-color="#004dff"/><stop offset="0.824" stop-color="#004dff"/></linearGradient>
<linearGradient id="g296" gradientUnits="userSpaceOnUse" x1="0" y1="306.20" x2="0" y2="332.40"><stop offset="0.000" stop-color="#ff8800"/><stop offset="0.113" stop-color="#ff9900"/><stop offset="0.264" stop-color="#f1ff0e"/><stop offset="0.369" stop-color="#a4ff5b"/><stop offset="0.452" stop-color="#46ffb9"/><stop offset="0.558" stop-color="#00fdff"/><stop offset="0.641" stop-color="#008fff"/><stop offset="0.724" stop-color="#0058ff"/><stop offset="0.754" stop-color="#004dff"/><stop offset="0.829" stop-color="#004dff"/></linearGradient>
<linearGradient id="g297" gradientUnits="userSpaceOnUse" x1="0" y1="306.20" x2="0" y2="332.40"><stop offset="0.000" stop-color="#ff8400"/><stop offset="0.114" stop-color="#ff9500"/><stop offset="0.265" stop-color="#f4ff0b"/><stop offset="0.371" stop-color="#a6ff59"/><stop offset="0.455" stop-color="#48ffb7"/><stop offset="0.561" stop-color="#00feff"/><stop offset="0.644" stop-color="#008fff"/><stop offset="0.728" stop-color="#0058ff"/><stop offset="0.758" stop-color="#004dff"/><stop offset="0.834" stop-color="#004dff"/></linearGradient>
<linearGradient id="g298" gradientUnits="userSpaceOnUse" x1="0" y1="306.20" x2="0" y2="332.40"><stop offset="0.000" stop-color="#ff8200"/><stop offset="0.114" stop-color="#ff9300"/><stop offset="0.267" stop-color="#f6ff09"/><stop offset="0.373" stop-color="#a8ff57"/><stop offset="0.457" stop-color="#49ffb6"/><stop offset="0.564" stop-color="#00ffff"/><stop offset="0.648" stop-color="#008fff"/><stop offset="0.732" stop-color="#0058ff"/><stop offset="0.762" stop-color="#004dff"/><stop offset="0.838" stop-color="#004dff"/></linearGradient>
<linearGradient id="g299" gradientUnits="userSpaceOnUse" x1="0" y1="306.20" x2="0" y2="332.40"><stop offset="0.000" stop-color="#ff8000"/><stop offset="0.115" stop-color="#ff9100"/><stop offset="0.268" stop-color="#f7ff08"/><stop offset="0.376" stop-color="#a9ff56"/><stop offset="0.460" stop-color="#4affb5"/><stop offset="0.567" stop-color="#01fffe"/><stop offset="0.651" stop-color="#0090ff"/><stop offset="0.736" stop-color="#0058ff"/><stop offset="0.766" stop-color="#004dff"/><stop offset="0.843" stop-color="#004dff"/></linearGradient>
<linearGradient id="g300" gradientUnits="userSpaceOnUse" x1="0" y1="306.20" x2="0" y2="332.40"><stop offset="0.000" stop-color="#ff7e00"/><stop offset="0.116" stop-color="#ff8f00"/><stop offset="0.270" stop-color="#f9ff06"/><stop offset="0.378" stop-color="#aaff55"/><stop offset="0.462" stop-color="#4bffb4"/><stop offset="0.570" stop-color="#01fffe"/><stop offset="0.655" stop-color="#0090ff"/><stop offset="0.740" stop-color="#0058ff"/><stop offset="0.771" stop-color="#004dff"/><stop offset="0.848" stop-color="#004dff"/></linearGradient>
<linearGradient id="g301" gradientUnits="userSpaceOnUse" x1="0" y1="306.20" x2="0" y2="332.40"><stop offset="0.000" stop-color="#ff7c00"/><stop offset="0.116" stop-color="#ff8d00"/><stop offset="0.271" stop-color="#faff05"/><stop offset="0.380" stop-color="#abff54"/><stop offset="0.465" stop-color="#4bffb4"/><stop offset="0.573" stop-color="#02fffd"/><stop offset="0.659" stop-color="#0090ff"/><stop offset="0.744" stop-color="#0058ff"/><stop offset="0.775" stop-color="#004dff"/><stop offset="0.852" stop-color="#004dff"/></linearGradient>
<linearGradient id="g302" gradientUnits="userSpaceOnUse" x1="0" y1="306.20" x2="0" y2="332.40"><stop offset="0.000" stop-color="#ff7a00"/><stop offset="0.117" stop-color="#ff8b00"/><stop offset="0.273" stop-color="#fcff03"/><stop offset="0.382" stop-color="#adff52"/><stop offset="0.467" stop-color="#4cffb3"/><stop offset="0.576" stop-color="#03fffc"/><stop offset="0.662" stop-color="#0090ff"/><stop offset="0.748" stop-color="#0058ff"/><stop offset="0.779" stop-color="#004dff"/><stop offset="0.857" stop-color="#004dff"/></linearGradient>
<linearGradient id="g303" gradientUnits="userSpaceOnUse" x1="0" y1="306.20" x2="0" y2="332.40"><stop offset="0.000" stop-color="#ff7800"/><stop offset="0.117" stop-color="#ff8900"/><stop offset="0.274" stop-color="#feff01"/><stop offset="0.383" stop-color="#aeff51"/><stop offset="0.469" stop-color="#4dffb2"/><stop offset="0.579" stop-color="#03fffc"/><stop offset="0.665" stop-color="#0091ff"/><stop offset="0.751" stop-color="#0058ff"/><stop offset="0.782" stop-color="#004dff"/><stop offset="0.861" stop-color="#004dff"/></linearGradient>
<linearGradient id="g304" gradientUnits="userSpaceOnUse" x1="0" y1="306.20" x2="0" y2="332.40"><stop offset="0.000" stop-color="#ff7600"/><stop offset="0.118" stop-color="#ff8700"/><stop offset="0.275" stop-color="#ffff00"/><stop offset="0.385" stop-color="#afff50"/><stop offset="0.471" stop-color="#4effb1"/><stop offset="0.581" stop-color="#04fffb"/><stop offset="0.668" stop-color="#0091ff"/><stop offset="0.754" stop-color="#0058ff"/><stop offset="0.786" stop-color="#004dff"/><stop offset="0.864" stop-color="#004dff"/></linearGradient>
<linearGradient id="g305" gradientUnits="userSpaceOnUse" x1="0" y1="306.20" x2="0" y2="332.40"><stop offset="0.000" stop-color="#ff7400"/><stop offset="0.118" stop-color="#ff8500"/><stop offset="0.276" stop-color="#fffd00"/><stop offset="0.387" stop-color="#b0ff4f"/><stop offset="0.473" stop-color="#4fffb0"/><stop offset="0.584" stop-color="#05fffa"/><stop offset="0.671" stop-color="#0091ff"/><stop offset="0.758" stop-color="#0058ff"/><stop offset="0.789" stop-color="#004dff"/><stop offset="0.868" stop-color="#004dff"/></linearGradient>
<linearGradient id="g306" gradientUnits="userSpaceOnUse" x1="0" y1="306.20" x2="0" y2="332.40"><stop offset="0.000" stop-color="#ff7200"/><stop offset="0.119" stop-color="#ff8300"/><stop offset="0.277" stop-color="#fffc00"/><stop offset="0.388" stop-color="#b2ff4d"/><stop offset="0.475" stop-color="#50ffaf"/><stop offset="0.586" stop-color="#05fffa"/><stop offset="0.674" stop-color="#0091ff"/><stop offset="0.761" stop-color="#0058ff"/><stop offset="0.792" stop-color="#004dff"/><stop offset="0.872" stop-color="#004dff"/></linearGradient>
<linearGradient id="g307" gradientUnits="userSpaceOnUse" x1="0" y1="306.20" x2="0" y2="332.40"><stop offset="0.000" stop-color="#ff7000"/><stop offset="0.119" stop-color="#ff8100"/><stop offset="0.279" stop-color="#fffa00"/><stop offset="0.390" stop-color="#b3ff4c"/><stop offset="0.477" stop-color="#51ffae"/><stop offset="0.589" stop-color="#06fff9"/><stop offset="0.676" stop-color="#0092ff"/><stop offset="0.764" stop-color="#0058ff"/><stop offset="0.796" stop-color="#004dff"/><stop offset="0.875" stop-color="#004dff"/></linearGradient>
<linearGradient id="g308" gradientUnits="userSpaceOnUse" x1="0" y1="306.20" x2="0" y2="332.40"><stop offset="0.000" stop-color="#ff6e00"/><stop offset="0.120" stop-color="#ff7f00"/><stop offset="0.280" stop-color="#fff900"/><stop offset="0.392" stop-color="#b4ff4b"/><stop offset="0.480" stop-color="#52ffad"/><stop offset="0.591" stop-color="#07fff8"/><stop offset="0.679" stop-color="#0092ff"/><stop offset="0.767" stop-color="#0058ff"/><stop offset="0.799" stop-color="#004dff"/><stop offset="0.879" stop-color="#004dff"/></linearGradient>
<linearGradient id="g309" gradientUnits="userSpaceOnUse" x1="0" y1="306.20" x2="0" y2="332.40"><stop offset="0.000" stop-color="#ff6c00"/><stop offset="0.120" stop-color="#ff7d00"/><stop offset="0.281" stop-color="#fff700"/><stop offset="0.393" stop-color="#b6ff49"/><stop offset="0.482" stop-color="#53ffac"/><stop offset="0.594" stop-color="#07fff8"/><stop offset="0.682" stop-color="#0092ff"/><stop offset="0.770" stop-color="#0058ff"/><stop offset="0.803" stop-color="#004dff"/><stop offset="0.883" stop-color="#004dff"/></linearGradient>
<linearGradient id="g310" gradientUnits="userSpaceOnUse" x1="0" y1="306.20" x2="0" y2="332.40"><stop offset="0.000" stop-color="#ff6b00"/><stop offset="0.121" stop-color="#ff7d00"/><stop offset="0.282" stop-color="#fff700"/><stop offset="0.395" stop-color="#b6ff49"/><stop offset="0.484" stop-color="#53ffac"/><stop offset="0.596" stop-color="#08fff7"/><stop offset="0.685" stop-color="#0092ff"/><stop offset="0.774" stop-color="#0058ff"/><stop offset="0.806" stop-color="#004dff"/><stop offset="0.886" stop-color="#004dff"/></linearGradient>
<linearGradient id="g311" gradientUnits="userSpaceOnUse" x1="0" y1="306.20" x2="0" y2="332.40"><stop offset="0.000" stop-color="#ff6b00"/><stop offset="0.121" stop-color="#ff7d00"/><stop offset="0.283" stop-color="#fff700"/><stop offset="0.397" stop-color="#b6ff49"/><stop offset="0.486" stop-color="#53ffac"/><stop offset="0.599" stop-color="#08fff7"/><stop offset="0.688" stop-color="#0092ff"/><stop offset="0.777" stop-color="#0058ff"/><stop offset="0.809" stop-color="#004dff"/><stop offset="0.890" stop-color="#004dff"/></linearGradient>
<linearGradient id="g312" gradientUnits="userSpaceOnUse" x1="0" y1="306.20" x2="0" y2="332.40"><stop offset="0.000" stop-color="#ff6b00"/><stop offset="0.122" stop-color="#ff7d00"/><stop offset="0.284" stop-color="#fff700"/><stop offset="0.398" stop-color="#b6ff49"/><stop offset="0.488" stop-color="#53ffac"/><stop offset="0.601" stop-color="#08fff7"/><stop offset="0.691" stop-color="#0092ff"/><stop offset="0.780" stop-color="#0058ff"/><stop offset="0.813" stop-color="#004dff"/><stop offset="0.894" stop-color="#004dff"/></linearGradient>
<linearGradient id="g313" gradientUnits="userSpaceOnUse" x1="0" y1="306.20" x2="0" y2="332.40"><stop offset="0.000" stop-color="#ff6b00"/><stop offset="0.122" stop-color="#ff7d00"/><stop offset="0.285" stop-color="#fff700"/><stop offset="0.399" stop-color="#b6ff49"/><stop offset="0.488" stop-color="#53ffac"/><stop offset="0.602" stop-color="#08fff7"/><stop offset="0.692" stop-color="#0092ff"/><stop offset="0.781" stop-color="#0058ff"/><stop offset="0.814" stop-color="#004dff"/><stop offset="0.895" stop-color="#004dff"/></linearGradient>
<linearGradient id="g314" gradientUnits="userSpaceOnUse" x1="0" y1="306.20" x2="0" y2="332.40"><stop offset="0.000" stop-color="#ff6b00"/><stop offset="0.122" stop-color="#ff7d00"/><stop offset="0.285" stop-color="#fff700"/><stop offset="0.399" stop-color="#b6ff49"/><stop offset="0.489" stop-color="#53ffac"/><stop offset="0.603" stop-color="#08fff7"/><stop offset="0.693" stop-color="#0092ff"/><stop offset="0.783" stop-color="#0058ff"/><stop offset="0.815" stop-color="#004dff"/><stop offset="0.897" stop-color="#004dff"/></linearGradient>
<linearGradient id="g315" gradientUnits="userSpaceOnUse" x1="0" y1="306.20" x2="0" y2="332.40"><stop offset="0.000" stop-color="#ff6b00"/><stop offset="0.122" stop-color="#ff7d00"/><stop offset="0.286" stop-color="#fff700"/><stop offset="0.400" stop-color="#b6ff49"/><stop offset="0.490" stop-color="#53ffac"/><stop offset="0.604" stop-color="#08fff7"/><stop offset="0.694" stop-color="#0092ff"/><stop offset="0.784" stop-color="#0058ff"/><stop offset="0.816" stop-color="#004dff"/><stop offset="0.898" stop-color="#004dff"/></linearGradient>
<linearGradient id="g316" gradientUnits="userSpaceOnUse" x1="0" y1="306.20" x2="0" y2="332.40"><stop offset="0.000" stop-color="#ff6b00"/><stop offset="0.123" stop-color="#ff7d00"/><stop offset="0.286" stop-color="#fff700"/><stop offset="0.401" stop-color="#b6ff49"/><stop offset="0.491" stop-color="#53ffac"/><stop offset="0.605" stop-color="#08fff7"/><stop offset="0.695" stop-color="#0092ff"/><stop offset="0.785" stop-color="#0058ff"/><stop offset="0.818" stop-color="#004dff"/><stop offset="0.899" stop-color="#004dff"/></linearGradient>
<linearGradient id="g317" gradientUnits="userSpaceOnUse" x1="0" y1="306.20" x2="0" y2="332.40"><stop offset="0.000" stop-color="#ff6b00"/><stop offset="0.123" stop-color="#ff7d00"/><stop offset="0.287" stop-color="#fff700"/><stop offset="0.401" stop-color="#b6ff49"/><stop offset="0.491" stop-color="#53ffac"/><stop offset="0.606" stop-color="#08fff7"/><stop offset="0.696" stop-color="#0092ff"/><stop offset="0.786" stop-color="#0058ff"/><stop offset="0.819" stop-color="#004dff"/><stop offset="0.901" stop-color="#004dff"/></linearGradient>
<linearGradient id="g318" gradientUnits="userSpaceOnUse" x1="0" y1="306.20" x2="0" y2="332.40"><stop offset="0.000" stop-color="#ff6b00"/><stop offset="0.123" stop-color="#ff7d00"/><stop offset="0.287" stop-color="#fff700"/><stop offset="0.402" stop-color="#b6ff49"/><stop offset="0.492" stop-color="#53ffac"/><stop offset="0.607" stop-color="#08fff7"/><stop offset="0.697" stop-color="#0092ff"/><stop offset="0.787" stop-color="#0058ff"/><stop offset="0.820" stop-color="#004dff"/><stop offset="0.902" stop-color="#004dff"/></linearGradient>
<linearGradient id="g319" gradientUnits="userSpaceOnUse" x1="0" y1="306.20" x2="0" y2="332.40"><stop offset="0.000" stop-color="#ff6b00"/><stop offset="0.123" stop-color="#ff7d00"/><stop offset="0.287" stop-color="#fff700"/><stop offset="0.402" stop-color="#b6ff49"/><stop offset="0.493" stop-color="#53ffac"/><stop offset="0.608" stop-color="#08fff7"/><stop offset="0.698" stop-color="#0092ff"/><stop offset="0.788" stop-color="#0058ff"/><stop offset="0.821" stop-color="#004dff"/><stop offset="0.903" stop-color="#004dff"/></linearGradient>
<linearGradient id="g320" gradientUnits="userSpaceOnUse" x1="0" y1="306.20" x2="0" y2="332.40"><stop offset="0.000" stop-color="#ff6b00"/><stop offset="0.123" stop-color="#ff7d00"/><stop offset="0.288" stop-color="#fff700"/><stop offset="0.403" stop-color="#b6ff49"/><stop offset="0.493" stop-color="#53ffac"/><stop offset="0.608" stop-color="#08fff7"/><stop offset="0.699" stop-color="#0092ff"/><stop offset="0.789" stop-color="#0058ff"/><stop offset="0.822" stop-color="#004dff"/><stop offset="0.904" stop-color="#004dff"/></linearGradient>
<linearGradient id="g321" gradientUnits="userSpaceOnUse" x1="0" y1="306.20" x2="0" y2="332.40"><stop offset="0.000" stop-color="#ff6b00"/><stop offset="0.124" stop-color="#ff7d00"/><stop offset="0.288" stop-color="#fff700"/><stop offset="0.403" stop-color="#b6ff49"/><stop offset="0.494" stop-color="#53ffac"/><stop offset="0.609" stop-color="#08fff7"/><stop offset="0.700" stop-color="#0092ff"/><stop offset="0.790" stop-color="#0058ff"/><stop offset="0.823" stop-color="#004dff"/><stop offset="0.906" stop-color="#004dff"/></linearGradient>
<linearGradient id="g322" gradientUnits="userSpaceOnUse" x1="0" y1="306.20" x2="0" y2="332.40"><stop offset="0.000" stop-color="#ff6b00"/><stop offset="0.124" stop-color="#ff7d00"/><stop offset="0.289" stop-color="#fff700"/><stop offset="0.404" stop-color="#b6ff49"/><stop offset="0.495" stop-color="#53ffac"/><stop offset="0.610" stop-color="#08fff7"/><stop offset="0.701" stop-color="#0092ff"/><stop offset="0.792" stop-color="#0058ff"/><stop offset="0.824" stop-color="#004dff"/><stop offset="0.907" stop-color="#004dff"/></linearGradient>
<linearGradient id="g323" gradientUnits="userSpaceOnUse" x1="0" y1="306.20" x2="0" y2="332.40"><stop offset="0.000" stop-color="#ff6b00"/><stop offset="0.124" stop-color="#ff7d00"/><stop offset="0.289" stop-color="#fff700"/><stop offset="0.405" stop-color="#b6ff49"/><stop offset="0.495" stop-color="#53ffac"/><stop offset="0.611" stop-color="#08fff7"/><stop offset="0.702" stop-color="#0092ff"/><stop offset="0.793" stop-color="#0058ff"/><stop offset="0.826" stop-color="#004dff"/><stop offset="0.908" stop-color="#004dff"/></linearGradient>
<linearGradient id="g324" gradientUnits="userSpaceOnUse" x1="0" y1="306.20" x2="0" y2="332.40"><stop offset="0.000" stop-color="#ff6b00"/><stop offset="0.124" stop-color="#ff7d00"/><stop offset="0.289" stop-color="#fff700"/><stop offset="0.405" stop-color="#b6ff49"/><stop offset="0.496" stop-color="#53ffac"/><stop offset="0.612" stop-color="#08fff7"/><stop offset="0.703" stop-color="#0092ff"/><stop offset="0.794" stop-color="#0058ff"/><stop offset="0.827" stop-color="#004dff"/><stop offset="0.910" stop-color="#004dff"/></linearGradient>
<linearGradient id="g325" gradientUnits="userSpaceOnUse" x1="0" y1="306.20" x2="0" y2="332.40"><stop offset="0.000" stop-color="#ff6b00"/><stop offset="0.124" stop-color="#ff7d00"/><stop offset="0.290" stop-color="#fff700"/><stop offset="0.406" stop-color="#b6ff49"/><stop offset="0.497" stop-color="#53ffac"/><stop offset="0.613" stop-color="#08fff7"/><stop offset="0.704" stop-color="#0092ff"/><stop offset="0.795" stop-color="#0058ff"/><stop offset="0.828" stop-color="#004dff"/><stop offset="0.911" stop-color="#004dff"/></linearGradient>
<linearGradient id="g326" gradientUnits="userSpaceOnUse" x1="0" y1="306.20" x2="0" y2="332.40"><stop offset="0.000" stop-color="#ff6b00"/><stop offset="0.124" stop-color="#ff7d00"/><stop offset="0.290" stop-color="#fff700"/><stop offset="0.406" stop-color="#b6ff49"/><stop offset="0.497" stop-color="#53ffac"/><stop offset="0.614" stop-color="#08fff7"/><stop offset="0.705" stop-color="#0092ff"/><stop offset="0.796" stop-color="#0058ff"/><stop offset="0.829" stop-color="#004dff"/><stop offset="0.912" stop-color="#004dff"/></linearGradient>
<linearGradient id="g327" gradientUnits="userSpaceOnUse" x1="0" y1="306.20" x2="0" y2="332.40"><stop offset="0.000" stop-color="#ff6b00"/><stop offset="0.125" stop-color="#ff7d00"/><stop offset="0.291" stop-color="#fff700"/><stop offset="0.407" stop-color="#b6ff49"/><stop offset="0.498" stop-color="#53ffac"/><stop offset="0.614" stop-color="#08fff7"/><stop offset="0.706" stop-color="#0092ff"/><stop offset="0.797" stop-color="#0058ff"/><stop offset="0.830" stop-color="#004dff"/><stop offset="0.913" stop-color="#004dff"/></linearGradient>
<linearGradient id="g328" gradientUnits="userSpaceOnUse" x1="0" y1="306.20" x2="0" y2="332.40"><stop offset="0.000" stop-color="#ff6b00"/><stop offset="0.125" stop-color="#ff7d00"/><stop offset="0.291" stop-color="#fff700"/><stop offset="0.407" stop-color="#b6ff49"/><stop offset="0.499" stop-color="#53ffac"/><stop offset="0.615" stop-color="#08fff7"/><stop offset="0.707" stop-color="#0092ff"/><stop offset="0.798" stop-color="#0058ff"/><stop offset="0.831" stop-color="#004dff"/><stop offset="0.915" stop-color="#004dff"/></linearGradient>
<linearGradient id="g329" gradientUnits="userSpaceOnUse" x1="0" y1="306.20" x2="0" y2="332.40"><stop offset="0.000" stop-color="#ff6b00"/><stop offset="0.125" stop-color="#ff7d00"/><stop offset="0.291" stop-color="#fff700"/><stop offset="0.407" stop-color="#b6ff49"/><stop offset="0.499" stop-color="#53ffac"/><stop offset="0.615" stop-color="#08fff7"/><stop offset="0.707" stop-color="#0092ff"/><stop offset="0.798" stop-color="#0058ff"/><stop offset="0.831" stop-color="#004dff"/><stop offset="0.914" stop-color="#004dff"/></linearGradient>
<linearGradient id="g330" gradientUnits="userSpaceOnUse" x1="0" y1="306.20" x2="0" y2="332.40"><stop offset="0.000" stop-color="#ff6b00"/><stop offset="0.124" stop-color="#ff7d00"/><stop offset="0.290" stop-color="#fff700"/><stop offset="0.407" stop-color="#b6ff49"/><stop offset="0.498" stop-color="#53ffac"/><stop offset="0.614" stop-color="#08fff7"/><stop offset="0.705" stop-color="#0092ff"/><stop offset="0.797" stop-color="#0058ff"/><stop offset="0.830" stop-color="#004dff"/><stop offset="0.913" stop-color="#004dff"/></linearGradient>
<linearGradient id="g331" gradientUnits="userSpaceOnUse" x1="0" y1="306.20" x2="0" y2="332.40"><stop offset="0.000" stop-color="#ff6b00"/><stop offset="0.124" stop-color="#ff7d00"/><stop offset="0.290" stop-color="#fff700"/><stop offset="0.406" stop-color="#b6ff49"/><stop offset="0.497" stop-color="#53ffac"/><stop offset="0.613" stop-color="#08fff7"/><stop offset="0.704" stop-color="#0092ff"/><stop offset="0.795" stop-color="#0058ff"/><stop offset="0.828" stop-color="#004dff"/><stop offset="0.911" stop-color="#004dff"/></linearGradient>
<linearGradient id="g332" gradientUnits="userSpaceOnUse" x1="0" y1="306.20" x2="0" y2="332.40"><stop offset="0.000" stop-color="#ff6b00"/><stop offset="0.124" stop-color="#ff7d00"/><stop offset="0.289" stop-color="#fff700"/><stop offset="0.405" stop-color="#b6ff49"/><stop offset="0.496" stop-color="#53ffac"/><stop offset="0.612" stop-color="#08fff7"/><stop offset="0.703" stop-color="#0092ff"/><stop offset="0.794" stop-color="#0058ff"/><stop offset="0.827" stop-color="#004dff"/><stop offset="0.910" stop-color="#004dff"/></linearGradient>
<linearGradient id="g333" gradientUnits="userSpaceOnUse" x1="0" y1="306.20" x2="0" y2="332.40"><stop offset="0.000" stop-color="#ff6b00"/><stop offset="0.124" stop-color="#ff7d00"/><stop offset="0.289" stop-color="#fff700"/><stop offset="0.404" stop-color="#b6ff49"/><stop offset="0.495" stop-color="#53ffac"/><stop offset="0.611" stop-color="#08fff7"/><stop offset="0.702" stop-color="#0092ff"/><stop offset="0.792" stop-color="#0058ff"/><stop offset="0.825" stop-color="#004dff"/><stop offset="0.908" stop-color="#004dff"/></linearGradient>
<linearGradient id="g334" gradientUnits="userSpaceOnUse" x1="0" y1="306.20" x2="0" y2="332.40"><stop offset="0.000" stop-color="#ff6b00"/><stop offset="0.124" stop-color="#ff7d00"/><stop offset="0.288" stop-color="#fff700"/><stop offset="0.404" stop-color="#b6ff49"/><stop offset="0.494" stop-color="#53ffac"/><stop offset="0.610" stop-color="#08fff7"/><stop offset="0.700" stop-color="#0092ff"/><stop offset="0.791" stop-color="#0058ff"/><stop offset="0.824" stop-color="#004dff"/><stop offset="0.906" stop-color="#004dff"/></linearGradient>
<linearGradient id="g335" gradientUnits="userSpaceOnUse" x1="0" y1="306.20" x2="0" y2="332.40"><stop offset="0.000" stop-color="#ff6b00"/><stop offset="0.123" stop-color="#ff7d00"/><stop offset="0.288" stop-color="#fff700"/><stop offset="0.403" stop-color="#b6ff49"/><stop offset="0.493" stop-color="#53ffac"/><stop offset="0.609" stop-color="#08fff7"/><stop offset="0.699" stop-color="#0092ff"/><stop offset="0.790" stop-color="#0058ff"/><stop offset="0.822" stop-color="#004dff"/><stop offset="0.905" stop-color="#004dff"/></linearGradient>
<linearGradient id="g336" gradientUnits="userSpaceOnUse" x1="0" y1="306.20" x2="0" y2="332.40"><stop offset="0.000" stop-color="#ff6b00"/><stop offset="0.123" stop-color="#ff7d00"/><stop offset="0.287" stop-color="#fff700"/><stop offset="0.402" stop-color="#b6ff49"/><stop offset="0.493" stop-color="#53ffac"/><stop offset="0.608" stop-color="#08fff7"/><stop offset="0.698" stop-color="#0092ff"/><stop offset="0.788" stop-color="#0058ff"/><stop offset="0.821" stop-color="#004dff"/><stop offset="0.903" stop-color="#004dff"/></linearGradient>
<linearGradient id="g337" gradientUnits="userSpaceOnUse" x1="0" y1="306.20" x2="0" y2="332.40"><stop offset="0.000" stop-color="#ff6b00"/><stop offset="0.123" stop-color="#ff7d00"/><stop offset="0.287" stop-color="#fff700"/><stop offset="0.402" stop-color="#b6ff49"/><stop offset="0.492" stop-color="#53ffac"/><stop offset="0.606" stop-color="#08fff7"/><stop offset="0.697" stop-color="#0092ff"/><stop offset="0.787" stop-color="#0058ff"/><stop offset="0.820" stop-color="#004dff"/><stop offset="0.901" stop-color="#004dff"/></linearGradient>
<linearGradient id="g338" gradientUnits="userSpaceOnUse" x1="0" y1="306.20" x2="0" y2="332.40"><stop offset="0.000" stop-color="#ff6b00"/><stop offset="0.123" stop-color="#ff7d00"/><stop offset="0.286" stop-color="#fff700"/><stop offset="0.401" stop-color="#b6ff49"/><stop offset="0.491" stop-color="#53ffac"/><stop offset="0.605" stop-color="#08fff7"/><stop offset="0.695" stop-color="#0092ff"/><stop offset="0.785" stop-color="#0058ff"/><stop offset="0.818" stop-color="#004dff"/><stop offset="0.900" stop-color="#004dff"/></linearGradient>
<linearGradient id="g339" gradientUnits="userSpaceOnUse" x1="0" y1="306.20" x2="0" y2="332.40"><stop offset="0.000" stop-color="#ff6b00"/><stop offset="0.122" stop-color="#ff7d00"/><stop offset="0.286" stop-color="#fff700"/><stop offset="0.400" stop-color="#b6ff49"/><stop offset="0.490" stop-color="#53ffac"/><stop offset="0.604" stop-color="#08fff7"/><stop offset="0.694" stop-color="#0092ff"/><stop offset="0.784" stop-color="#0058ff"/><stop offset="0.816" stop-color="#004dff"/><stop offset="0.898" stop-color="#004dff"/></linearGradient>
<linearGradient id="g340" gradientUnits="userSpaceOnUse" x1="0" y1="306.20" x2="0" y2="332.40"><stop offset="0.000" stop-color="#ff6b00"/><stop offset="0.122" stop-color="#ff7d00"/><stop offset="0.285" stop-color="#fff700"/><stop offset="0.399" stop-color="#b6ff49"/><stop offset="0.488" stop-color="#53ffac"/><stop offset="0.602" stop-color="#08fff7"/><stop offset="0.692" stop-color="#0092ff"/><stop offset="0.781" stop-color="#0058ff"/><stop offset="0.814" stop-color="#004dff"/><stop offset="0.895" stop-color="#004dff"/></linearGradient>
<linearGradient id="g341" gradientUnits="userSpaceOnUse" x1="0" y1="306.20" x2="0" y2="332.40"><stop offset="0.000" stop-color="#ff6b00"/><stop offset="0.122" stop-color="#ff7d00"/><stop offset="0.284" stop-color="#fff700"/><stop offset="0.398" stop-color="#b6ff49"/><stop offset="0.487" stop-color="#53ffac"/><stop offset="0.600" stop-color="#08fff7"/><stop offset="0.690" stop-color="#0092ff"/><stop offset="0.779" stop-color="#0058ff"/><stop offset="0.811" stop-color="#004dff"/><stop offset="0.892" stop-color="#004dff"/></linearGradient>
<linearGradient id="g342" gradientUnits="userSpaceOnUse" x1="0" y1="306.20" x2="0" y2="332.40"><stop offset="0.000" stop-color="#ff6b00"/><stop offset="0.121" stop-color="#ff7d00"/><stop offset="0.283" stop-color="#fff700"/><stop offset="0.396" stop-color="#b6ff49"/><stop offset="0.485" stop-color="#53ffac"/><stop offset="0.598" stop-color="#08fff7"/><stop offset="0.687" stop-color="#0092ff"/><stop offset="0.776" stop-color="#0058ff"/><stop offset="0.809" stop-color="#004dff"/><stop offset="0.890" stop-color="#004dff"/></linearGradient>
<linearGradient id="g343" gradientUnits="userSpaceOnUse" x1="0" y1="306.20" x2="0" y2="332.40"><stop offset="0.000" stop-color="#ff6b00"/><stop offset="0.121" stop-color="#ff7d00"/><stop offset="0.282" stop-color="#fff700"/><stop offset="0.395" stop-color="#b6ff49"/><stop offset="0.484" stop-color="#53ffac"/><stop offset="0.597" stop-color="#08fff7"/><stop offset="0.685" stop-color="#0092ff"/><stop offset="0.774" stop-color="#0058ff"/><stop offset="0.806" stop-color="#004dff"/><stop offset="0.887" stop-color="#004dff"/></linearGradient>
<linearGradient id="g344" gradientUnits="userSpaceOnUse" x1="0" y1="306.20" x2="0" y2="332.40"><stop offset="0.000" stop-color="#ff6b00"/><stop offset="0.121" stop-color="#ff7d00"/><stop offset="0.281" stop-color="#fff700"/><stop offset="0.394" stop-color="#b6ff49"/><stop offset="0.482" stop-color="#53ffac"/><stop offset="0.595" stop-color="#08fff7"/><stop offset="0.683" stop-color="#0092ff"/><stop offset="0.771" stop-color="#0058ff"/><stop offset="0.804" stop-color="#004dff"/><stop offset="0.884" stop-color="#004dff"/></linearGradient>
<linearGradient id="g345" gradientUnits="userSpaceOnUse" x1="0" y1="306.20" x2="0" y2="332.40"><stop offset="0.000" stop-color="#ff6b00"/><stop offset="0.120" stop-color="#ff7d00"/><stop offset="0.280" stop-color="#fff700"/><stop offset="0.392" stop-color="#b6ff49"/><stop offset="0.481" stop-color="#53ffac"/><stop offset="0.593" stop-color="#08fff7"/><stop offset="0.681" stop-color="#0092ff"/><stop offset="0.769" stop-color="#0058ff"/><stop offset="0.801" stop-color="#004dff"/><stop offset="0.881" stop-color="#004dff"/></linearGradient>
<linearGradient id="g346" gradientUnits="userSpaceOnUse" x1="0" y1="306.20" x2="0" y2="332.40"><stop offset="0.000" stop-color="#ff6b00"/><stop offset="0.120" stop-color="#ff7d00"/><stop offset="0.279" stop-color="#fff700"/><stop offset="0.391" stop-color="#b6ff49"/><stop offset="0.479" stop-color="#53ffac"/><stop offset="0.591" stop-color="#08fff7"/><stop offset="0.679" stop-color="#0092ff"/><stop offset="0.766" stop-color="#0058ff"/><stop offset="0.798" stop-color="#004dff"/><stop offset="0.878" stop-color="#004dff"/></linearGradient>
<linearGradient id="g347" gradientUnits="userSpaceOnUse" x1="0" y1="306.20" x2="0" y2="332.40"><stop offset="0.000" stop-color="#ff6c00"/><stop offset="0.119" stop-color="#ff7e00"/><stop offset="0.279" stop-color="#fff800"/><stop offset="0.390" stop-color="#b5ff4a"/><stop offset="0.478" stop-color="#53ffac"/><stop offset="0.589" stop-color="#07fff8"/><stop offset="0.676" stop-color="#0092ff"/><stop offset="0.764" stop-color="#0058ff"/><stop offset="0.796" stop-color="#004dff"/><stop offset="0.875" stop-color="#004dff"/></linearGradient>
<linearGradient id="g348" gradientUnits="userSpaceOnUse" x1="0" y1="306.20" x2="0" y2="332.40"><stop offset="0.000" stop-color="#ff6e00"/><stop offset="0.119" stop-color="#ff8000"/><stop offset="0.278" stop-color="#fff900"/><stop offset="0.389" stop-color="#b4ff4b"/><stop offset="0.476" stop-color="#52ffad"/><stop offset="0.587" stop-color="#06fff9"/><stop offset="0.674" stop-color="#0092ff"/><stop offset="0.762" stop-color="#0058ff"/><stop offset="0.793" stop-color="#004dff"/><stop offset="0.873" stop-color="#004dff"/></linearGradient>
<linearGradient id="g349" gradientUnits="userSpaceOnUse" x1="0" y1="306.20" x2="0" y2="332.40"><stop offset="0.000" stop-color="#ff7000"/><stop offset="0.119" stop-color="#ff8200"/><stop offset="0.277" stop-color="#fffb00"/><stop offset="0.387" stop-color="#b3ff4c"/><stop offset="0.474" stop-color="#51ffae"/><stop offset="0.585" stop-color="#06fff9"/><stop offset="0.672" stop-color="#0092ff"/><stop offset="0.759" stop-color="#0058ff"/><stop offset="0.791" stop-color="#004dff"/><stop offset="0.870" stop-color="#004dff"/></linearGradient>
<linearGradient id="g350" gradientUnits="userSpaceOnUse" x1="0" y1="306.20" x2="0" y2="332.40"><stop offset="0.000" stop-color="#ff7300"/><stop offset="0.118" stop-color="#ff8400"/><stop offset="0.275" stop-color="#fffc00"/><stop offset="0.385" stop-color="#b1ff4e"/><stop offset="0.472" stop-color="#50ffaf"/><stop offset="0.582" stop-color="#05fffa"/><stop offset="0.668" stop-color="#0091ff"/><stop offset="0.754" stop-color="#0058ff"/><stop offset="0.786" stop-color="#004dff"/><stop offset="0.865" stop-color="#004dff"/></linearGradient>
<linearGradient id="g351" gradientUnits="userSpaceOnUse" x1="0" y1="306.20" x2="0" y2="332.40"><stop offset="0.000" stop-color="#ff7500"/><stop offset="0.117" stop-color="#ff8600"/><stop offset="0.273" stop-color="#fffe00"/><stop offset="0.382" stop-color="#b0ff4f"/><stop offset="0.468" stop-color="#4fffb0"/><stop offset="0.578" stop-color="#05fffa"/><stop offset="0.663" stop-color="#0091ff"/><stop offset="0.749" stop-color="#0058ff"/><stop offset="0.780" stop-color="#004dff"/><stop offset="0.858" stop-color="#004dff"/></linearGradient>
<linearGradient id="g352" gradientUnits="userSpaceOnUse" x1="0" y1="306.20" x2="0" y2="332.40"><stop offset="0.000" stop-color="#ff7700"/><stop offset="0.116" stop-color="#ff8800"/><stop offset="0.271" stop-color="#ffff00"/><stop offset="0.380" stop-color="#afff50"/><stop offset="0.465" stop-color="#4effb1"/><stop offset="0.573" stop-color="#04fffb"/><stop offset="0.659" stop-color="#0091ff"/><stop offset="0.744" stop-color="#0058ff"/><stop offset="0.775" stop-color="#004dff"/><stop offset="0.852" stop-color="#004dff"/></linearGradient>
<linearGradient id="g353" gradientUnits="userSpaceOnUse" x1="0" y1="306.20" x2="0" y2="332.40"><stop offset="0.000" stop-color="#ff7900"/><stop offset="0.115" stop-color="#ff8a00"/><stop offset="0.269" stop-color="#fdff02"/><stop offset="0.377" stop-color="#aeff51"/><stop offset="0.462" stop-color="#4dffb2"/><stop offset="0.569" stop-color="#03fffc"/><stop offset="0.654" stop-color="#0091ff"/><stop offset="0.739" stop-color="#0058ff"/><stop offset="0.769" stop-color="#004dff"/><stop offset="0.846" stop-color="#004dff"/></linearGradient>
<linearGradient id="g354" gradientUnits="userSpaceOnUse" x1="0" y1="306.20" x2="0" y2="332.40"><stop offset="0.000" stop-color="#ff7b00"/><stop offset="0.115" stop-color="#ff8c00"/><stop offset="0.267" stop-color="#fbff04"/><stop offset="0.374" stop-color="#acff53"/><stop offset="0.458" stop-color="#4cffb3"/><stop offset="0.565" stop-color="#03fffc"/><stop offset="0.649" stop-color="#0090ff"/><stop offset="0.733" stop-color="#0058ff"/><stop offset="0.764" stop-color="#004dff"/><stop offset="0.840" stop-color="#004dff"/></linearGradient>
<linearGradient id="g355" gradientUnits="userSpaceOnUse" x1="0" y1="306.20" x2="0" y2="332.40"><stop offset="0.000" stop-color="#ff7d00"/><stop offset="0.114" stop-color="#ff8e00"/><stop offset="0.265" stop-color="#faff05"/><stop offset="0.372" stop-color="#abff54"/><stop offset="0.455" stop-color="#4bffb4"/><stop offset="0.561" stop-color="#02fffd"/><stop offset="0.645" stop-color="#0090ff"/><stop offset="0.728" stop-color="#0058ff"/><stop offset="0.758" stop-color="#004dff"/><stop offset="0.834" stop-color="#004dff"/></linearGradient>
<linearGradient id="g356" gradientUnits="userSpaceOnUse" x1="0" y1="306.20" x2="0" y2="332.40"><stop offset="0.000" stop-color="#ff7f00"/><stop offset="0.113" stop-color="#ff9000"/><stop offset="0.263" stop-color="#f8ff07"/><stop offset="0.369" stop-color="#aaff55"/><stop offset="0.452" stop-color="#4affb5"/><stop offset="0.557" stop-color="#01fffe"/><stop offset="0.640" stop-color="#0090ff"/><stop offset="0.723" stop-color="#0058ff"/><stop offset="0.753" stop-color="#004dff"/><stop offset="0.828" stop-color="#004dff"/></linearGradient>
<linearGradient id="g357" gradientUnits="userSpaceOnUse" x1="0" y1="306.20" x2="0" y2="332.40"><stop offset="0.000" stop-color="#ff8100"/><stop offset="0.112" stop-color="#ff9200"/><stop offset="0.262" stop-color="#f7ff08"/><stop offset="0.366" stop-color="#a8ff57"/><stop offset="0.448" stop-color="#49ffb6"/><stop offset="0.553" stop-color="#01fffe"/><stop offset="0.635" stop-color="#0090ff"/><stop offset="0.717" stop-color="#0058ff"/><stop offset="0.747" stop-color="#004dff"/><stop offset="0.822" stop-color="#004dff"/></linearGradient>
<linearGradient id="g358" gradientUnits="userSpaceOnUse" x1="0" y1="306.20" x2="0" y2="332.40"><stop offset="0.000" stop-color="#ff8300"/><stop offset="0.111" stop-color="#ff9400"/><stop offset="0.260" stop-color="#f5ff0a"/><stop offset="0.363" stop-color="#a7ff58"/><stop offset="0.445" stop-color="#48ffb7"/><stop offset="0.549" stop-color="#00ffff"/><stop offset="0.630" stop-color="#008fff"/><stop offset="0.712" stop-color="#0058ff"/><stop offset="0.742" stop-color="#004dff"/><stop offset="0.816" stop-color="#004dff"/></linearGradient>
<linearGradient id="g359" gradientUnits="userSpaceOnUse" x1="0" y1="306.20" x2="0" y2="332.40"><stop offset="0.000" stop-color="#ff8600"/><stop offset="0.110" stop-color="#ff9600"/><stop offset="0.258" stop-color="#f3ff0c"/><stop offset="0.361" stop-color="#a6ff59"/><stop offset="0.442" stop-color="#47ffb8"/><stop offset="0.545" stop-color="#00feff"/><stop offset="0.626" stop-color="#008fff"/><stop offset="0.707" stop-color="#0058ff"/><stop offset="0.736" stop-color="#004dff"/><stop offset="0.810" stop-color="#004dff"/></linearGradient>
<linearGradient id="g360" gradientUnits="userSpaceOnUse" x1="0" y1="306.20" x2="0" y2="332.40"><stop offset="0.000" stop-color="#ff8a00"/><stop offset="0.110" stop-color="#ff9a00"/><stop offset="0.256" stop-color="#f0ff0f"/><stop offset="0.358" stop-color="#a3ff5c"/><stop offset="0.438" stop-color="#45ffba"/><stop offset="0.541" stop-color="#00fdff"/><stop offset="0.621" stop-color="#008fff"/><stop offset="0.701" stop-color="#0058ff"/><stop offset="0.731" stop-color="#004dff"/><stop offset="0.804" stop-color="#004dff"/></linearGradient>
<linearGradient id="g361" gradientUnits="userSpaceOnUse" x1="0" y1="306.20" x2="0" y2="332.40"><stop offset="0.000" stop-color="#ff8e00"/><stop offset="0.109" stop-color="#ff9e00"/><stop offset="0.254" stop-color="#edff12"/><stop offset="0.355" stop-color="#a0ff5f"/><stop offset="0.435" stop-color="#44ffbb"/><stop offset="0.537" stop-color="#00fbff"/><stop offset="0.616" stop-color="#008eff"/><stop offset="0.696" stop-color="#0057ff"/><stop offset="0.725" stop-color="#004dff"/><stop offset="0.798" stop-color="#004dff"/></linearGradient>
<linearGradient id="g362" gradientUnits="userSpaceOnUse" x1="0" y1="306.20" x2="0" y2="332.40"><stop offset="0.000" stop-color="#ff9200"/><stop offset="0.107" stop-color="#ffa200"/><stop offset="0.250" stop-color="#eaff15"/><stop offset="0.350" stop-color="#9eff61"/><stop offset="0.428" stop-color="#42ffbd"/><stop offset="0.528" stop-color="#00faff"/><stop offset="0.607" stop-color="#008eff"/><stop offset="0.685" stop-color="#0057ff"/><stop offset="0.714" stop-color="#004dff"/><stop offset="0.785" stop-color="#004dff"/></linearGradient>
<linearGradient id="g363" gradientUnits="userSpaceOnUse" x1="0" y1="306.20" x2="0" y2="332.40"><stop offset="0.000" stop-color="#ff9600"/><stop offset="0.105" stop-color="#ffa600"/><stop offset="0.246" stop-color="#e7ff18"/><stop offset="0.344" stop-color="#9bff64"/><stop offset="0.422" stop-color="#40ffbf"/><stop offset="0.520" stop-color="#00f9ff"/><stop offset="0.597" stop-color="#008dff"/><stop offset="0.675" stop-color="#0057ff"/><stop offset="0.703" stop-color="#004dff"/><stop offset="0.773" stop-color="#004dff"/></linearGradient>
<linearGradient id="g364" gradientUnits="userSpaceOnUse" x1="0" y1="306.20" x2="0" y2="332.40"><stop offset="0.000" stop-color="#ff9a00"/><stop offset="0.104" stop-color="#ffaa00"/><stop offset="0.242" stop-color="#e4ff1b"/><stop offset="0.339" stop-color="#99ff66"/><stop offset="0.415" stop-color="#3effc1"/><stop offset="0.512" stop-color="#00f7ff"/><stop offset="0.588" stop-color="#008dff"/><stop offset="0.664" stop-color="#0057ff"/><stop offset="0.691" stop-color="#004dff"/><stop offset="0.760" stop-color="#004dff"/></linearGradient>
<linearGradient id="g365" gradientUnits="userSpaceOnUse" x1="0" y1="306.20" x2="0" y2="332.40"><stop offset="0.000" stop-color="#ff9e00"/><stop offset="0.102" stop-color="#ffae00"/><stop offset="0.238" stop-color="#e0ff1f"/><stop offset="0.333" stop-color="#96ff69"/><stop offset="0.408" stop-color="#3cffc3"/><stop offset="0.503" stop-color="#00f6ff"/><stop offset="0.578" stop-color="#008cff"/><stop offset="0.653" stop-color="#0057ff"/><stop offset="0.680" stop-color="#004dff"/><stop offset="0.748" stop-color="#004dff"/></linearGradient>
<linearGradient id="g366" gradientUnits="userSpaceOnUse" x1="0" y1="306.20" x2="0" y2="332.40"><stop offset="0.000" stop-color="#ffa700"/><stop offset="0.100" stop-color="#ffb600"/><stop offset="0.234" stop-color="#daff25"/><stop offset="0.328" stop-color="#91ff6e"/><stop offset="0.401" stop-color="#38ffc7"/><stop offset="0.495" stop-color="#00f3ff"/><stop offset="0.568" stop-color="#008bff"/><stop offset="0.642" stop-color="#0057ff"/><stop offset="0.669" stop-color="#004dff"/><stop offset="0.736" stop-color="#004dff"/></linearGradient>
<linearGradient id="g367" gradientUnits="userSpaceOnUse" x1="0" y1="306.20" x2="0" y2="332.40"><stop offset="0.000" stop-color="#ffaf00"/><stop offset="0.099" stop-color="#ffbe00"/><stop offset="0.230" stop-color="#d4ff2b"/><stop offset="0.322" stop-color="#8cff73"/><stop offset="0.394" stop-color="#35ffca"/><stop offset="0.486" stop-color="#00f1ff"/><stop offset="0.559" stop-color="#008aff"/><stop offset="0.631" stop-color="#0057ff"/><stop offset="0.657" stop-color="#004dff"/><stop offset="0.723" stop-color="#004dff"/></linearGradient>
<linearGradient id="g368" gradientUnits="userSpaceOnUse" x1="0" y1="306.20" x2="0" y2="332.40"><stop offset="0.000" stop-color="#ffb700"/><stop offset="0.097" stop-color="#ffc600"/><stop offset="0.226" stop-color="#ceff31"/><stop offset="0.316" stop-color="#87ff78"/><stop offset="0.388" stop-color="#31ffce"/><stop offset="0.478" stop-color="#00eeff"/><stop offset="0.549" stop-color="#0089ff"/><stop offset="0.620" stop-color="#0057ff"/><stop offset="0.646" stop-color="#004dff"/><stop offset="0.711" stop-color="#004dff"/></linearGradient>
<linearGradient id="g369" gradientUnits="userSpaceOnUse" x1="0" y1="306.20" x2="0" y2="332.40"><stop offset="0.000" stop-color="#ffbf00"/><stop offset="0.095" stop-color="#ffce00"/><stop offset="0.222" stop-color="#c7ff38"/><stop offset="0.311" stop-color="#82ff7d"/><stop offset="0.381" stop-color="#2dffd2"/><stop offset="0.470" stop-color="#00ecff"/><stop offset="0.539" stop-color="#0088ff"/><stop offset="0.609" stop-color="#0056ff"/><stop offset="0.635" stop-color="#004dff"/><stop offset="0.698" stop-color="#004dff"/></linearGradient>
<linearGradient id="g370" gradientUnits="userSpaceOnUse" x1="0" y1="306.20" x2="0" y2="332.40"><stop offset="0.000" stop-color="#ffc800"/><stop offset="0.093" stop-color="#ffd700"/><stop offset="0.218" stop-color="#c0ff3f"/><stop offset="0.305" stop-color="#7cff83"/><stop offset="0.373" stop-color="#29ffd6"/><stop offset="0.460" stop-color="#00e9ff"/><stop offset="0.529" stop-color="#0087ff"/><stop offset="0.597" stop-color="#0056ff"/><stop offset="0.622" stop-color="#004dff"/><stop offset="0.684" stop-color="#004dff"/></linearGradient>
<linearGradient id="g371" gradientUnits="userSpaceOnUse" x1="0" y1="306.20" x2="0" y2="332.40"><stop offset="0.000" stop-color="#ffd900"/><stop offset="0.091" stop-color="#ffe700"/><stop offset="0.212" stop-color="#b4ff4b"/><stop offset="0.297" stop-color="#72ff8d"/><stop offset="0.364" stop-color="#22ffdd"/><stop offset="0.449" stop-color="#00e3ff"/><stop offset="0.515" stop-color="#0085ff"/><stop offset="0.582" stop-color="#0056ff"/><stop offset="0.606" stop-color="#004dff"/><stop offset="0.667" stop-color="#004dff"/></linearGradient>
<linearGradient id="g372" gradientUnits="userSpaceOnUse" x1="0" y1="306.20" x2="0" y2="332.40"><stop offset="0.000" stop-color="#ffe900"/><stop offset="0.089" stop-color="#fff700"/><stop offset="0.207" stop-color="#a7ff58"/><stop offset="0.290" stop-color="#68ff97"/><stop offset="0.354" stop-color="#1affe5"/><stop offset="0.437" stop-color="#00deff"/><stop offset="0.502" stop-color="#0083ff"/><stop offset="0.567" stop-color="#0056ff"/><stop offset="0.591" stop-color="#004dff"/><stop offset="0.650" stop-color="#004dff"/></linearGradient>
<linearGradient id="g373" gradientUnits="userSpaceOnUse" x1="0" y1="306.20" x2="0" y2="332.40"><stop offset="0.000" stop-color="#fffa00"/><stop offset="0.086" stop-color="#f7ff08"/><stop offset="0.201" stop-color="#9bff64"/><stop offset="0.282" stop-color="#5dffa2"/><stop offset="0.345" stop-color="#13ffec"/><stop offset="0.426" stop-color="#00d9ff"/><stop offset="0.489" stop-color="#0081ff"/><stop offset="0.552" stop-color="#0055ff"/><stop offset="0.575" stop-color="#004dff"/><stop offset="0.633" stop-color="#004dff"/></linearGradient>
<linearGradient id="g374" gradientUnits="userSpaceOnUse" x1="0" y1="306.20" x2="0" y2="332.40"><stop offset="0.000" stop-color="#f3ff0c"/><stop offset="0.084" stop-color="#e6ff19"/><stop offset="0.196" stop-color="#8eff71"/><stop offset="0.274" stop-color="#53ffac"/><stop offset="0.336" stop-color="#0bfff4"/><stop offset="0.414" stop-color="#00d3ff"/><stop offset="0.476" stop-color="#007fff"/><stop offset="0.537" stop-color="#0055ff"/><stop offset="0.560" stop-color="#004dff"/><stop offset="0.616" stop-color="#004dff"/></linearGradient>
<linearGradient id="g375" gradientUnits="userSpaceOnUse" x1="0" y1="306.20" x2="0" y2="332.40"><stop offset="0.000" stop-color="#dfff20"/><stop offset="0.082" stop-color="#d3ff2c"/><stop offset="0.192" stop-color="#7fff80"/><stop offset="0.268" stop-color="#47ffb8"/><stop offset="0.329" stop-color="#02fffd"/><stop offset="0.405" stop-color="#00cdff"/><stop offset="0.465" stop-color="#007dff"/><stop offset="0.526" stop-color="#0055ff"/><stop offset="0.548" stop-color="#004dff"/><stop offset="0.602" stop-color="#004dff"/></linearGradient>
<linearGradient id="g376" gradientUnits="userSpaceOnUse" x1="0" y1="306.20" x2="0" y2="332.40"><stop offset="0.000" stop-color="#ccff33"/><stop offset="0.080" stop-color="#c1ff3e"/><stop offset="0.188" stop-color="#70ff8f"/><stop offset="0.263" stop-color="#3bffc4"/><stop offset="0.322" stop-color="#00f9ff"/><stop offset="0.397" stop-color="#00c7ff"/><stop offset="0.456" stop-color="#007aff"/><stop offset="0.515" stop-color="#0054ff"/><stop offset="0.536" stop-color="#004dff"/><stop offset="0.590" stop-color="#004dff"/></linearGradient>
<linearGradient id="g377" gradientUnits="userSpaceOnUse" x1="0" y1="306.20" x2="0" y2="332.40"><stop offset="0.000" stop-color="#b9ff46"/><stop offset="0.079" stop-color="#aeff51"/><stop offset="0.184" stop-color="#62ff9d"/><stop offset="0.257" stop-color="#2fffd0"/><stop offset="0.315" stop-color="#00f0ff"/><stop offset="0.388" stop-color="#00c1ff"/><stop offset="0.446" stop-color="#0078ff"/><stop offset="0.504" stop-color="#0054ff"/><stop offset="0.525" stop-color="#004dff"/><stop offset="0.577" stop-color="#004dff"/></linearGradient>
<linearGradient id="g378" gradientUnits="userSpaceOnUse" x1="0" y1="306.20" x2="0" y2="332.40"><stop offset="0.000" stop-color="#a7ff58"/><stop offset="0.077" stop-color="#9dff62"/><stop offset="0.180" stop-color="#54ffab"/><stop offset="0.252" stop-color="#24ffdb"/><stop offset="0.308" stop-color="#00e8ff"/><stop offset="0.380" stop-color="#00bbff"/><stop offset="0.436" stop-color="#0076ff"/><stop offset="0.493" stop-color="#0053ff"/><stop offset="0.513" stop-color="#004dff"/><stop offset="0.565" stop-color="#004dff"/></linearGradient>
<linearGradient id="g379" gradientUnits="userSpaceOnUse" x1="0" y1="306.20" x2="0" y2="332.40"><stop offset="0.000" stop-color="#97ff68"/><stop offset="0.075" stop-color="#8dff72"/><stop offset="0.174" stop-color="#48ffb7"/><stop offset="0.244" stop-color="#1affe5"/><stop offset="0.299" stop-color="#00e1ff"/><stop offset="0.369" stop-color="#00b6ff"/><stop offset="0.424" stop-color="#0074ff"/><stop offset="0.478" stop-color="#0053ff"/><stop offset="0.498" stop-color="#004dff"/><stop offset="0.548" stop-color="#004dff"/></linearGradient>
<linearGradient id="g380" gradientUnits="userSpaceOnUse" x1="0" y1="306.20" x2="0" y2="332.40"><stop offset="0.000" stop-color="#86ff79"/><stop offset="0.072" stop-color="#7dff82"/><stop offset="0.168" stop-color="#3bffc4"/><stop offset="0.235" stop-color="#10ffef"/><stop offset="0.288" stop-color="#00d9ff"/><stop offset="0.355" stop-color="#00b1ff"/><stop offset="0.408" stop-color="#0072ff"/><stop offset="0.461" stop-color="#0053ff"/><stop offset="0.480" stop-color="#004dff"/><stop offset="0.528" stop-color="#004dff"/></linearGradient>
<linearGradient id="g381" gradientUnits="userSpaceOnUse" x1="0" y1="306.20" x2="0" y2="332.40"><stop offset="0.000" stop-color="#76ff89"/><stop offset="0.069" stop-color="#6dff92"/><stop offset="0.161" stop-color="#2fffd0"/><stop offset="0.226" stop-color="#05fffa"/><stop offset="0.277" stop-color="#00d2ff"/><stop offset="0.341" stop-color="#00abff"/><stop offset="0.392" stop-color="#0070ff"/><stop offset="0.443" stop-color="#0052ff"/><stop offset="0.461" stop-color="#004dff"/><stop offset="0.507" stop-color="#004dff"/></linearGradient>
<linearGradient id="g382" gradientUnits="userSpaceOnUse" x1="0" y1="306.20" x2="0" y2="332.40"><stop offset="0.000" stop-color="#65ff9a"/><stop offset="0.066" stop-color="#5dffa2"/><stop offset="0.155" stop-color="#22ffdd"/><stop offset="0.217" stop-color="#00faff"/><stop offset="0.266" stop-color="#00caff"/><stop offset="0.328" stop-color="#00a6ff"/><stop offset="0.376" stop-color="#006eff"/><stop offset="0.425" stop-color="#0052ff"/><stop offset="0.443" stop-color="#004dff"/><stop offset="0.487" stop-color="#004dff"/></linearGradient>
<linearGradient id="g383" gradientUnits="userSpaceOnUse" x1="0" y1="306.20" x2="0" y2="332.40"><stop offset="0.000" stop-color="#55ffaa"/><stop offset="0.062" stop-color="#4dffb2"/><stop offset="0.145" stop-color="#16ffe9"/><stop offset="0.204" stop-color="#00f0ff"/><stop offset="0.249" stop-color="#00c3ff"/><stop offset="0.308" stop-color="#00a1ff"/><stop offset="0.353" stop-color="#006cff"/><stop offset="0.399" stop-color="#0052ff"/><stop offset="0.416" stop-color="#004dff"/><stop offset="0.457" stop-color="#004dff"/></linearGradient>
<linearGradient id="g384" gradientUnits="userSpaceOnUse" x1="0" y1="306.20" x2="0" y2="332.40"><stop offset="0.000" stop-color="#45ffba"/><stop offset="0.058" stop-color="#3dffc2"/><stop offset="0.136" stop-color="#09fff6"/><stop offset="0.190" stop-color="#00e6ff"/><stop offset="0.233" stop-color="#00bcff"/><stop offset="0.288" stop-color="#009cff"/><stop offset="0.330" stop-color="#006aff"/><stop offset="0.373" stop-color="#0051ff"/><stop offset="0.389" stop-color="#004dff"/><stop offset="0.427" stop-color="#004dff"/></linearGradient>
<linearGradient id="g385" gradientUnits="userSpaceOnUse" x1="0" y1="306.20" x2="0" y2="332.40"><stop offset="0.000" stop-color="#34ffcb"/><stop offset="0.054" stop-color="#2dffd2"/><stop offset="0.127" stop-color="#00fcff"/><stop offset="0.177" stop-color="#00dbff"/><stop offset="0.217" stop-color="#00b4ff"/><stop offset="0.268" stop-color="#0096ff"/><stop offset="0.307" stop-color="#0068ff"/><stop offset="0.347" stop-color="#0051ff"/><stop offset="0.361" stop-color="#004dff"/><stop offset="0.398" stop-color="#004dff"/></linearGradient>
<linearGradient id="g386" gradientUnits="userSpaceOnUse" x1="0" y1="306.20" x2="0" y2="332.40"><stop offset="0.000" stop-color="#24ffdb"/><stop offset="0.049" stop-color="#1dffe2"/><stop offset="0.113" stop-color="#00efff"/><stop offset="0.159" stop-color="#00d1ff"/><stop offset="0.194" stop-color="#00adff"/><stop offset="0.239" stop-color="#0091ff"/><stop offset="0.275" stop-color="#0066ff"/><stop offset="0.311" stop-color="#0051ff"/><stop offset="0.324" stop-color="#004dff"/><stop offset="0.356" stop-color="#004dff"/></linearGradient>
<linearGradient id="g387" gradientUnits="userSpaceOnUse" x1="0" y1="306.20" x2="0" y2="332.40"><stop offset="0.000" stop-color="#13ffec"/><stop offset="0.043" stop-color="#0dfff2"/><stop offset="0.100" stop-color="#00e3ff"/><stop offset="0.139" stop-color="#00c7ff"/><stop offset="0.171" stop-color="#00a5ff"/><stop offset="0.211" stop-color="#008cff"/><stop offset="0.242" stop-color="#0064ff"/><stop offset="0.273" stop-color="#0050ff"/><stop offset="0.285" stop-color="#004dff"/><stop offset="0.313" stop-color="#004dff"/></linearGradient>
<linearGradient id="g388" gradientUnits="userSpaceOnUse" x1="0" y1="306.20" x2="0" y2="332.40"><stop offset="0.000" stop-color="#00fbff"/><stop offset="0.033" stop-color="#00f6ff"/><stop offset="0.077" stop-color="#00d1ff"/><stop offset="0.108" stop-color="#00b9ff"/><stop offset="0.132" stop-color="#009bff"/><stop offset="0.163" stop-color="#0084ff"/><stop offset="0.187" stop-color="#0061ff"/><stop offset="0.211" stop-color="#0050ff"/><stop offset="0.220" stop-color="#004dff"/><stop offset="0.242" stop-color="#004dff"/></linearGradient>
<linearGradient id="g389" gradientUnits="userSpaceOnUse" x1="0" y1="306.20" x2="0" y2="332.40"><stop offset="0.000" stop-color="#00e2ff"/><stop offset="0.017" stop-color="#00deff"/><stop offset="0.039" stop-color="#00beff"/><stop offset="0.055" stop-color="#00a9ff"/><stop offset="0.068" stop-color="#0090ff"/><stop offset="0.083" stop-color="#007cff"/><stop offset="0.096" stop-color="#005eff"/><stop offset="0.108" stop-color="#004fff"/><stop offset="0.113" stop-color="#004dff"/><stop offset="0.124" stop-color="#004dff"/></linearGradient>
<linearGradient id="g390" gradientUnits="userSpaceOnUse" x1="0" y1="306.20" x2="0" y2="332.40"><stop offset="0.000" stop-color="#00d1ff"/><stop offset="0.003" stop-color="#00cdff"/><stop offset="0.007" stop-color="#00b1ff"/><stop offset="0.009" stop-color="#009fff"/><stop offset="0.011" stop-color="#0088ff"/><stop offset="0.014" stop-color="#0077ff"/><stop offset="0.016" stop-color="#005cff"/><stop offset="0.018" stop-color="#004fff"/><stop offset="0.019" stop-color="#004dff"/><stop offset="0.021" stop-color="#004dff"/></linearGradient>
<linearGradient id="jet" x1="0" y1="0" x2="1" y2="0"><stop offset="0" stop-color="#000080"/><stop offset="0.125" stop-color="#0000ff"/><stop offset="0.375" stop-color="#00ffff"/><stop offset="0.5" stop-color="#80ff80"/><stop offset="0.625" stop-color="#ffff00"/><stop offset="0.875" stop-color="#ff0000"/><stop offset="1" stop-color="#800000"/></linearGradient>
</defs>
<rect width="685" height="409" fill="#fff"/>
<rect x="15" y="0" width="276.2" height="128" fill="#000"/>
<rect x="15" y="0" width="276.2" height="1" fill="#707070"/>
<rect x="15" y="40.8" width="276.2" height="23.7" fill="url(#topdark)"/>
<rect x="15" y="64.5" width="276.2" height="27.5" fill="#c3c3c3"/>
<rect x="15" y="92" width="276.2" height="36" fill="url(#subst)"/>
<g shape-rendering="crispEdges">
<rect x="20" y="65" width="2" height="23" fill="url(#g0)"/>
<rect x="22" y="65" width="2" height="23" fill="url(#g1)"/>
<rect x="24" y="65" width="2" height="23" fill="url(#g2)"/>
<rect x="26" y="65" width="2" height="23" fill="url(#g3)"/>
<rect x="28" y="65" width="2" height="23" fill="url(#g4)"/>
<rect x="30" y="65" width="2" height="23" fill="url(#g5)"/>
<rect x="32" y="65" width="2" height="23" fill="url(#g6)"/>
<rect x="34" y="65" width="2" height="23" fill="url(#g7)"/>
<rect x="36" y="65" width="2" height="23" fill="url(#g8)"/>
<rect x="38" y="65" width="2" height="23" fill="url(#g9)"/>
<rect x="40" y="65" width="2" height="23" fill="url(#g10)"/>
<rect x="42" y="65" width="2" height="23" fill="url(#g11)"/>
<rect x="44" y="65" width="2" height="23" fill="url(#g12)"/>
<rect x="46" y="65" width="2" height="23" fill="url(#g13)"/>
<rect x="48" y="65" width="2" height="23" fill="url(#g14)"/>
<rect x="50" y="65" width="2" height="23" fill="url(#g15)"/>
<rect x="52" y="65" width="2" height="23" fill="url(#g16)"/>
<rect x="54" y="65" width="2" height="23" fill="url(#g17)"/>
<rect x="56" y="65" width="2" height="23" fill="url(#g18)"/>
<rect x="58" y="65" width="2" height="23" fill="url(#g19)"/>
<rect x="60" y="65" width="2" height="23" fill="url(#g20)"/>
<rect x="62" y="65" width="2" height="23" fill="url(#g21)"/>
<rect x="64" y="65" width="2" height="23" fill="url(#g22)"/>
<rect x="66" y="65" width="2" height="23" fill="url(#g23)"/>
<rect x="68" y="65" width="2" height="23" fill="url(#g24)"/>
<rect x="70" y="65" width="2" height="23" fill="url(#g25)"/>
<rect x="72" y="65" width="2" height="23" fill="url(#g26)"/>
<rect x="74" y="65" width="2" height="23" fill="url(#g27)"/>
<rect x="76" y="65" width="2" height="23" fill="url(#g28)"/>
<rect x="78" y="65" width="2" height="23" fill="url(#g29)"/>
<rect x="80" y="65" width="2" height="23" fill="url(#g30)"/>
<rect x="82" y="65" width="2" height="23" fill="url(#g31)"/>
<rect x="84" y="65" width="2" height="23" fill="url(#g32)"/>
<rect x="86" y="65" width="2" height="23" fill="url(#g33)"/>
<rect x="88" y="65" width="2" height="23" fill="url(#g34)"/>
<rect x="90" y="65" width="2" height="23" fill="url(#g35)"/>
<rect x="92" y="65" width="2" height="23" fill="url(#g36)"/>
<rect x="94" y="65" width="2" height="23" fill="url(#g37)"/>
<rect x="96" y="65" width="2" height="23" fill="url(#g38)"/>
<rect x="98" y="65" width="2" height="23" fill="url(#g39)"/>
<rect x="100" y="65" width="2" height="23" fill="url(#g40)"/>
<rect x="102" y="65" width="2" height="23" fill="url(#g41)"/>
<rect x="104" y="65" width="2" height="23" fill="url(#g42)"/>
<rect x="106" y="65" width="2" height="23" fill="url(#g43)"/>
<rect x="108" y="65" width="2" height="23" fill="url(#g44)"/>
<rect x="110" y="65" width="2" height="23" fill="url(#g45)"/>
<rect x="112" y="65" width="2" height="23" fill="url(#g46)"/>
<rect x="114" y="65" width="2" height="23" fill="url(#g47)"/>
<rect x="116" y="65" width="2" height="23" fill="url(#g48)"/>
<rect x="118" y="65" width="2" height="23" fill="url(#g49)"/>
<rect x="120" y="65" width="2" height="23" fill="url(#g50)"/>
<rect x="122" y="65" width="2" height="23" fill="url(#g51)"/>
<rect x="124" y="65" width="2" height="23" fill="url(#g52)"/>
<rect x="126" y="65" width="2" height="23" fill="url(#g53)"/>
<rect x="128" y="65" width="2" height="23" fill="url(#g54)"/>
<rect x="130" y="65" width="2" height="23" fill="url(#g55)"/>
<rect x="132" y="65" width="2" height="23" fill="url(#g56)"/>
<rect x="134" y="65" width="2" height="23" fill="url(#g57)"/>
<rect x="136" y="65" width="2" height="23" fill="url(#g58)"/>
<rect x="138" y="65" width="2" height="23" fill="url(#g59)"/>
<rect x="140" y="65" width="2" height="23" fill="url(#g60)"/>
<rect x="142" y="65" width="2" height="23" fill="url(#g61)"/>
<rect x="144" y="65" width="2" height="23" fill="url(#g62)"/>
<rect x="146" y="65" width="2" height="23" fill="url(#g63)"/>
<rect x="148" y="65" width="2" height="23" fill="url(#g64)"/>
<rect x="150" y="65" width="2" height="23" fill="url(#g65)"/>
<rect x="152" y="65" width="2" height="23" fill="url(#g66)"/>
<rect x="154" y="65" width="2" height="23" fill="url(#g67)"/>
<rect x="156" y="65" width="2" height="23" fill="url(#g68)"/>
<rect x="158" y="65" width="2" height="23" fill="url(#g69)"/>
<rect x="160" y="65" width="2" height="23" fill="url(#g70)"/>
<rect x="162" y="65" width="2" height="23" fill="url(#g71)"/>
<rect x="164" y="65" width="2" height="23" fill="url(#g72)"/>
<rect x="166" y="65" width="2" height="23" fill="url(#g73)"/>
<rect x="168" y="65" width="2" height="23" fill="url(#g74)"/>
<rect x="170" y="65" width="2" height="23" fill="url(#g75)"/>
<rect x="172" y="65" width="2" height="23" fill="url(#g76)"/>
<rect x="174" y="65" width="2" height="23" fill="url(#g77)"/>
<rect x="176" y="65" width="2" height="23" fill="url(#g78)"/>
<rect x="178" y="65" width="2" height="23" fill="url(#g79)"/>
<rect x="180" y="65" width="2" height="23" fill="url(#g80)"/>
<rect x="182" y="65" width="2" height="23" fill="url(#g81)"/>
<rect x="184" y="65" width="2" height="23" fill="url(#g82)"/>
<rect x="186" y="65" width="2" height="23" fill="url(#g83)"/>
<rect x="188" y="65" width="2" height="23" fill="url(#g84)"/>
<rect x="190" y="65" width="2" height="23" fill="url(#g85)"/>
<rect x="192" y="65" width="2" height="23" fill="url(#g86)"/>
<rect x="194" y="65" width="2" height="23" fill="url(#g87)"/>
<rect x="196" y="65" width="2" height="23" fill="url(#g88)"/>
<rect x="198" y="65" width="2" height="23" fill="url(#g89)"/>
<rect x="200" y="65" width="2" height="23" fill="url(#g90)"/>
<rect x="202" y="65" width="2" height="23" fill="url(#g91)"/>
<rect x="204" y="65" width="2" height="23" fill="url(#g92)"/>
<rect x="206" y="65" width="2" height="23" fill="url(#g93)"/>
<rect x="208" y="65" width="2" height="23" fill="url(#g94)"/>
<rect x="210" y="65" width="2" height="23" fill="url(#g95)"/>
<rect x="212" y="65" width="2" height="23" fill="url(#g96)"/>
<rect x="214" y="65" width="2" height="23" fill="url(#g97)"/>
<rect x="216" y="65" width="2" height="23" fill="url(#g98)"/>
<rect x="218" y="65" width="2" height="23" fill="url(#g99)"/>
<rect x="220" y="65" width="2" height="23" fill="url(#g100)"/>
<rect x="222" y="65" width="2" height="23" fill="url(#g101)"/>
<rect x="224" y="65" width="2" height="23" fill="url(#g102)"/>
<rect x="226" y="65" width="2" height="23" fill="url(#g103)"/>
<rect x="228" y="65" width="2" height="23" fill="url(#g104)"/>
<rect x="230" y="65" width="2" height="23" fill="url(#g105)"/>
<rect x="232" y="65" width="2" height="23" fill="url(#g106)"/>
<rect x="234" y="65" width="2" height="23" fill="url(#g107)"/>
<rect x="236" y="65" width="2" height="23" fill="url(#g108)"/>
<rect x="238" y="65" width="2" height="23" fill="url(#g109)"/>
<rect x="240" y="65" width="2" height="23" fill="url(#g110)"/>
<rect x="242" y="65" width="2" height="23" fill="url(#g111)"/>
<rect x="244" y="65" width="2" height="23" fill="url(#g112)"/>
<rect x="246" y="65" width="2" height="23" fill="url(#g113)"/>
<rect x="248" y="65" width="2" height="23" fill="url(#g114)"/>
<rect x="250" y="65" width="2" height="23" fill="url(#g115)"/>
<rect x="252" y="65" width="2" height="23" fill="url(#g116)"/>
<rect x="254" y="65" width="2" height="23" fill="url(#g117)"/>
<rect x="256" y="65" width="2" height="23" fill="url(#g118)"/>
<rect x="258" y="65" width="2" height="23" fill="url(#g119)"/>
<rect x="260" y="65" width="2" height="23" fill="url(#g120)"/>
<rect x="262" y="65" width="2" height="23" fill="url(#g121)"/>
<rect x="264" y="65" width="2" height="23" fill="url(#g122)"/>
<rect x="266" y="65" width="2" height="23" fill="url(#g123)"/>
<rect x="268" y="65" width="2" height="23" fill="url(#g124)"/>
<rect x="270" y="65" width="2" height="23" fill="url(#g125)"/>
<rect x="272" y="65" width="2" height="23" fill="url(#g126)"/>
</g>
<rect x="15" y="64.5" width="276.2" height="1.2" fill="#dadada"/>
<rect x="15" y="88.5" width="276.2" height="3.5" fill="#c6c6c6" opacity="0.5"/>
<ellipse cx="277.5" cy="64.8" rx="2" ry="0.9" fill="#f4f4f4"/>
<line x1="153.3" y1="37" x2="153.3" y2="106" stroke="#d8d8d8" stroke-width="1" stroke-dasharray="2.5,1.5"/>
<path d="M149.3,106 L157,106 L153.2,113 Z" fill="#fff"/>
<text x="19.90" y="18.90" font-size="12" font-weight="bold" letter-spacing="0.062" fill="#fff">HAADF</text>
<text x="131.76" y="28.00" font-size="12" letter-spacing="0.212" fill="#f2f2f2">(Depth)</text>
<text x="19.63" y="87.70" font-size="12.5" letter-spacing="-0.322" fill="#1c1c1c">SiGe</text>
<text x="17.23" y="119.60" font-size="12.5" letter-spacing="-0.153" fill="#e8e8e8">Si substrate</text>
<text x="248.95" y="118.00" font-size="12.5" letter-spacing="-0.154" fill="#fff">1 µm</text>
<rect x="240.7" y="122.3" width="46.4" height="3.5" fill="#fff"/>
<text x="-0.98" y="19.70" font-size="16.5" font-weight="bold" fill="#000">a</text>
<rect x="15" y="139.4" width="276.2" height="118.9" fill="#000"/>
<g clip-path="url(#cb)"><g filter="url(#nz)" shape-rendering="crispEdges">
<rect x="15" y="188" width="2" height="36" fill="url(#g127)"/>
<rect x="17" y="188" width="2" height="36" fill="url(#g128)"/>
<rect x="19" y="188" width="2" height="36" fill="url(#g129)"/>
<rect x="21" y="188" width="2" height="36" fill="url(#g130)"/>
<rect x="23" y="188" width="2" height="36" fill="url(#g131)"/>
<rect x="25" y="188" width="2" height="36" fill="url(#g132)"/>
<rect x="27" y="188" width="2" height="36" fill="url(#g133)"/>
<rect x="29" y="188" width="2" height="36" fill="url(#g134)"/>
<rect x="31" y="188" width="2" height="36" fill="url(#g135)"/>
<rect x="33" y="188" width="2" height="36" fill="url(#g136)"/>
<rect x="35" y="188" width="2" height="36" fill="url(#g137)"/>
<rect x="37" y="188" width="2" height="36" fill="url(#g138)"/>
<rect x="39" y="188" width="2" height="36" fill="url(#g139)"/>
<rect x="41" y="188" width="2" height="36" fill="url(#g140)"/>
<rect x="43" y="188" width="2" height="36" fill="url(#g141)"/>
<rect x="45" y="188" width="2" height="36" fill="url(#g142)"/>
<rect x="47" y="188" width="2" height="36" fill="url(#g143)"/>
<rect x="49" y="188" width="2" height="36" fill="url(#g144)"/>
<rect x="51" y="188" width="2" height="36" fill="url(#g145)"/>
<rect x="53" y="188" width="2" height="36" fill="url(#g146)"/>
<rect x="55" y="188" width="2" height="36" fill="url(#g147)"/>
<rect x="57" y="188" width="2" height="36" fill="url(#g148)"/>
<rect x="59" y="188" width="2" height="36" fill="url(#g149)"/>
<rect x="61" y="188" width="2" height="36" fill="url(#g150)"/>
<rect x="63" y="188" width="2" height="36" fill="url(#g151)"/>
<rect x="65" y="188" width="2" height="36" fill="url(#g152)"/>
<rect x="67" y="188" width="2" height="36" fill="url(#g153)"/>
<rect x="69" y="188" width="2" height="36" fill="url(#g154)"/>
<rect x="71" y="188" width="2" height="36" fill="url(#g155)"/>
<rect x="73" y="188" width="2" height="36" fill="url(#g156)"/>
<rect x="75" y="188" width="2" height="36" fill="url(#g157)"/>
<rect x="77" y="188" width="2" height="36" fill="url(#g158)"/>
<rect x="79" y="188" width="2" height="36" fill="url(#g159)"/>
<rect x="81" y="188" width="2" height="36" fill="url(#g160)"/>
<rect x="83" y="188" width="2" height="36" fill="url(#g161)"/>
<rect x="85" y="188" width="2" height="36" fill="url(#g162)"/>
<rect x="87" y="188" width="2" height="36" fill="url(#g163)"/>
<rect x="89" y="188" width="2" height="36" fill="url(#g164)"/>
<rect x="91" y="188" width="2" height="36" fill="url(#g165)"/>
<rect x="93" y="188" width="2" height="36" fill="url(#g166)"/>
<rect x="95" y="188" width="2" height="36" fill="url(#g167)"/>
<rect x="97" y="188" width="2" height="36" fill="url(#g168)"/>
<rect x="99" y="188" width="2" height="36" fill="url(#g169)"/>
<rect x="101" y="188" width="2" height="36" fill="url(#g170)"/>
<rect x="103" y="188" width="2" height="36" fill="url(#g171)"/>
<rect x="105" y="188" width="2" height="36" fill="url(#g172)"/>
<rect x="107" y="188" width="2" height="36" fill="url(#g173)"/>
<rect x="109" y="188" width="2" height="36" fill="url(#g174)"/>
<rect x="111" y="188" width="2" height="36" fill="url(#g175)"/>
<rect x="113" y="188" width="2" height="36" fill="url(#g176)"/>
<rect x="115" y="188" width="2" height="36" fill="url(#g177)"/>
<rect x="117" y="188" width="2" height="36" fill="url(#g178)"/>
<rect x="119" y="188" width="2" height="36" fill="url(#g179)"/>
<rect x="121" y="188" width="2" height="36" fill="url(#g180)"/>
<rect x="123" y="188" width="2" height="36" fill="url(#g181)"/>
<rect x="125" y="188" width="2" height="36" fill="url(#g182)"/>
<rect x="127" y="188" width="2" height="36" fill="url(#g183)"/>
<rect x="129" y="188" width="2" height="36" fill="url(#g184)"/>
<rect x="131" y="188" width="2" height="36" fill="url(#g185)"/>
<rect x="133" y="188" width="2" height="36" fill="url(#g186)"/>
<rect x="135" y="188" width="2" height="36" fill="url(#g187)"/>
<rect x="137" y="188" width="2" height="36" fill="url(#g188)"/>
<rect x="139" y="188" width="2" height="36" fill="url(#g189)"/>
<rect x="141" y="188" width="2" height="36" fill="url(#g190)"/>
<rect x="143" y="188" width="2" height="36" fill="url(#g191)"/>
<rect x="145" y="188" width="2" height="36" fill="url(#g192)"/>
<rect x="147" y="188" width="2" height="36" fill="url(#g193)"/>
<rect x="149" y="188" width="2" height="36" fill="url(#g194)"/>
<rect x="151" y="188" width="2" height="36" fill="url(#g195)"/>
<rect x="153" y="188" width="2" height="36" fill="url(#g196)"/>
<rect x="155" y="188" width="2" height="36" fill="url(#g197)"/>
<rect x="157" y="188" width="2" height="36" fill="url(#g198)"/>
<rect x="159" y="188" width="2" height="36" fill="url(#g199)"/>
<rect x="161" y="188" width="2" height="36" fill="url(#g200)"/>
<rect x="163" y="188" width="2" height="36" fill="url(#g201)"/>
<rect x="165" y="188" width="2" height="36" fill="url(#g202)"/>
<rect x="167" y="188" width="2" height="36" fill="url(#g203)"/>
<rect x="169" y="188" width="2" height="36" fill="url(#g204)"/>
<rect x="171" y="188" width="2" height="36" fill="url(#g205)"/>
<rect x="173" y="188" width="2" height="36" fill="url(#g206)"/>
<rect x="175" y="188" width="2" height="36" fill="url(#g207)"/>
<rect x="177" y="188" width="2" height="36" fill="url(#g208)"/>
<rect x="179" y="188" width="2" height="36" fill="url(#g209)"/>
<rect x="181" y="188" width="2" height="36" fill="url(#g210)"/>
<rect x="183" y="188" width="2" height="36" fill="url(#g211)"/>
<rect x="185" y="188" width="2" height="36" fill="url(#g212)"/>
<rect x="187" y="188" width="2" height="36" fill="url(#g213)"/>
<rect x="189" y="188" width="2" height="36" fill="url(#g214)"/>
<rect x="191" y="188" width="2" height="36" fill="url(#g215)"/>
<rect x="193" y="188" width="2" height="36" fill="url(#g216)"/>
<rect x="195" y="188" width="2" height="36" fill="url(#g217)"/>
<rect x="197" y="188" width="2" height="36" fill="url(#g218)"/>
<rect x="199" y="188" width="2" height="36" fill="url(#g219)"/>
<rect x="201" y="188" width="2" height="36" fill="url(#g220)"/>
<rect x="203" y="188" width="2" height="36" fill="url(#g221)"/>
<rect x="205" y="188" width="2" height="36" fill="url(#g222)"/>
<rect x="207" y="188" width="2" height="36" fill="url(#g223)"/>
<rect x="209" y="188" width="2" height="36" fill="url(#g224)"/>
<rect x="211" y="188" width="2" height="36" fill="url(#g225)"/>
<rect x="213" y="188" width="2" height="36" fill="url(#g226)"/>
<rect x="215" y="188" width="2" height="36" fill="url(#g227)"/>
<rect x="217" y="188" width="2" height="36" fill="url(#g228)"/>
<rect x="219" y="188" width="2" height="36" fill="url(#g229)"/>
<rect x="221" y="188" width="2" height="36" fill="url(#g230)"/>
<rect x="223" y="188" width="2" height="36" fill="url(#g231)"/>
<rect x="225" y="188" width="2" height="36" fill="url(#g232)"/>
<rect x="227" y="188" width="2" height="36" fill="url(#g233)"/>
<rect x="229" y="188" width="2" height="36" fill="url(#g234)"/>
<rect x="231" y="188" width="2" height="36" fill="url(#g235)"/>
<rect x="233" y="188" width="2" height="36" fill="url(#g236)"/>
<rect x="235" y="188" width="2" height="36" fill="url(#g237)"/>
<rect x="237" y="188" width="2" height="36" fill="url(#g238)"/>
<rect x="239" y="188" width="2" height="36" fill="url(#g239)"/>
<rect x="241" y="188" width="2" height="36" fill="url(#g240)"/>
<rect x="243" y="188" width="2" height="36" fill="url(#g241)"/>
<rect x="245" y="188" width="2" height="36" fill="url(#g242)"/>
<rect x="247" y="188" width="2" height="36" fill="url(#g243)"/>
<rect x="249" y="188" width="2" height="36" fill="url(#g244)"/>
<rect x="251" y="188" width="2" height="36" fill="url(#g245)"/>
<rect x="253" y="188" width="2" height="36" fill="url(#g246)"/>
<rect x="255" y="188" width="2" height="36" fill="url(#g247)"/>
<rect x="257" y="188" width="2" height="36" fill="url(#g248)"/>
<rect x="259" y="188" width="2" height="36" fill="url(#g249)"/>
<rect x="261" y="188" width="2" height="36" fill="url(#g250)"/>
<rect x="263" y="188" width="2" height="36" fill="url(#g251)"/>
<rect x="265" y="188" width="2" height="36" fill="url(#g252)"/>
<rect x="267" y="188" width="2" height="36" fill="url(#g253)"/>
<rect x="269" y="188" width="2" height="36" fill="url(#g254)"/>
<rect x="271" y="188" width="2" height="36" fill="url(#g255)"/>
<rect x="273" y="188" width="2" height="36" fill="url(#g256)"/>
<rect x="275" y="188" width="2" height="36" fill="url(#g257)"/>
<rect x="277" y="188" width="2" height="36" fill="url(#g258)"/>
<rect x="279" y="188" width="2" height="36" fill="url(#g259)"/>
<rect x="281" y="188" width="2" height="36" fill="url(#g260)"/>
<rect x="283" y="188" width="2" height="36" fill="url(#g261)"/>
<rect x="285" y="188" width="2" height="36" fill="url(#g262)"/>
<rect x="287" y="188" width="2" height="36" fill="url(#g263)"/>
<rect x="289" y="188" width="2" height="36" fill="url(#g264)"/>
<rect x="291" y="188" width="2" height="36" fill="url(#g265)"/>
</g></g>
<rect x="15" y="139.4" width="276.2" height="1" fill="#6a6a6a"/>
<rect x="50.6" y="150.5" width="1.6" height="1.6" fill="#e00000"/>
<rect x="92.5" y="154.2" width="1.6" height="1.6" fill="#e00000"/>
<rect x="125.7" y="167.9" width="1.6" height="1.6" fill="#d00000"/>
<rect x="134.9" y="167.9" width="1.6" height="1.6" fill="#d00000"/>
<rect x="137.5" y="167.9" width="1.6" height="1.6" fill="#d00000"/>
<rect x="152.9" y="164.2" width="1.6" height="1.6" fill="#d00000"/>
<rect x="69.4" y="169.3" width="1.6" height="1.6" fill="#00c080"/>
<rect x="64.2" y="168.9" width="1.6" height="1.6" fill="#0000a0"/>
<rect x="87.4" y="168.9" width="1.6" height="1.6" fill="#0000a0"/>
<rect x="152.3" y="164.1" width="1.6" height="1.6" fill="#d00000"/>
<rect x="185.9" y="150.0" width="1.6" height="1.6" fill="#d00000"/>
<rect x="238.4" y="151.7" width="1.6" height="1.6" fill="#e00000"/>
<rect x="272.6" y="166.2" width="1.6" height="1.6" fill="#d00000"/>
<rect x="255.0" y="144.8" width="1.6" height="1.6" fill="#0090e0"/>
<text x="20.00" y="157.00" font-size="12" font-weight="bold" letter-spacing="0.317" fill="#fff">EDX</text>
<text x="245.85" y="246.00" font-size="12.5" letter-spacing="-0.088" fill="#fff">1 µm</text>
<rect x="238.9" y="250.3" width="46.6" height="3.5" fill="#fff"/>
<text x="-1.89" y="157.90" font-size="16.5" font-weight="bold" fill="#000">b</text>
<rect x="15" y="306.2" width="276" height="26.2" fill="#80ff80"/>
<rect x="15" y="332.4" width="276" height="32" fill="#000080"/>
<g clip-path="url(#cc)"><g shape-rendering="crispEdges">
<rect x="24" y="306" width="2" height="3.5" fill="url(#g266)"/>
<rect x="26" y="306" width="2" height="7.3" fill="url(#g267)"/>
<rect x="28" y="306" width="2" height="10.3" fill="url(#g268)"/>
<rect x="30" y="306" width="2" height="11.7" fill="url(#g269)"/>
<rect x="32" y="306" width="2" height="13.1" fill="url(#g270)"/>
<rect x="34" y="306" width="2" height="13.8" fill="url(#g271)"/>
<rect x="36" y="306" width="2" height="14.4" fill="url(#g272)"/>
<rect x="38" y="306" width="2" height="15.0" fill="url(#g273)"/>
<rect x="40" y="306" width="2" height="15.6" fill="url(#g274)"/>
<rect x="42" y="306" width="2" height="16.2" fill="url(#g275)"/>
<rect x="44" y="306" width="2" height="16.8" fill="url(#g276)"/>
<rect x="46" y="306" width="2" height="17.4" fill="url(#g277)"/>
<rect x="48" y="306" width="2" height="18.0" fill="url(#g278)"/>
<rect x="50" y="306" width="2" height="18.6" fill="url(#g279)"/>
<rect x="52" y="306" width="2" height="18.8" fill="url(#g280)"/>
<rect x="54" y="306" width="2" height="19.1" fill="url(#g281)"/>
<rect x="56" y="306" width="2" height="19.4" fill="url(#g282)"/>
<rect x="58" y="306" width="2" height="19.7" fill="url(#g283)"/>
<rect x="60" y="306" width="2" height="20.0" fill="url(#g284)"/>
<rect x="62" y="306" width="2" height="20.2" fill="url(#g285)"/>
<rect x="64" y="306" width="2" height="20.5" fill="url(#g286)"/>
<rect x="66" y="306" width="2" height="20.9" fill="url(#g287)"/>
<rect x="68" y="306" width="2" height="21.2" fill="url(#g288)"/>
<rect x="70" y="306" width="2" height="21.5" fill="url(#g289)"/>
<rect x="72" y="306" width="2" height="21.8" fill="url(#g290)"/>
<rect x="74" y="306" width="2" height="22.0" fill="url(#g291)"/>
<rect x="76" y="306" width="2" height="22.3" fill="url(#g292)"/>
<rect x="78" y="306" width="2" height="22.4" fill="url(#g293)"/>
<rect x="80" y="306" width="2" height="22.5" fill="url(#g294)"/>
<rect x="82" y="306" width="2" height="22.6" fill="url(#g295)"/>
<rect x="84" y="306" width="2" height="22.7" fill="url(#g296)"/>
<rect x="86" y="306" width="2" height="22.9" fill="url(#g297)"/>
<rect x="88" y="306" width="2" height="23.0" fill="url(#g298)"/>
<rect x="90" y="306" width="2" height="23.1" fill="url(#g299)"/>
<rect x="92" y="306" width="2" height="23.2" fill="url(#g300)"/>
<rect x="94" y="306" width="2" height="23.3" fill="url(#g301)"/>
<rect x="96" y="306" width="2" height="23.4" fill="url(#g302)"/>
<rect x="98" y="306" width="2" height="23.5" fill="url(#g303)"/>
<rect x="100" y="306" width="2" height="23.6" fill="url(#g304)"/>
<rect x="102" y="306" width="2" height="23.7" fill="url(#g305)"/>
<rect x="104" y="306" width="2" height="23.8" fill="url(#g306)"/>
<rect x="106" y="306" width="2" height="23.9" fill="url(#g307)"/>
<rect x="108" y="306" width="2" height="23.9" fill="url(#g308)"/>
<rect x="110" y="306" width="2" height="24.0" fill="url(#g309)"/>
<rect x="112" y="306" width="2" height="24.1" fill="url(#g310)"/>
<rect x="114" y="306" width="2" height="24.2" fill="url(#g311)"/>
<rect x="116" y="306" width="2" height="24.3" fill="url(#g312)"/>
<rect x="118" y="306" width="2" height="24.3" fill="url(#g313)"/>
<rect x="120" y="306" width="2" height="24.4" fill="url(#g314)"/>
<rect x="122" y="306" width="2" height="24.4" fill="url(#g315)"/>
<rect x="124" y="306" width="2" height="24.4" fill="url(#g316)"/>
<rect x="126" y="306" width="2" height="24.4" fill="url(#g317)"/>
<rect x="128" y="306" width="2" height="24.5" fill="url(#g318)"/>
<rect x="130" y="306" width="2" height="24.5" fill="url(#g319)"/>
<rect x="132" y="306" width="2" height="24.5" fill="url(#g320)"/>
<rect x="134" y="306" width="2" height="24.6" fill="url(#g321)"/>
<rect x="136" y="306" width="2" height="24.6" fill="url(#g322)"/>
<rect x="138" y="306" width="2" height="24.6" fill="url(#g323)"/>
<rect x="140" y="306" width="2" height="24.7" fill="url(#g324)"/>
<rect x="142" y="306" width="2" height="24.7" fill="url(#g325)"/>
<rect x="144" y="306" width="2" height="24.7" fill="url(#g326)"/>
<rect x="146" y="306" width="2" height="24.8" fill="url(#g327)"/>
<rect x="148" y="306" width="2" height="24.8" fill="url(#g328)"/>
<rect x="150" y="306" width="2" height="24.8" fill="url(#g329)"/>
<rect x="152" y="306" width="2" height="24.7" fill="url(#g330)"/>
<rect x="154" y="306" width="2" height="24.7" fill="url(#g331)"/>
<rect x="156" y="306" width="2" height="24.7" fill="url(#g332)"/>
<rect x="158" y="306" width="2" height="24.6" fill="url(#g333)"/>
<rect x="160" y="306" width="2" height="24.6" fill="url(#g334)"/>
<rect x="162" y="306" width="2" height="24.5" fill="url(#g335)"/>
<rect x="164" y="306" width="2" height="24.5" fill="url(#g336)"/>
<rect x="166" y="306" width="2" height="24.5" fill="url(#g337)"/>
<rect x="168" y="306" width="2" height="24.4" fill="url(#g338)"/>
<rect x="170" y="306" width="2" height="24.4" fill="url(#g339)"/>
<rect x="172" y="306" width="2" height="24.3" fill="url(#g340)"/>
<rect x="174" y="306" width="2" height="24.3" fill="url(#g341)"/>
<rect x="176" y="306" width="2" height="24.2" fill="url(#g342)"/>
<rect x="178" y="306" width="2" height="24.1" fill="url(#g343)"/>
<rect x="180" y="306" width="2" height="24.1" fill="url(#g344)"/>
<rect x="182" y="306" width="2" height="24.0" fill="url(#g345)"/>
<rect x="184" y="306" width="2" height="23.9" fill="url(#g346)"/>
<rect x="186" y="306" width="2" height="23.9" fill="url(#g347)"/>
<rect x="188" y="306" width="2" height="23.8" fill="url(#g348)"/>
<rect x="190" y="306" width="2" height="23.7" fill="url(#g349)"/>
<rect x="192" y="306" width="2" height="23.6" fill="url(#g350)"/>
<rect x="194" y="306" width="2" height="23.4" fill="url(#g351)"/>
<rect x="196" y="306" width="2" height="23.3" fill="url(#g352)"/>
<rect x="198" y="306" width="2" height="23.2" fill="url(#g353)"/>
<rect x="200" y="306" width="2" height="23.0" fill="url(#g354)"/>
<rect x="202" y="306" width="2" height="22.9" fill="url(#g355)"/>
<rect x="204" y="306" width="2" height="22.7" fill="url(#g356)"/>
<rect x="206" y="306" width="2" height="22.6" fill="url(#g357)"/>
<rect x="208" y="306" width="2" height="22.4" fill="url(#g358)"/>
<rect x="210" y="306" width="2" height="22.3" fill="url(#g359)"/>
<rect x="212" y="306" width="2" height="22.1" fill="url(#g360)"/>
<rect x="214" y="306" width="2" height="22.0" fill="url(#g361)"/>
<rect x="216" y="306" width="2" height="21.7" fill="url(#g362)"/>
<rect x="218" y="306" width="2" height="21.4" fill="url(#g363)"/>
<rect x="220" y="306" width="2" height="21.1" fill="url(#g364)"/>
<rect x="222" y="306" width="2" height="20.8" fill="url(#g365)"/>
<rect x="224" y="306" width="2" height="20.5" fill="url(#g366)"/>
<rect x="226" y="306" width="2" height="20.2" fill="url(#g367)"/>
<rect x="228" y="306" width="2" height="19.9" fill="url(#g368)"/>
<rect x="230" y="306" width="2" height="19.6" fill="url(#g369)"/>
<rect x="232" y="306" width="2" height="19.3" fill="url(#g370)"/>
<rect x="234" y="306" width="2" height="18.9" fill="url(#g371)"/>
<rect x="236" y="306" width="2" height="18.5" fill="url(#g372)"/>
<rect x="238" y="306" width="2" height="18.1" fill="url(#g373)"/>
<rect x="240" y="306" width="2" height="17.7" fill="url(#g374)"/>
<rect x="242" y="306" width="2" height="17.3" fill="url(#g375)"/>
<rect x="244" y="306" width="2" height="17.0" fill="url(#g376)"/>
<rect x="246" y="306" width="2" height="16.7" fill="url(#g377)"/>
<rect x="248" y="306" width="2" height="16.4" fill="url(#g378)"/>
<rect x="250" y="306" width="2" height="16.1" fill="url(#g379)"/>
<rect x="252" y="306" width="2" height="15.6" fill="url(#g380)"/>
<rect x="254" y="306" width="2" height="15.1" fill="url(#g381)"/>
<rect x="256" y="306" width="2" height="14.6" fill="url(#g382)"/>
<rect x="258" y="306" width="2" height="13.9" fill="url(#g383)"/>
<rect x="260" y="306" width="2" height="13.2" fill="url(#g384)"/>
<rect x="262" y="306" width="2" height="12.5" fill="url(#g385)"/>
<rect x="264" y="306" width="2" height="11.5" fill="url(#g386)"/>
<rect x="266" y="306" width="2" height="10.5" fill="url(#g387)"/>
<rect x="268" y="306" width="2" height="8.8" fill="url(#g388)"/>
<rect x="270" y="306" width="2" height="6.0" fill="url(#g389)"/>
<rect x="272" y="306" width="2" height="3.5" fill="url(#g390)"/>
</g></g>
<line x1="15.2" y1="268.8" x2="15.2" y2="332.4" stroke="#8c8c8c" stroke-width="1"/>
<line x1="291.1" y1="268.8" x2="291.1" y2="332.4" stroke="#8c8c8c" stroke-width="1"/>
<line x1="15.2" y1="332.4" x2="15.2" y2="364.4" stroke="#0a0a50" stroke-width="1"/>
<line x1="291.1" y1="332.4" x2="291.1" y2="364.4" stroke="#0a0a50" stroke-width="1"/>
<line x1="15" y1="364" x2="291.6" y2="364" stroke="#0a0a50" stroke-width="0.9"/>
<line x1="14.7" y1="269" x2="291.6" y2="269" stroke="#5a5a5a" stroke-width="1.5"/>
<line x1="15.3" y1="268.5" x2="15.3" y2="277.7" stroke="#505050" stroke-width="1.3"/>
<line x1="291.0" y1="268.5" x2="291.0" y2="277.7" stroke="#505050" stroke-width="1.3"/>
<text x="22.99" y="284.70" font-size="12.3" letter-spacing="-0.020" fill="#111">Phase-field simulation</text>
<text x="-0.94" y="285.90" font-size="16.5" font-weight="bold" fill="#000">c</text>
<rect x="43.5" y="368.9" width="224.6" height="9.7" fill="url(#jet)" stroke="#333" stroke-width="0.5"/>
<line x1="43.5" y1="368.9" x2="43.5" y2="370.4" stroke="#111" stroke-width="0.7"/>
<line x1="43.5" y1="377.1" x2="43.5" y2="378.6" stroke="#111" stroke-width="0.7"/>
<line x1="66.0" y1="368.9" x2="66.0" y2="370.4" stroke="#111" stroke-width="0.7"/>
<line x1="66.0" y1="377.1" x2="66.0" y2="378.6" stroke="#111" stroke-width="0.7"/>
<line x1="88.4" y1="368.9" x2="88.4" y2="370.4" stroke="#111" stroke-width="0.7"/>
<line x1="88.4" y1="377.1" x2="88.4" y2="378.6" stroke="#111" stroke-width="0.7"/>
<line x1="110.9" y1="368.9" x2="110.9" y2="370.4" stroke="#111" stroke-width="0.7"/>
<line x1="110.9" y1="377.1" x2="110.9" y2="378.6" stroke="#111" stroke-width="0.7"/>
<line x1="133.3" y1="368.9" x2="133.3" y2="370.4" stroke="#111" stroke-width="0.7"/>
<line x1="133.3" y1="377.1" x2="133.3" y2="378.6" stroke="#111" stroke-width="0.7"/>
<line x1="155.8" y1="368.9" x2="155.8" y2="370.4" stroke="#111" stroke-width="0.7"/>
<line x1="155.8" y1="377.1" x2="155.8" y2="378.6" stroke="#111" stroke-width="0.7"/>
<line x1="178.3" y1="368.9" x2="178.3" y2="370.4" stroke="#111" stroke-width="0.7"/>
<line x1="178.3" y1="377.1" x2="178.3" y2="378.6" stroke="#111" stroke-width="0.7"/>
<line x1="200.7" y1="368.9" x2="200.7" y2="370.4" stroke="#111" stroke-width="0.7"/>
<line x1="200.7" y1="377.1" x2="200.7" y2="378.6" stroke="#111" stroke-width="0.7"/>
<line x1="223.2" y1="368.9" x2="223.2" y2="370.4" stroke="#111" stroke-width="0.7"/>
<line x1="223.2" y1="377.1" x2="223.2" y2="378.6" stroke="#111" stroke-width="0.7"/>
<line x1="245.6" y1="368.9" x2="245.6" y2="370.4" stroke="#111" stroke-width="0.7"/>
<line x1="245.6" y1="377.1" x2="245.6" y2="378.6" stroke="#111" stroke-width="0.7"/>
<line x1="268.1" y1="368.9" x2="268.1" y2="370.4" stroke="#111" stroke-width="0.7"/>
<line x1="268.1" y1="377.1" x2="268.1" y2="378.6" stroke="#111" stroke-width="0.7"/>
<text x="41.32" y="391.00" font-size="12.3" fill="#1a1a1a">0</text>
<text x="79.22" y="391.00" font-size="12.3" letter-spacing="0.350" fill="#1a1a1a">0.2</text>
<text x="125.02" y="391.00" font-size="12.3" letter-spacing="0.021" fill="#1a1a1a">0.4</text>
<text x="170.42" y="391.00" font-size="12.3" letter-spacing="0.261" fill="#1a1a1a">0.6</text>
<text x="215.02" y="391.00" font-size="12.3" letter-spacing="0.308" fill="#1a1a1a">0.8</text>
<text x="263.76" y="391.00" font-size="12.3" fill="#1a1a1a">1</text>
<text x="21.34" y="377.00" font-size="12.5" font-weight="bold" letter-spacing="1.035" fill="#1a2a6e">Si</text>
<text x="273.99" y="376.40" font-size="12.5" font-weight="bold" letter-spacing="-0.035" fill="#c01818">Ge</text>
<text x="132" y="406" font-size="13.5" fill="#1a1a1a">Si<tspan font-size="8.8" dy="1.6">1-<tspan font-style="italic">x</tspan></tspan><tspan dy="-1.6">Ge</tspan><tspan font-size="8.8" dy="1.6" font-style="italic">x</tspan></text>
<text x="306.32" y="19.80" font-size="16.5" font-weight="bold" fill="#000">d</text>
<line x1="350.3" y1="0.5" x2="684.6" y2="0.5" stroke="#454545" stroke-width="1.2"/>
<line x1="350.3" y1="0" x2="350.3" y2="364.2" stroke="#8a8a8a" stroke-width="1.3"/>
<line x1="684.2" y1="0" x2="684.2" y2="364.6" stroke="#4a4a4a" stroke-width="1.4"/>
<line x1="350" y1="364.2" x2="684.5" y2="364.2" stroke="#6a6a6a" stroke-width="1.2"/>
<line x1="350.3" y1="364.0" x2="354" y2="364.0" stroke="#6a6a6a" stroke-width="1"/>
<line x1="680.5" y1="364.0" x2="684" y2="364.0" stroke="#6a6a6a" stroke-width="1"/>
<text x="338.84" y="369.50" font-size="12.5" fill="#1a1a1a">0</text>
<line x1="350.3" y1="324.5" x2="354" y2="324.5" stroke="#6a6a6a" stroke-width="1"/>
<line x1="680.5" y1="324.5" x2="684" y2="324.5" stroke="#6a6a6a" stroke-width="1"/>
<text x="331.88" y="329.99" font-size="12.5" fill="#1a1a1a">10</text>
<line x1="350.3" y1="285.0" x2="354" y2="285.0" stroke="#6a6a6a" stroke-width="1"/>
<line x1="680.5" y1="285.0" x2="684" y2="285.0" stroke="#6a6a6a" stroke-width="1"/>
<text x="331.88" y="290.48" font-size="12.5" fill="#1a1a1a">20</text>
<line x1="350.3" y1="245.5" x2="354" y2="245.5" stroke="#6a6a6a" stroke-width="1"/>
<line x1="680.5" y1="245.5" x2="684" y2="245.5" stroke="#6a6a6a" stroke-width="1"/>
<text x="331.88" y="250.97" font-size="12.5" fill="#1a1a1a">30</text>
<line x1="350.3" y1="206.0" x2="354" y2="206.0" stroke="#6a6a6a" stroke-width="1"/>
<line x1="680.5" y1="206.0" x2="684" y2="206.0" stroke="#6a6a6a" stroke-width="1"/>
<text x="331.88" y="211.46" font-size="12.5" fill="#1a1a1a">40</text>
<line x1="350.3" y1="166.4" x2="354" y2="166.4" stroke="#6a6a6a" stroke-width="1"/>
<line x1="680.5" y1="166.4" x2="684" y2="166.4" stroke="#6a6a6a" stroke-width="1"/>
<text x="331.88" y="171.95" font-size="12.5" fill="#1a1a1a">50</text>
<line x1="350.3" y1="126.9" x2="354" y2="126.9" stroke="#6a6a6a" stroke-width="1"/>
<line x1="680.5" y1="126.9" x2="684" y2="126.9" stroke="#6a6a6a" stroke-width="1"/>
<text x="331.88" y="132.44" font-size="12.5" fill="#1a1a1a">60</text>
<line x1="350.3" y1="87.4" x2="354" y2="87.4" stroke="#6a6a6a" stroke-width="1"/>
<line x1="680.5" y1="87.4" x2="684" y2="87.4" stroke="#6a6a6a" stroke-width="1"/>
<text x="331.88" y="92.93" font-size="12.5" fill="#1a1a1a">70</text>
<line x1="350.3" y1="47.9" x2="354" y2="47.9" stroke="#6a6a6a" stroke-width="1"/>
<line x1="680.5" y1="47.9" x2="684" y2="47.9" stroke="#6a6a6a" stroke-width="1"/>
<text x="331.88" y="53.42" font-size="12.5" fill="#1a1a1a">80</text>
<line x1="350.3" y1="8.4" x2="354" y2="8.4" stroke="#6a6a6a" stroke-width="1"/>
<line x1="680.5" y1="8.4" x2="684" y2="8.4" stroke="#6a6a6a" stroke-width="1"/>
<text x="331.88" y="13.91" font-size="12.5" fill="#1a1a1a">90</text>
<line x1="350.1" y1="364.2" x2="350.1" y2="360.5" stroke="#6a6a6a" stroke-width="1"/>
<line x1="350.1" y1="0.5" x2="350.1" y2="4" stroke="#6a6a6a" stroke-width="1"/>
<text x="348.72" y="381.60" font-size="12.5" fill="#1a1a1a">0</text>
<line x1="389.5" y1="364.2" x2="389.5" y2="360.5" stroke="#6a6a6a" stroke-width="1"/>
<line x1="389.5" y1="0.5" x2="389.5" y2="4" stroke="#6a6a6a" stroke-width="1"/>
<text x="383.47" y="381.60" font-size="12.5" fill="#1a1a1a">0.1</text>
<line x1="428.9" y1="364.2" x2="428.9" y2="360.5" stroke="#6a6a6a" stroke-width="1"/>
<line x1="428.9" y1="0.5" x2="428.9" y2="4" stroke="#6a6a6a" stroke-width="1"/>
<text x="422.88" y="381.60" font-size="12.5" fill="#1a1a1a">0.2</text>
<line x1="468.3" y1="364.2" x2="468.3" y2="360.5" stroke="#6a6a6a" stroke-width="1"/>
<line x1="468.3" y1="0.5" x2="468.3" y2="4" stroke="#6a6a6a" stroke-width="1"/>
<text x="462.24" y="381.60" font-size="12.5" fill="#1a1a1a">0.3</text>
<line x1="507.7" y1="364.2" x2="507.7" y2="360.5" stroke="#6a6a6a" stroke-width="1"/>
<line x1="507.7" y1="0.5" x2="507.7" y2="4" stroke="#6a6a6a" stroke-width="1"/>
<text x="501.55" y="381.60" font-size="12.5" fill="#1a1a1a">0.4</text>
<line x1="547.1" y1="364.2" x2="547.1" y2="360.5" stroke="#6a6a6a" stroke-width="1"/>
<line x1="547.1" y1="0.5" x2="547.1" y2="4" stroke="#6a6a6a" stroke-width="1"/>
<text x="541.03" y="381.60" font-size="12.5" fill="#1a1a1a">0.5</text>
<line x1="586.5" y1="364.2" x2="586.5" y2="360.5" stroke="#6a6a6a" stroke-width="1"/>
<line x1="586.5" y1="0.5" x2="586.5" y2="4" stroke="#6a6a6a" stroke-width="1"/>
<text x="580.44" y="381.60" font-size="12.5" fill="#1a1a1a">0.6</text>
<line x1="625.9" y1="364.2" x2="625.9" y2="360.5" stroke="#6a6a6a" stroke-width="1"/>
<line x1="625.9" y1="0.5" x2="625.9" y2="4" stroke="#6a6a6a" stroke-width="1"/>
<text x="619.88" y="381.60" font-size="12.5" fill="#1a1a1a">0.7</text>
<line x1="665.3" y1="364.2" x2="665.3" y2="360.5" stroke="#6a6a6a" stroke-width="1"/>
<line x1="665.3" y1="0.5" x2="665.3" y2="4" stroke="#6a6a6a" stroke-width="1"/>
<text x="659.24" y="381.60" font-size="12.5" fill="#1a1a1a">0.8</text>
<text x="494.39" y="406.00" font-size="13.5" letter-spacing="0.106" fill="#1a1a1a">Depth (µm)</text>
<text transform="translate(320 374.9) rotate(-90)" x="116.23" y="0" font-size="13.3" letter-spacing="0.071" fill="#1a1a1a">Germanium content (%)</text>
<polyline points="350.0,363.0 377.3,363.0 381.7,361.3 385.2,357.3 387.0,350.2 388.3,338.8 389.2,330.0 390.5,310.0 391.4,280.0 392.5,240.0 393.9,216.7 395.4,202.0 396.9,191.7 399.1,185.9 400.0,184.2 402.6,180.4 404.3,182.1 406.0,178.7 408.6,177.8 411.1,176.1 413.7,171.4 414.6,168.0 415.8,164.6 418.0,164.1 420.5,162.0 422.3,164.6 425.7,166.7 427.8,162.8 430.8,164.6 433.0,159.0 434.7,163.7 437.7,163.7 439.8,161.1 441.5,163.7 443.6,163.2 446.4,161.9 449.5,161.0 451.7,162.4 453.7,163.6 456.0,161.4 458.1,162.9 460.7,162.9 463.6,163.5 467.0,158.1 469.3,162.4 471.5,160.9 474.2,163.2 476.4,161.8 478.9,163.1 481.6,162.9 484.7,162.2 487.8,163.8 489.9,163.9 492.9,161.3 495.6,162.9 498.8,162.1 501.6,163.7 504.7,163.9 507.4,163.0 509.7,163.2 512.8,163.0 515.8,161.6 520.0,162.5 523.0,161.5 525.8,164.7 530.0,163.0 533.1,156.0 536.0,163.2 540.0,162.0 544.0,163.5 549.2,160.3 552.0,162.8 556.5,164.0 560.0,162.0 563.8,163.2 567.0,164.8 571.1,165.4 575.5,162.5 578.0,164.0 581.3,164.7 585.0,168.4 588.6,166.9 593.0,170.5 597.4,172.0 601.8,173.5 604.5,174.0 607.6,176.4 610.5,177.2 613.4,180.0 615.1,182.1 617.0,183.2 618.1,186.1 618.7,192.0 618.9,200.0 620.9,300.0 621.8,356.0 623.5,361.5 626.0,363.0 684.0,363.0" fill="none" stroke="#00e600" stroke-width="2.4" stroke-linejoin="round"/>
<polyline points="350.0,362.3 351.6,362.3 353.1,362.3 354.7,362.3 356.3,362.3 357.9,362.3 359.4,362.3 361.0,362.2 362.6,362.2 364.1,362.2 365.7,362.2 367.3,362.2 368.9,362.2 370.4,362.2 372.0,362.2 374.6,361.9 376.4,361.2 378.2,360.6 379.2,358.9 380.2,357.2 381.2,355.5 381.6,353.9 381.9,352.3 382.3,350.8 382.6,349.2 383.0,347.6 383.2,345.8 383.4,344.1 383.5,342.3 383.7,340.6 383.9,338.8 384.1,337.0 384.3,335.3 384.4,333.5 384.6,331.8 384.8,330.0 384.9,328.5 384.9,326.9 385.0,325.4 385.0,323.8 385.1,322.3 385.2,320.8 385.2,319.2 385.3,317.7 385.4,316.2 385.4,314.6 385.5,313.1 385.5,311.5 385.6,310.0 385.6,308.5 385.7,307.0 385.7,305.5 385.8,304.0 385.8,302.5 385.8,301.0 385.9,299.5 385.9,298.0 386.0,296.5 386.0,295.0 386.0,293.5 386.1,292.0 386.1,290.5 386.2,289.0 386.2,287.5 386.2,286.0 386.3,284.5 386.3,283.0 386.4,281.5 386.4,280.0 386.5,278.5 386.5,276.9 386.6,275.4 386.7,273.8 386.7,272.3 386.8,270.8 386.9,269.2 386.9,267.7 387.0,266.2 387.1,264.6 387.1,263.1 387.2,261.5 387.2,260.0 387.3,258.5 387.4,256.9 387.4,255.4 387.5,253.8 387.6,252.3 387.6,250.8 387.7,249.2 387.8,247.7 387.8,246.2 387.9,244.6 388.0,243.1 388.0,241.5 388.1,240.0 388.1,238.5 388.2,237.0 388.2,235.5 388.2,234.0 388.3,232.5 388.3,231.0 388.3,229.5 388.4,228.0 388.4,226.5 388.5,225.0 388.5,223.5 388.5,222.0 388.6,220.5 388.6,219.0 388.6,217.5 388.7,216.0 388.7,214.5 388.7,213.0 388.8,211.5 388.8,210.0 388.8,208.5 388.9,207.0 388.9,205.5 388.9,204.0 389.0,202.5 389.0,201.0 389.0,199.5 389.1,198.0 389.1,196.5 389.1,195.0 389.2,193.5 389.2,192.0 389.3,190.5 389.3,189.0 389.3,187.5 389.4,186.0 389.4,184.5 389.4,183.0 389.5,181.5 389.5,180.0 389.6,178.5 389.6,177.0 389.7,175.5 389.8,174.0 389.8,172.5 389.9,171.0 390.0,169.5 390.0,168.0 390.1,166.5 390.1,165.0 390.2,163.5 390.3,162.0 390.3,160.5 390.4,159.0 390.5,157.5 390.5,156.0 390.6,154.5 390.7,153.0 390.7,151.5 390.8,150.0 390.9,148.5 391.0,147.0 391.1,145.5 391.2,144.0 391.2,142.5 391.3,141.0 391.4,139.5 391.5,138.0 391.6,136.5 391.7,135.0 391.8,133.5 391.9,132.0 392.0,130.5 392.1,129.0 392.2,127.5 392.2,126.0 392.3,124.5 392.4,123.0 392.5,121.5 392.6,120.0 392.8,118.5 392.9,116.9 393.1,115.4 393.2,113.8 393.4,112.3 393.6,110.8 393.7,109.2 393.9,107.7 394.1,106.2 394.2,104.6 394.4,103.1 394.5,101.5 394.7,100.0 394.9,98.4 395.1,96.9 395.3,95.3 395.5,93.8 395.7,92.2 395.9,90.7 396.1,89.1 396.2,87.6 396.4,86.0 396.6,84.5 396.8,82.9 397.0,81.4 397.2,79.8 397.4,78.3 397.6,76.7 397.9,75.2 398.2,73.8 398.6,72.3 398.9,70.8 399.2,69.4 399.5,67.9 399.9,66.4 400.2,65.8 400.5,64.4 401.0,61.9 401.5,60.8 402.0,58.3 402.5,57.7 403.4,55.7 404.2,52.9 405.7,50.9 408.0,52.4 408.9,51.4 409.9,50.5 410.8,48.8 411.9,49.1 413.0,51.6 415.2,49.8 416.2,52.5 417.1,52.7 418.1,54.4 421.0,54.5 422.0,54.6 423.0,55.8 424.0,57.6 425.4,58.7 426.9,59.6 427.6,60.8 428.4,62.8 429.1,63.4 429.9,65.7 432.0,64.8 432.8,66.8 433.5,69.1 434.3,70.4 436.0,73.0 436.9,74.3 437.7,75.6 438.6,77.7 439.4,78.7 440.2,79.8 441.1,81.4 442.6,82.9 444.0,83.7 444.6,84.0 445.1,86.8 445.7,88.6 446.3,89.3 446.6,91.2 446.8,92.3 447.1,94.7 447.3,96.4 447.6,98.4 448.9,98.6 450.1,101.6 451.4,102.1 452.0,103.4 452.7,105.6 453.4,106.7 454.0,108.1 454.6,109.9 455.3,110.3 458.0,112.1 458.6,113.2 459.2,115.6 459.8,116.9 460.4,117.1 461.0,119.1 461.7,120.0 462.4,122.2 463.0,124.5 463.9,126.2 464.9,127.1 465.9,128.4 466.8,129.7 469.0,131.2 469.6,133.2 470.2,133.1 470.7,135.7 471.3,135.7 471.9,137.4 473.2,138.5 474.5,140.3 475.8,140.6 477.1,141.6 477.9,143.7 478.6,144.3 479.4,146.9 480.1,147.4 480.9,149.6 481.4,150.7 481.9,152.1 482.5,154.3 483.0,155.6 483.5,157.1 485.4,157.8 487.3,158.7 488.3,159.6 489.2,161.3 490.2,163.6 491.2,165.2 492.5,166.6 493.7,168.7 495.0,169.8 496.4,171.0 497.8,170.7 499.1,172.4 500.5,173.3 501.3,175.0 502.1,175.5 502.8,177.0 503.6,179.7 504.4,180.0 505.6,182.4 506.8,183.1 507.9,182.8 509.1,183.9 510.7,186.4 512.2,187.1 513.8,188.4 515.3,191.3 516.9,191.6 518.4,193.3 520.0,193.1 521.0,195.0 522.0,196.9 522.9,197.1 523.9,198.8 524.9,201.0 525.8,202.7 526.8,204.2 527.8,204.0 529.0,205.9 530.1,207.5 531.3,208.2 532.5,209.7 533.7,209.8 534.9,210.6 536.0,211.6 537.2,212.5 538.8,214.2 540.3,214.9 541.9,215.8 542.9,216.6 543.6,218.0 544.4,219.4 545.1,221.9 545.8,223.5 546.6,224.7 547.3,224.6 548.8,225.6 550.3,228.3 551.3,226.2 552.2,225.5 553.2,223.5 553.8,225.4 554.3,227.1 554.9,228.6 555.4,230.6 556.6,230.8 557.9,233.2 559.1,234.7 561.3,232.0 562.0,234.0 562.8,236.0 563.5,236.8 565.0,237.6 566.4,238.6 567.9,240.3 569.4,240.5 570.4,243.3 571.3,244.4 572.3,245.5 573.5,246.7 574.8,247.3 576.0,247.8 576.6,249.7 577.2,251.0 577.7,253.3 578.3,254.5 578.9,255.0 579.1,254.6 579.3,252.7 579.5,251.2 579.8,249.7 580.0,247.4 580.2,246.7 580.4,245.1 580.6,243.1 580.7,241.6 580.9,240.0 581.1,237.7 581.2,236.6 581.4,233.8 581.6,232.7 581.7,231.3 581.9,228.8 582.1,227.8 582.2,226.7 582.4,225.0 582.5,222.7 582.7,222.3 582.8,220.2 583.0,218.0 583.1,216.9 583.3,215.1 583.4,213.5 583.5,211.8 583.6,211.3 583.7,209.2 583.8,207.8 583.9,206.4 584.0,205.2 584.1,202.0 584.2,201.6 584.3,200.3 584.4,197.9 584.5,196.6 584.6,194.5 584.7,193.2 584.8,192.0 584.9,190.0 585.0,188.8 585.1,188.4 585.2,186.3 585.3,184.7 585.4,184.0 585.5,181.8 585.6,181.0 585.7,178.8 586.2,177.7 586.7,174.9 587.2,174.4 587.6,173.2 588.1,170.4 588.6,170.6 591.5,169.9 593.0,171.2 594.5,171.4 595.5,170.3 596.4,168.8 597.4,166.1 599.2,168.5 601.0,168.3 602.5,169.1 604.0,170.0 605.2,170.8 606.4,171.9 607.6,173.8 609.0,173.2 610.5,172.3 611.5,174.8 612.4,175.7 613.4,176.9 614.9,178.1 616.4,178.5 618.0,177.3 619.5,177.1 622.1,177.1 623.6,179.5 623.6,181.1 623.7,182.7 623.7,184.2 623.8,185.8 623.8,187.4 623.9,189.0 623.9,190.5 624.0,192.1 624.0,193.7 624.1,195.3 624.1,196.8 624.2,198.4 624.2,200.0 624.2,201.5 624.2,203.0 624.3,204.5 624.3,206.0 624.3,207.6 624.3,209.1 624.4,210.6 624.4,212.1 624.4,213.6 624.4,215.1 624.5,216.6 624.5,218.1 624.5,219.7 624.5,221.2 624.5,222.7 624.6,224.2 624.6,225.7 624.6,227.2 624.6,228.7 624.7,230.2 624.7,231.7 624.7,233.3 624.7,234.8 624.8,236.3 624.8,237.8 624.8,239.3 624.8,240.8 624.9,242.3 624.9,243.8 624.9,245.3 624.9,246.9 624.9,248.4 625.0,249.9 625.0,251.4 625.0,252.9 625.0,254.4 625.1,255.9 625.1,257.4 625.1,259.0 625.1,260.5 625.2,262.0 625.2,263.5 625.2,265.0 625.2,266.5 625.2,268.0 625.3,269.5 625.3,271.0 625.3,272.6 625.3,274.1 625.4,275.6 625.4,277.1 625.4,278.6 625.4,280.1 625.5,281.6 625.5,283.1 625.5,284.7 625.5,286.2 625.5,287.7 625.6,289.2 625.6,290.7 625.6,292.2 625.6,293.7 625.7,295.2 625.7,296.7 625.7,298.3 625.7,299.8 625.8,301.3 625.8,302.8 625.8,304.3 625.8,305.8 625.9,307.3 625.9,308.8 625.9,310.3 625.9,311.9 625.9,313.4 626.0,314.9 626.0,316.4 626.0,317.9 626.0,319.4 626.1,320.9 626.1,322.4 626.1,324.0 626.1,325.5 626.2,327.0 626.2,328.5 626.2,330.0 626.3,331.6 626.4,333.1 626.4,334.7 626.5,336.2 626.6,337.8 626.7,339.4 626.8,340.9 626.9,342.5 626.9,344.1 627.0,345.6 627.1,347.2 627.2,348.8 627.3,350.3 627.3,351.9 627.4,353.4 627.5,355.0 628.3,356.6 629.0,358.1 629.8,359.7 630.6,361.3 632.4,361.7 634.2,362.1 636.0,362.5 637.6,362.6 639.1,362.7 640.7,362.7 642.2,362.8 643.8,362.9 645.3,363.0 646.9,363.0 648.4,363.1 650.0,363.2 651.5,363.2 653.1,363.2 654.6,363.2 656.2,363.2 657.7,363.2 659.3,363.3 660.8,363.3 662.4,363.3 663.9,363.3 665.5,363.3 667.0,363.3 668.5,363.3 670.1,363.3 671.6,363.3 673.2,363.3 674.7,363.3 676.3,363.4 677.8,363.4 679.4,363.4 680.9,363.4 682.5,363.4 684.0,363.4" fill="none" stroke="#0000f0" stroke-width="2.7" stroke-linejoin="round"/>
<polyline points="395.9,364.0 396.3,250.0 396.6,150.0 397.0,62.7 402.0,63.0 409.3,64.2 416.7,66.4 424.0,69.3 431.3,73.7 436.0,79.0 446.3,88.0 456.5,102.1 466.8,117.5 477.1,135.5 487.3,153.4 497.6,171.4 502.8,180.5 510.6,189.9 518.4,199.3 526.3,208.6 534.1,218.0 541.9,228.9 544.4,234.1 550.3,240.0 554.7,244.4 559.1,250.2 562.8,253.2 566.4,253.9 569.4,256.8 573.8,262.0 579.6,269.3 581.1,259.0 582.6,237.0 584.0,215.0 585.4,180.0 586.4,150.0 587.2,147.9 588.6,153.8 590.1,159.6 593.0,174.2 594.5,180.0 597.4,169.8 599.6,164.0 603.2,165.4 607.6,166.9 621.5,166.6 622.3,185.0 623.5,330.0 623.6,364.0 684.0,364.0" fill="none" stroke="#ff0000" stroke-width="2.5" stroke-dasharray="7.0,4.4,2.2,4.3" stroke-linecap="round" stroke-linejoin="round"/>
<line x1="416.4" y1="331.2" x2="596.7" y2="331.2" stroke="#000" stroke-width="1.7" stroke-dasharray="10.7,5.5"/><path d="M408.4,331.2 L417.9,326.59999999999997 L416.79999999999995,331.2 L417.9,335.8 Z" fill="#000"/><path d="M604.7,331.2 L595.2,326.59999999999997 L596.3000000000001,331.2 L595.2,335.8 Z" fill="#000"/>
<line x1="637.4" y1="331.2" x2="675.0" y2="331.2" stroke="#000" stroke-width="1.7" stroke-dasharray="10.7,5.5"/><path d="M629.4,331.2 L638.9,326.59999999999997 L637.8,331.2 L638.9,335.8 Z" fill="#000"/><path d="M683,331.2 L673.5,326.59999999999997 L674.6,331.2 L673.5,335.8 Z" fill="#000"/>
<text x="473.53" y="323.80" font-size="12.5" letter-spacing="-0.155" fill="#1a1a1a">SiGe epilayer</text>
<text x="650.73" y="308.90" font-size="12.5" letter-spacing="0.195" fill="#1a1a1a">Si</text>
<text x="642.02" y="323.70" font-size="12.5" letter-spacing="-0.294" fill="#1a1a1a">wafer</text>
<line x1="499.2" y1="30.1" x2="533.3" y2="30.1" stroke="#00e600" stroke-width="2.2" stroke-linecap="round"/>
<line x1="499.2" y1="64" x2="533.3" y2="64" stroke="#0000f0" stroke-width="2.4" stroke-linecap="round"/>
<line x1="500.4" y1="104" x2="532.2" y2="104" stroke="#ff0000" stroke-width="2.3" stroke-dasharray="7.0,4.4,2.2,4.3" stroke-linecap="round"/>
<text x="539.66" y="33.90" font-size="12.3" letter-spacing="-0.011" fill="#1a1a1a">Initial Ge profile (EDX)</text>
<text x="540.08" y="61.30" font-size="12.3" letter-spacing="-0.089" fill="#1a1a1a">Ge profile after</text>
<text x="539.87" y="75.60" font-size="12.3" letter-spacing="-0.032" fill="#1a1a1a">laser processing (EDX)</text>
<text x="539.69" y="108.20" font-size="12.3" letter-spacing="-0.034" fill="#1a1a1a">Phase-field simulation</text>
</svg>
</body></html>
